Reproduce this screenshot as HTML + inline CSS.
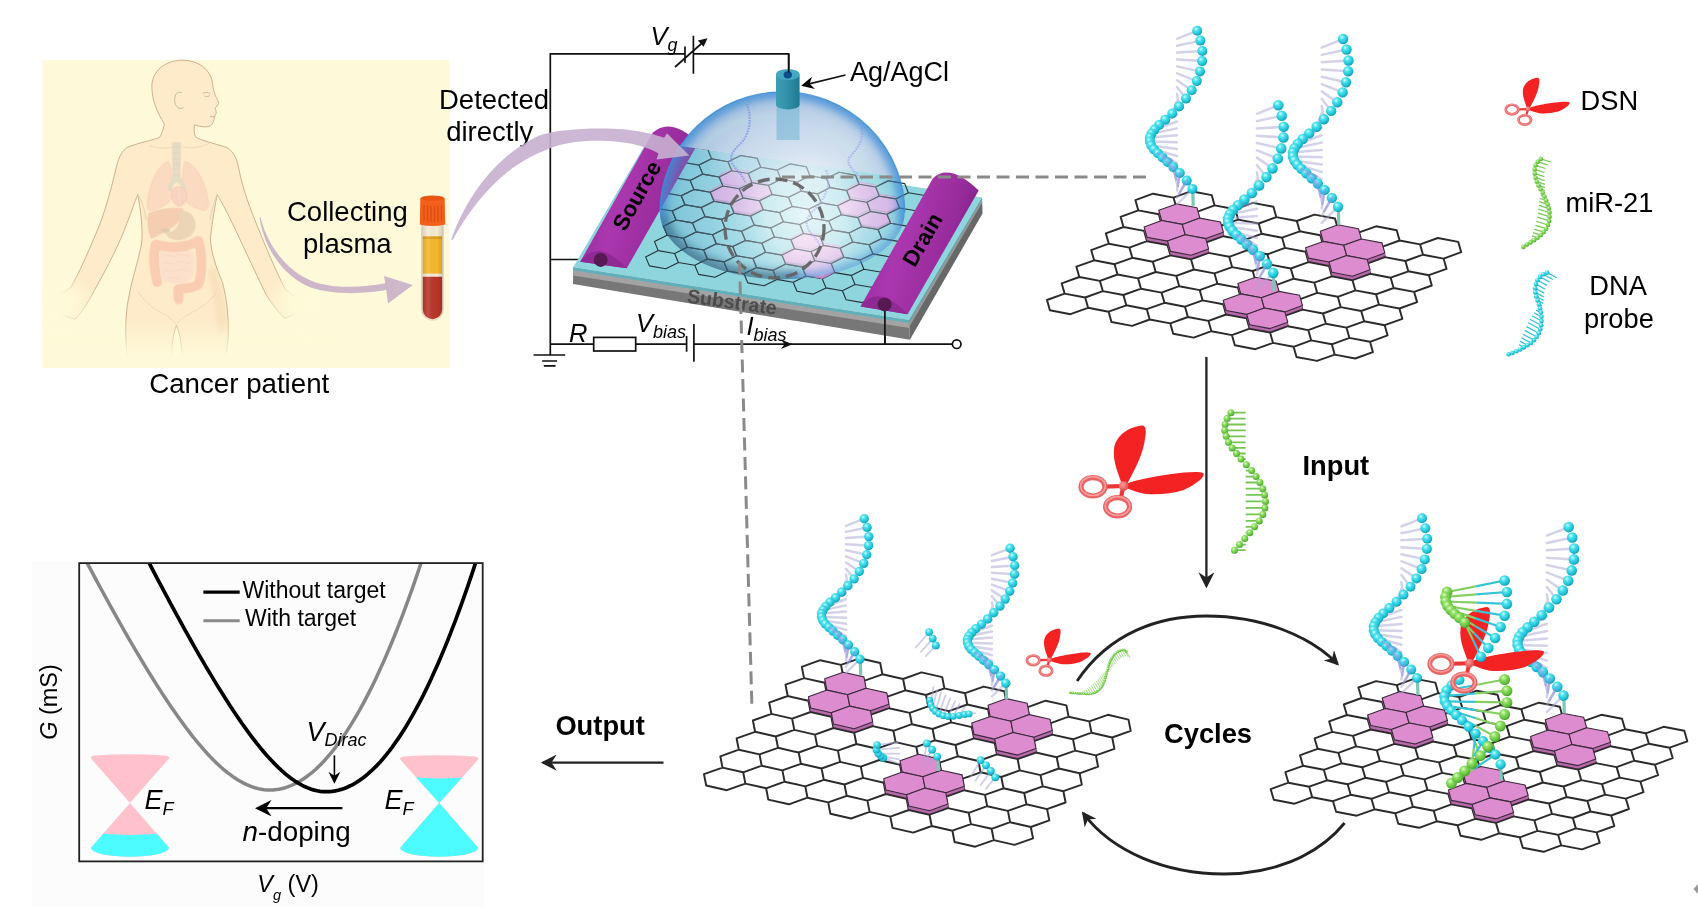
<!DOCTYPE html>
<html><head><meta charset="utf-8"><title>figure</title>
<style>
html,body{margin:0;padding:0;background:#fff;}
svg{display:block;}
text{font-family:"Liberation Sans",sans-serif;fill:#000;}
.b{font-weight:bold;}
.i{font-style:italic;}
</style></head><body>
<svg width="1698" height="913" viewBox="0 0 1698 913">

<defs>
<radialGradient id="gC" cx="0.38" cy="0.32" r="0.75">
 <stop offset="0" stop-color="#d8ffff"/><stop offset="0.28" stop-color="#4fe4f0"/>
 <stop offset="0.7" stop-color="#1fc0d4"/><stop offset="1" stop-color="#0f8fa6"/>
</radialGradient>
<radialGradient id="gG" cx="0.38" cy="0.32" r="0.75">
 <stop offset="0" stop-color="#e4ffc8"/><stop offset="0.3" stop-color="#8fe064"/>
 <stop offset="0.72" stop-color="#62bf3e"/><stop offset="1" stop-color="#3f8f28"/>
</radialGradient>
<radialGradient id="gP" cx="0.4" cy="0.35" r="0.7">
 <stop offset="0" stop-color="#ff9a9a"/><stop offset="1" stop-color="#d94a4a"/>
</radialGradient>
<marker id="ah" viewBox="0 0 10 10" refX="8.5" refY="5" markerWidth="7" markerHeight="7" orient="auto-start-reverse" markerUnits="strokeWidth">
 <path d="M0,0 L10,5 L0,10 L3.2,5 Z" fill="#222"/>
</marker>
<marker id="ah2" viewBox="0 0 10 10" refX="8.5" refY="5" markerWidth="5.6" markerHeight="5.2" orient="auto-start-reverse" markerUnits="strokeWidth">
 <path d="M0,0 L10,5 L0,10 L3.2,5 Z" fill="#222"/>
</marker>
<marker id="ahk" viewBox="0 0 10 10" refX="8.5" refY="5" markerWidth="7.5" markerHeight="7.5" orient="auto-start-reverse" markerUnits="strokeWidth">
 <path d="M0,0 L10,5 L0,10 L3.2,5 Z" fill="#000"/>
</marker>
</defs>

<rect x="0" y="0" width="1698" height="913" fill="#fff"/>
<rect x="42.5" y="60" width="407" height="308" fill="#fefad9"/>
<linearGradient id="fadeB" x1="0" y1="0" x2="0" y2="1">
<stop offset="0" stop-color="#fefad9" stop-opacity="0"/><stop offset="0.8" stop-color="#fefad9" stop-opacity="1"/><stop offset="1" stop-color="#fefad9" stop-opacity="1"/></linearGradient>
<radialGradient id="fadeH" cx="0.5" cy="0.5" r="0.5">
<stop offset="0.25" stop-color="#fefad9" stop-opacity="0.95"/><stop offset="1" stop-color="#fefad9" stop-opacity="0"/></radialGradient>
<g transform="translate(30,50) scale(0.36145)">
<path d="M372,205 C350,170 338,140 337,100 C338,60 370,30 420,28 C468,28 500,55 505,92 C506,104 508,112 512,124 C516,134 522,142 522,148 C521,154 514,156 512,160 C513,166 516,170 515,175 C513,180 510,182 510,186 C510,194 506,204 500,209 C490,216 470,212 455,207 C453,220 454,232 458,240 C470,250 510,258 545,270 C565,282 572,300 578,330 C590,390 610,440 630,490 C650,540 680,610 705,660 C720,675 745,685 752,700 C752,715 730,735 705,742 C690,730 672,705 655,680 C620,610 580,520 548,455 C535,430 525,412 518,400 C512,430 505,470 499,520 C500,560 515,600 533,645 C545,690 550,740 548,800 L540,860 L422,860 C420,820 416,785 405,762 C396,785 392,820 390,860 L270,860 C262,800 264,730 272,690 C280,640 298,590 308,540 C314,500 306,440 298,400 C290,420 280,450 268,480 C250,530 215,600 178,665 C160,700 140,730 125,745 C100,740 65,720 58,695 C70,680 95,668 112,658 C135,620 165,550 192,485 C210,440 228,370 240,320 C246,295 255,280 268,270 C300,256 340,250 358,242 C366,232 368,220 372,205 Z" fill="#fdebc9" stroke="#cdae8c" stroke-width="2.7" stroke-linejoin="round"/>
<filter id="pbl" x="-50%" y="-20%" width="200%" height="140%"><feGaussianBlur stdDeviation="7"/></filter>
<path d="M508,600 C522,640 540,690 545,770 L522,790 C518,720 505,660 494,610 Z" fill="#f3d6ae" opacity="0.55" filter="url(#pbl)"/>
<path d="M330,264 C350,272 380,274 398,268 M422,268 C445,274 470,270 496,258" fill="none" stroke="#ecd0ae" stroke-width="2.2"/>
<path d="M300,670 C320,700 350,722 366,728 C385,738 398,750 405,760 C412,750 425,738 444,728 C470,716 500,695 515,670" fill="none" stroke="#ecd3b3" stroke-width="2.2"/>
<path d="M302,405 C312,425 318,445 322,470 M515,405 C508,425 502,445 498,470" fill="none" stroke="#e6caa8" stroke-width="2.2"/>
<path d="M420,118 C406,112 397,128 401,146 C405,162 418,166 425,158" fill="#fdebc9" stroke="#cdae8c" stroke-width="2.4"/>
<path d="M478,120 C485,116 494,117 499,121 M482,127 C488,130 494,129 498,126" fill="none" stroke="#cfae8c" stroke-width="2.2"/>
<path d="M498,183 C503,186 508,185 513,182" fill="none" stroke="#d9a996" stroke-width="2.6"/>
<g opacity="0.78">
<path d="M383,308 C362,312 338,350 328,400 C321,432 322,447 340,443 C362,436 385,428 392,408 C396,372 394,332 383,308 Z" fill="#f9d4bf" stroke="#f3bfa9" stroke-width="1.6" opacity="0.95"/>
<path d="M428,308 C452,312 478,350 490,400 C497,432 494,447 476,443 C454,436 432,428 426,408 C421,372 420,332 428,308 Z" fill="#f9d4bf" stroke="#f3bfa9" stroke-width="1.6" opacity="0.95"/>
<path d="M393,255 L418,255 L416,350 C423,362 430,372 434,384 L425,388 C420,378 413,370 405,366 C398,370 392,380 388,390 L380,386 C384,372 390,360 394,350 Z" fill="#ddd6c1" opacity="0.95"/>
<path d="M394,270 H417 M394,285 H417 M394,300 H417 M394,315 H417 M394,330 H417 M395,345 H416" stroke="#cfc7b2" stroke-width="1.6" fill="none" opacity="0.8"/>
<path d="M394,388 C401,374 424,375 431,392 C437,410 429,428 412,432 C399,430 388,412 394,388 Z" fill="#f6cfc2" stroke="#eeb3a5" stroke-width="2" opacity="0.95"/>
<path d="M405,385 C402,400 404,415 411,428 M418,382 C424,396 424,412 418,426" fill="none" stroke="#f0bdb0" stroke-width="1.8"/>
<path d="M328,452 C350,440 395,434 424,438 C424,458 412,480 388,494 C366,506 346,520 334,521 C326,502 322,472 328,452 Z" fill="#f2c3a8" opacity="0.95"/>
<path d="M412,446 C432,440 455,455 458,480 C460,505 440,524 412,526 C392,526 378,518 376,506 C392,506 408,496 411,478 C413,465 411,455 412,446 Z" fill="#e3cdb0" opacity="0.95"/>
<path d="M362,498 C372,490 384,492 388,500 C382,508 368,510 362,498 Z" fill="#cdbfa3" opacity="0.85"/>
<path d="M362,555 C390,545 430,548 452,560 C458,590 455,625 440,640 C415,650 385,648 368,635 C358,610 356,580 362,555 Z" fill="#fbdccb" opacity="0.95"/>
<path d="M372,570 C385,562 395,578 408,568 C420,560 432,576 444,568 M370,590 C384,582 396,598 408,588 C420,580 434,596 446,586 M372,612 C386,604 396,620 410,610 C422,602 432,616 442,608 M380,632 C392,626 402,638 414,630" fill="none" stroke="#f6cbb8" stroke-width="1.8"/>
<path d="M352,642 C342,600 340,565 348,538 C385,550 432,548 466,528 C476,560 478,620 466,648 C450,662 425,658 410,662 L411,690 " fill="none" stroke="#f9c3ac" stroke-width="27" stroke-linejoin="round" stroke-linecap="round" opacity="0.95"/>
<path d="M352,642 C342,600 340,565 348,538 C385,550 432,548 466,528 C476,560 478,620 466,648 C450,662 425,658 410,662" fill="none" stroke="#f6b49c" stroke-width="1.6" stroke-dasharray="3 9" opacity="0.7"/>
</g>
</g>
<clipPath id="panelClip"><rect x="42.5" y="60" width="407" height="308"/></clipPath>
<g clip-path="url(#panelClip)">
<rect x="42.5" y="318" width="300" height="50" fill="url(#fadeB)"/>
<ellipse cx="60" cy="304" rx="40" ry="36" fill="url(#fadeH)"/>
<ellipse cx="300" cy="304" rx="38" ry="36" fill="url(#fadeH)"/>
</g>
<path d="M259.4,217.5 C264.2,248 282.7,276.4 311.2,287.8 C334,294.9 362.4,294.1 386.3,290.1 L388,303.5 L412.8,285 L384.1,275.9 L385.2,283.3 C362.4,287.8 336.8,288.4 316.3,282.7 C288.4,273 268.5,248 260.5,217.5 Z" fill="#c9afc6" fill-opacity="0.9"/>
<linearGradient id="tubeG" x1="0" y1="0" x2="1" y2="0">
<stop offset="0" stop-color="#000" stop-opacity="0.12"/><stop offset="0.3" stop-color="#fff" stop-opacity="0.12"/>
<stop offset="0.7" stop-color="#000" stop-opacity="0"/><stop offset="1" stop-color="#000" stop-opacity="0.15"/></linearGradient>
<path d="M421.6,224 L443.3,224 L443.3,309.5 A10.85,10.85 0 0 1 421.6,309.5 Z" fill="#f7ebd3" stroke="#e3d3b8" stroke-width="0.7"/>
<rect x="422.8" y="236.5" width="19.3" height="38" fill="#f4b829"/>
<rect x="422.8" y="236.5" width="19.3" height="2.5" fill="#e0a020"/>
<path d="M422.8,276.5 L442.1,276.5 L442.1,309.5 A9.65,9.65 0 0 1 422.8,309.5 Z" fill="#b93529"/>
<rect x="422.8" y="273.6" width="19.3" height="2.9" fill="#f6ead8"/>
<path d="M421.6,224 L443.3,224 L443.3,309.5 A10.85,10.85 0 0 1 421.6,309.5 Z" fill="url(#tubeG)"/>
<path d="M420.3,198 Q432.5,194.5 444.7,198 L445.2,224.5 Q432.5,227.5 419.8,224.5 Z" fill="#f2601c"/>
<path d="M424,205 V221 M427.5,205.5 V221.5 M431,206 V222 M434.5,206 V222 M438,205.5 V221.5 M441.5,205 V221" stroke="#d94d10" stroke-width="1.2" fill="none"/>
<ellipse cx="432.5" cy="198.2" rx="11.5" ry="2.6" fill="#e85512"/>
<text x="149.2" y="393.3" font-size="27.7">Cancer patient</text>
<text x="287" y="220.6" font-size="27.5">Collecting</text>
<text x="303" y="253.2" font-size="27.5">plasma</text>
<text x="439" y="108.6" font-size="27.5">Detected</text>
<text x="446.2" y="140.8" font-size="27.5">directly</text>
<linearGradient id="elG" x1="0" y1="0" x2="1" y2="0.35">
<stop offset="0" stop-color="#86238b"/><stop offset="0.45" stop-color="#ab37af"/><stop offset="0.8" stop-color="#982c9c"/><stop offset="1" stop-color="#7f2085"/></linearGradient>
<linearGradient id="agG" x1="0" y1="0" x2="1" y2="0">
<stop offset="0" stop-color="#3c9db3"/><stop offset="0.35" stop-color="#3595ac"/><stop offset="1" stop-color="#1f7a92"/></linearGradient>
<radialGradient id="domeG" cx="0.55" cy="0.62" r="0.62" fx="0.58" fy="0.66">
<stop offset="0" stop-color="#ffffff" stop-opacity="0.78"/>
<stop offset="0.35" stop-color="#e4f3fa" stop-opacity="0.66"/>
<stop offset="0.7" stop-color="#a9d0ea" stop-opacity="0.62"/>
<stop offset="0.9" stop-color="#6aaede" stop-opacity="0.78"/>
<stop offset="1" stop-color="#3f8fd2" stop-opacity="0.95"/></radialGradient>
<linearGradient id="domeTop" x1="0" y1="0" x2="0" y2="1">
<stop offset="0" stop-color="#b9c4e8" stop-opacity="0.55"/><stop offset="0.45" stop-color="#c9cfe9" stop-opacity="0.35"/><stop offset="0.6" stop-color="#ffffff" stop-opacity="0"/></linearGradient>
<radialGradient id="domeSh" cx="0.5" cy="0.5" r="0.5">
<stop offset="0.8" stop-color="#1b4a6a" stop-opacity="0"/><stop offset="1" stop-color="#1b4a6a" stop-opacity="0.45"/></radialGradient>
<g stroke="#111" stroke-width="1.7" fill="none">
<path d="M550.3,355 V53.9 H685 M693.4,53.9 H788.7 V72"/>
<path d="M685,46.6 V62.8 M693.4,35.7 V73.7"/>
<path d="M675,67 L705.5,40"/>
<path d="M550.3,259.5 H600"/>
<path d="M550.3,344.2 H593.7 M635.7,344.2 H686.6 M693.9,344.2 H952.4"/>
<rect x="593.7" y="337.4" width="42" height="13.6" fill="#fff"/>
<path d="M686.6,336 V351.8 M693.9,323.9 V361.8"/>
<path d="M884.9,300 V344.2"/>
<circle cx="956.7" cy="344.2" r="4.3" fill="#fff"/>
<path d="M533.5,355 H565.2 M542.2,361 H557.1 M543.8,365.8 H555.6"/>
</g>
<path d="M707.5,38.2 L697.8,40.4 L703.6,46.8 Z" fill="#111"/>
<path d="M792.5,344.2 L781,339.5 L784.5,344.2 L781,348.9 Z" fill="#111"/>
<polygon points="573.2,267.2 909,320 910,339.8 573,284" fill="#777777"/>
<polygon points="909,320 982,197.5 982.5,213.5 910,339.5" fill="#686868"/>
<polygon points="573.2,267.2 909,320 909.3,328 573.2,275.6" fill="#a3a3a3"/>
<polygon points="909,320 982,197.5 982.2,202.5 909.3,327" fill="#989898"/>
<polygon points="573.2,267.2 909,320 909.1,323 573.2,270.3" fill="#5fb0bb"/>
<polygon points="909,320 982,197.5 982.1,199.2 909.1,322.3" fill="#58a6b2"/>
<polygon points="573.2,267.2 909,320 982,197.5 645.5,144" fill="#8fd5de"/>
<text transform="translate(686.4,302.4) rotate(7.9)" font-size="19.6" class="b" style="fill:#484848" fill-opacity="0.92">Substrate</text>
<clipPath id="domeClip0"><path d="M660,212.5 A122.3,120.7 0 0 1 904.7,212.5 A122.3,66.7 0 0 1 660,212.5 Z"/></clipPath>
<polygon points="655,142.6 910,178.3 910,205 655,165" fill="#8fd5de" clip-path="url(#domeClip0)"/>
<clipPath id="tfclip"><polygon points="573.2,267.2 909,320 982,197.5 645.5,144"/><polygon points="655,142.6 910,178.3 910,205 655,165"/></clipPath>
<g clip-path="url(#tfclip)">
<g>
<path d="M731.8 170.7 L719.1 177 L702.8 174.1 L699 165.1 L711.6 158.8 L728 161.7Z M722.9 186 L710.2 192.3 L693.9 189.4 L690.1 180.4 L702.8 174.1 L719.1 177Z M714 201.3 L701.4 207.6 L685 204.7 L681.2 195.7 L693.9 189.4 L710.2 192.3Z M705.1 216.6 L692.4 222.9 L676 220 L672.3 211 L684.9 204.7 L701.3 207.6Z M696.2 231.9 L683.5 238.2 L667.1 235.3 L663.4 226.3 L676 220 L692.4 222.9Z M687.3 247.2 L674.6 253.5 L658.2 250.6 L654.5 241.6 L667.1 235.3 L683.5 238.2Z M678.4 262.5 L665.8 268.8 L649.4 265.9 L645.6 256.9 L658.2 250.6 L674.6 253.5Z M760.8 167.3 L748.2 173.5 L731.8 170.7 L728 161.7 L740.7 155.4 L757.1 158.2Z M751.9 182.6 L739.3 188.8 L722.9 186 L719.1 177 L731.8 170.7 L748.2 173.5Z M743 197.9 L730.4 204.1 L714 201.3 L710.2 192.3 L722.9 186 L739.3 188.8Z M734.1 213.2 L721.5 219.4 L705.1 216.6 L701.3 207.6 L714 201.3 L730.4 204.1Z M725.2 228.5 L712.6 234.7 L696.2 231.9 L692.4 222.9 L705.1 216.6 L721.5 219.4Z M716.3 243.8 L703.7 250 L687.3 247.2 L683.5 238.2 L696.2 231.9 L712.6 234.7Z M707.4 259.1 L694.8 265.3 L678.4 262.5 L674.6 253.5 L687.3 247.2 L703.7 250Z M781 179.2 L768.4 185.4 L752 182.6 L748.2 173.5 L760.9 167.3 L777.2 170.1Z M772.1 194.5 L759.5 200.7 L743.1 197.9 L739.3 188.8 L752 182.6 L768.4 185.4Z M763.2 209.8 L750.5 216 L734.1 213.2 L730.4 204.1 L743 197.9 L759.4 200.7Z M754.3 225.1 L741.6 231.3 L725.2 228.5 L721.5 219.4 L734.1 213.2 L750.5 216Z M745.4 240.4 L732.8 246.6 L716.4 243.8 L712.6 234.7 L725.2 228.5 L741.6 231.3Z M736.5 255.7 L723.9 261.9 L707.5 259.1 L703.7 250 L716.4 243.8 L732.8 246.6Z M727.6 271 L715 277.2 L698.6 274.4 L694.8 265.3 L707.5 259.1 L723.9 261.9Z M810 175.8 L797.4 182 L781 179.2 L777.2 170.1 L789.9 163.9 L806.3 166.7Z M801.1 191.1 L788.5 197.3 L772.1 194.5 L768.4 185.4 L781 179.2 L797.4 182Z M792.2 206.4 L779.6 212.6 L763.2 209.8 L759.4 200.7 L772.1 194.5 L788.5 197.3Z M783.3 221.7 L770.7 227.9 L754.3 225.1 L750.5 216 L763.2 209.8 L779.6 212.6Z M774.4 237 L761.8 243.2 L745.4 240.4 L741.6 231.3 L754.3 225.1 L770.7 227.9Z M765.5 252.3 L752.9 258.5 L736.5 255.7 L732.8 246.6 L745.4 240.4 L761.8 243.2Z M756.6 267.6 L744 273.8 L727.6 271 L723.9 261.9 L736.5 255.7 L752.9 258.5Z M830.2 187.6 L817.6 193.9 L801.2 191.1 L797.4 182 L810.1 175.8 L826.5 178.6Z M821.3 202.9 L808.6 209.2 L792.2 206.4 L788.5 197.3 L801.1 191.1 L817.5 193.9Z M812.4 218.2 L799.8 224.5 L783.4 221.7 L779.6 212.6 L792.2 206.4 L808.6 209.2Z M803.5 233.5 L790.9 239.8 L774.5 237 L770.7 227.9 L783.4 221.7 L799.8 224.5Z M794.6 248.8 L782 255.1 L765.6 252.3 L761.8 243.2 L774.5 237 L790.9 239.8Z M785.7 264.1 L773.1 270.4 L756.7 267.6 L752.9 258.5 L765.6 252.3 L782 255.1Z M776.8 279.4 L764.1 285.7 L747.8 282.9 L744 273.8 L756.6 267.6 L773 270.4Z M859.2 184.2 L846.6 190.5 L830.2 187.6 L826.5 178.6 L839.1 172.3 L855.5 175.2Z M850.3 199.5 L837.7 205.8 L821.3 202.9 L817.5 193.9 L830.2 187.6 L846.6 190.5Z M841.4 214.8 L828.8 221.1 L812.4 218.2 L808.6 209.2 L821.3 202.9 L837.7 205.8Z M832.5 230.1 L819.9 236.4 L803.5 233.5 L799.8 224.5 L812.4 218.2 L828.8 221.1Z M823.6 245.4 L811 251.7 L794.6 248.8 L790.9 239.8 L803.5 233.5 L819.9 236.4Z M814.8 260.7 L802.1 267 L785.7 264.1 L782 255.1 L794.6 248.8 L811 251.7Z M805.8 276 L793.2 282.3 L776.8 279.4 L773 270.4 L785.7 264.1 L802.1 267Z M879.4 196.1 L866.8 202.3 L850.4 199.5 L846.6 190.5 L859.2 184.2 L875.6 187Z M870.5 211.4 L857.9 217.6 L841.5 214.8 L837.7 205.8 L850.4 199.5 L866.8 202.3Z M861.6 226.7 L849 232.9 L832.6 230.1 L828.8 221.1 L841.5 214.8 L857.9 217.6Z M852.7 242 L840.1 248.2 L823.7 245.4 L819.9 236.4 L832.6 230.1 L849 232.9Z M843.8 257.3 L831.2 263.5 L814.8 260.7 L811 251.7 L823.7 245.4 L840.1 248.2Z M834.9 272.6 L822.2 278.8 L805.9 276 L802.1 267 L814.8 260.7 L831.1 263.5Z M826 287.9 L813.4 294.1 L797 291.3 L793.2 282.3 L805.9 276 L822.2 278.8Z M908.4 192.7 L895.8 198.9 L879.4 196.1 L875.6 187 L888.3 180.8 L904.7 183.6Z M899.5 208 L886.9 214.2 L870.5 211.4 L866.8 202.3 L879.4 196.1 L895.8 198.9Z M890.6 223.3 L878 229.5 L861.6 226.7 L857.9 217.6 L870.5 211.4 L886.9 214.2Z M881.8 238.6 L869.1 244.8 L852.7 242 L849 232.9 L861.6 226.7 L878 229.5Z M872.9 253.9 L860.2 260.1 L843.8 257.3 L840.1 248.2 L852.7 242 L869.1 244.8Z M863.9 269.2 L851.3 275.4 L834.9 272.6 L831.1 263.5 L843.8 257.3 L860.2 260.1Z M855 284.5 L842.4 290.7 L826 287.9 L822.2 278.8 L834.9 272.6 L851.3 275.4Z M928.6 204.6 L915.9 210.8 L899.5 208 L895.8 198.9 L908.4 192.7 L924.8 195.5Z M919.7 219.9 L907 226.1 L890.6 223.3 L886.9 214.2 L899.5 208 L915.9 210.8Z M910.8 235.2 L898.1 241.4 L881.8 238.6 L878 229.5 L890.6 223.3 L907 226.1Z M901.9 250.5 L889.2 256.7 L872.9 253.9 L869.1 244.8 L881.8 238.6 L898.1 241.4Z M893 265.8 L880.3 272 L863.9 269.2 L860.2 260.1 L872.8 253.9 L889.2 256.7Z M884.1 281.1 L871.4 287.3 L855 284.5 L851.3 275.4 L863.9 269.2 L880.3 272Z M875.2 296.4 L862.5 302.6 L846.1 299.8 L842.4 290.7 L855 284.5 L871.4 287.3Z M957.6 201.1 L945 207.4 L928.6 204.6 L924.8 195.5 L937.5 189.3 L953.9 192.1Z M948.7 216.4 L936.1 222.7 L919.7 219.9 L915.9 210.8 L928.6 204.6 L945 207.4Z M939.8 231.7 L927.2 238 L910.8 235.2 L907 226.1 L919.7 219.9 L936.1 222.7Z M930.9 247 L918.3 253.3 L901.9 250.5 L898.1 241.4 L910.8 235.2 L927.2 238Z M922 262.3 L909.4 268.6 L893 265.8 L889.2 256.7 L901.9 250.5 L918.3 253.3Z M913.1 277.6 L900.5 283.9 L884.1 281.1 L880.3 272 L893 265.8 L909.4 268.6Z M904.2 292.9 L891.6 299.2 L875.2 296.4 L871.4 287.3 L884.1 281.1 L900.5 283.9Z" fill="none" stroke="#26323a" stroke-width="1.15" stroke-linejoin="round"/>
<polygon points="751.9,182.2 739.3,188.4 722.9,185.6 719.1,176.6 731.8,170.3 748.2,173.1" fill="#c487c6" stroke="#b58fbe" stroke-width="0.7" stroke-linejoin="round"/>
<polygon points="748.2,171.3 751.9,180.4 751.9,182.2 748.2,173.1" fill="#c487c6" stroke="none"/>
<polygon points="751.9,180.4 739.3,186.6 739.3,188.4 751.9,182.2" fill="#c487c6" stroke="none"/>
<polygon points="739.3,186.6 722.9,183.8 722.9,185.6 739.3,188.4" fill="#c487c6" stroke="none"/>
<polygon points="722.9,183.8 719.1,174.8 719.1,176.6 722.9,185.6" fill="#c487c6" stroke="none"/>
<polygon points="743,197.5 730.4,203.7 714,200.9 710.2,191.9 722.9,185.6 739.3,188.4" fill="#c487c6" stroke="#b58fbe" stroke-width="0.7" stroke-linejoin="round"/>
<polygon points="739.3,186.6 743,195.7 743,197.5 739.3,188.4" fill="#c487c6" stroke="none"/>
<polygon points="743,195.7 730.4,201.9 730.4,203.7 743,197.5" fill="#c487c6" stroke="none"/>
<polygon points="730.4,201.9 714,199.1 714,200.9 730.4,203.7" fill="#c487c6" stroke="none"/>
<polygon points="714,199.1 710.2,190.1 710.2,191.9 714,200.9" fill="#c487c6" stroke="none"/>
<polygon points="772.1,194.1 759.5,200.3 743.1,197.5 739.3,188.4 752,182.2 768.4,185" fill="#c487c6" stroke="#b58fbe" stroke-width="0.7" stroke-linejoin="round"/>
<polygon points="768.4,183.2 772.1,192.3 772.1,194.1 768.4,185" fill="#c487c6" stroke="none"/>
<polygon points="772.1,192.3 759.5,198.5 759.5,200.3 772.1,194.1" fill="#c487c6" stroke="none"/>
<polygon points="759.5,198.5 743.1,195.7 743.1,197.5 759.5,200.3" fill="#c487c6" stroke="none"/>
<polygon points="743.1,195.7 739.3,186.6 739.3,188.4 743.1,197.5" fill="#c487c6" stroke="none"/>
<polygon points="763.2,209.4 750.5,215.6 734.1,212.8 730.4,203.7 743,197.5 759.4,200.3" fill="#c487c6" stroke="#b58fbe" stroke-width="0.7" stroke-linejoin="round"/>
<polygon points="759.4,198.5 763.2,207.6 763.2,209.4 759.4,200.3" fill="#c487c6" stroke="none"/>
<polygon points="763.2,207.6 750.5,213.8 750.5,215.6 763.2,209.4" fill="#c487c6" stroke="none"/>
<polygon points="750.5,213.8 734.1,211 734.1,212.8 750.5,215.6" fill="#c487c6" stroke="none"/>
<polygon points="734.1,211 730.4,201.9 730.4,203.7 734.1,212.8" fill="#c487c6" stroke="none"/>
<polygon points="751.9,180.4 739.3,186.6 722.9,183.8 719.1,174.8 731.8,168.5 748.2,171.3" fill="#eaa6e2" stroke="#b58fbe" stroke-width="0.7" stroke-linejoin="round"/>
<polygon points="743,195.7 730.4,201.9 714,199.1 710.2,190.1 722.9,183.8 739.3,186.6" fill="#eaa6e2" stroke="#b58fbe" stroke-width="0.7" stroke-linejoin="round"/>
<polygon points="772.1,192.3 759.5,198.5 743.1,195.7 739.3,186.6 752,180.4 768.4,183.2" fill="#eaa6e2" stroke="#b58fbe" stroke-width="0.7" stroke-linejoin="round"/>
<polygon points="763.2,207.6 750.5,213.8 734.1,211 730.4,201.9 743,195.7 759.4,198.5" fill="#eaa6e2" stroke="#b58fbe" stroke-width="0.7" stroke-linejoin="round"/>
<polygon points="879.4,195.7 866.8,201.9 850.4,199.1 846.6,190.1 859.2,183.8 875.6,186.6" fill="#c487c6" stroke="#b58fbe" stroke-width="0.7" stroke-linejoin="round"/>
<polygon points="875.6,184.8 879.4,193.9 879.4,195.7 875.6,186.6" fill="#c487c6" stroke="none"/>
<polygon points="879.4,193.9 866.8,200.1 866.8,201.9 879.4,195.7" fill="#c487c6" stroke="none"/>
<polygon points="866.8,200.1 850.4,197.3 850.4,199.1 866.8,201.9" fill="#c487c6" stroke="none"/>
<polygon points="850.4,197.3 846.6,188.3 846.6,190.1 850.4,199.1" fill="#c487c6" stroke="none"/>
<polygon points="870.5,211 857.9,217.2 841.5,214.4 837.7,205.4 850.4,199.1 866.8,201.9" fill="#c487c6" stroke="#b58fbe" stroke-width="0.7" stroke-linejoin="round"/>
<polygon points="866.8,200.1 870.5,209.2 870.5,211 866.8,201.9" fill="#c487c6" stroke="none"/>
<polygon points="870.5,209.2 857.9,215.4 857.9,217.2 870.5,211" fill="#c487c6" stroke="none"/>
<polygon points="857.9,215.4 841.5,212.6 841.5,214.4 857.9,217.2" fill="#c487c6" stroke="none"/>
<polygon points="841.5,212.6 837.7,203.6 837.7,205.4 841.5,214.4" fill="#c487c6" stroke="none"/>
<polygon points="899.5,207.6 886.9,213.8 870.5,211 866.8,201.9 879.4,195.7 895.8,198.5" fill="#c487c6" stroke="#b58fbe" stroke-width="0.7" stroke-linejoin="round"/>
<polygon points="895.8,196.7 899.5,205.8 899.5,207.6 895.8,198.5" fill="#c487c6" stroke="none"/>
<polygon points="899.5,205.8 886.9,212 886.9,213.8 899.5,207.6" fill="#c487c6" stroke="none"/>
<polygon points="886.9,212 870.5,209.2 870.5,211 886.9,213.8" fill="#c487c6" stroke="none"/>
<polygon points="870.5,209.2 866.8,200.1 866.8,201.9 870.5,211" fill="#c487c6" stroke="none"/>
<polygon points="890.6,222.9 878,229.1 861.6,226.3 857.9,217.2 870.5,211 886.9,213.8" fill="#c487c6" stroke="#b58fbe" stroke-width="0.7" stroke-linejoin="round"/>
<polygon points="886.9,212 890.6,221.1 890.6,222.9 886.9,213.8" fill="#c487c6" stroke="none"/>
<polygon points="890.6,221.1 878,227.3 878,229.1 890.6,222.9" fill="#c487c6" stroke="none"/>
<polygon points="878,227.3 861.6,224.5 861.6,226.3 878,229.1" fill="#c487c6" stroke="none"/>
<polygon points="861.6,224.5 857.9,215.4 857.9,217.2 861.6,226.3" fill="#c487c6" stroke="none"/>
<polygon points="879.4,193.9 866.8,200.1 850.4,197.3 846.6,188.3 859.2,182 875.6,184.8" fill="#eaa6e2" stroke="#b58fbe" stroke-width="0.7" stroke-linejoin="round"/>
<polygon points="870.5,209.2 857.9,215.4 841.5,212.6 837.7,203.6 850.4,197.3 866.8,200.1" fill="#eaa6e2" stroke="#b58fbe" stroke-width="0.7" stroke-linejoin="round"/>
<polygon points="899.5,205.8 886.9,212 870.5,209.2 866.8,200.1 879.4,193.9 895.8,196.7" fill="#eaa6e2" stroke="#b58fbe" stroke-width="0.7" stroke-linejoin="round"/>
<polygon points="890.6,221.1 878,227.3 861.6,224.5 857.9,215.4 870.5,209.2 886.9,212" fill="#eaa6e2" stroke="#b58fbe" stroke-width="0.7" stroke-linejoin="round"/>
<polygon points="823.6,245 811,251.3 794.6,248.4 790.9,239.4 803.5,233.1 819.9,236" fill="#c487c6" stroke="#b58fbe" stroke-width="0.7" stroke-linejoin="round"/>
<polygon points="819.9,234.2 823.6,243.2 823.6,245 819.9,236" fill="#c487c6" stroke="none"/>
<polygon points="823.6,243.2 811,249.5 811,251.3 823.6,245" fill="#c487c6" stroke="none"/>
<polygon points="811,249.5 794.6,246.6 794.6,248.4 811,251.3" fill="#c487c6" stroke="none"/>
<polygon points="794.6,246.6 790.9,237.6 790.9,239.4 794.6,248.4" fill="#c487c6" stroke="none"/>
<polygon points="814.8,260.3 802.1,266.6 785.7,263.7 782,254.7 794.6,248.4 811,251.3" fill="#c487c6" stroke="#b58fbe" stroke-width="0.7" stroke-linejoin="round"/>
<polygon points="811,249.5 814.8,258.5 814.8,260.3 811,251.3" fill="#c487c6" stroke="none"/>
<polygon points="814.8,258.5 802.1,264.8 802.1,266.6 814.8,260.3" fill="#c487c6" stroke="none"/>
<polygon points="802.1,264.8 785.7,261.9 785.7,263.7 802.1,266.6" fill="#c487c6" stroke="none"/>
<polygon points="785.7,261.9 782,252.9 782,254.7 785.7,263.7" fill="#c487c6" stroke="none"/>
<polygon points="843.8,256.9 831.2,263.1 814.8,260.3 811,251.3 823.7,245 840.1,247.8" fill="#c487c6" stroke="#b58fbe" stroke-width="0.7" stroke-linejoin="round"/>
<polygon points="840.1,246 843.8,255.1 843.8,256.9 840.1,247.8" fill="#c487c6" stroke="none"/>
<polygon points="843.8,255.1 831.2,261.3 831.2,263.1 843.8,256.9" fill="#c487c6" stroke="none"/>
<polygon points="831.2,261.3 814.8,258.5 814.8,260.3 831.2,263.1" fill="#c487c6" stroke="none"/>
<polygon points="814.8,258.5 811,249.5 811,251.3 814.8,260.3" fill="#c487c6" stroke="none"/>
<polygon points="834.9,272.2 822.2,278.4 805.9,275.6 802.1,266.6 814.8,260.3 831.1,263.1" fill="#c487c6" stroke="#b58fbe" stroke-width="0.7" stroke-linejoin="round"/>
<polygon points="831.1,261.3 834.9,270.4 834.9,272.2 831.1,263.1" fill="#c487c6" stroke="none"/>
<polygon points="834.9,270.4 822.2,276.6 822.2,278.4 834.9,272.2" fill="#c487c6" stroke="none"/>
<polygon points="822.2,276.6 805.9,273.8 805.9,275.6 822.2,278.4" fill="#c487c6" stroke="none"/>
<polygon points="805.9,273.8 802.1,264.8 802.1,266.6 805.9,275.6" fill="#c487c6" stroke="none"/>
<polygon points="823.6,243.2 811,249.5 794.6,246.6 790.9,237.6 803.5,231.3 819.9,234.2" fill="#eaa6e2" stroke="#b58fbe" stroke-width="0.7" stroke-linejoin="round"/>
<polygon points="814.8,258.5 802.1,264.8 785.7,261.9 782,252.9 794.6,246.6 811,249.5" fill="#eaa6e2" stroke="#b58fbe" stroke-width="0.7" stroke-linejoin="round"/>
<polygon points="843.8,255.1 831.2,261.3 814.8,258.5 811,249.5 823.7,243.2 840.1,246" fill="#eaa6e2" stroke="#b58fbe" stroke-width="0.7" stroke-linejoin="round"/>
<polygon points="834.9,270.4 822.2,276.6 805.9,273.8 802.1,264.8 814.8,258.5 831.1,261.3" fill="#eaa6e2" stroke="#b58fbe" stroke-width="0.7" stroke-linejoin="round"/>
</g>
</g>
<g clip-path="url(#domeClip0)">
<g clip-path="url(#tfclip)">
<path d="M731.8 170.7 L719.1 177 L702.8 174.1 L699 165.1 L711.6 158.8 L728 161.7Z M722.9 186 L710.2 192.3 L693.9 189.4 L690.1 180.4 L702.8 174.1 L719.1 177Z M714 201.3 L701.4 207.6 L685 204.7 L681.2 195.7 L693.9 189.4 L710.2 192.3Z M705.1 216.6 L692.4 222.9 L676 220 L672.3 211 L684.9 204.7 L701.3 207.6Z M696.2 231.9 L683.5 238.2 L667.1 235.3 L663.4 226.3 L676 220 L692.4 222.9Z M687.3 247.2 L674.6 253.5 L658.2 250.6 L654.5 241.6 L667.1 235.3 L683.5 238.2Z M678.4 262.5 L665.8 268.8 L649.4 265.9 L645.6 256.9 L658.2 250.6 L674.6 253.5Z M760.8 167.3 L748.2 173.5 L731.8 170.7 L728 161.7 L740.7 155.4 L757.1 158.2Z M751.9 182.6 L739.3 188.8 L722.9 186 L719.1 177 L731.8 170.7 L748.2 173.5Z M743 197.9 L730.4 204.1 L714 201.3 L710.2 192.3 L722.9 186 L739.3 188.8Z M734.1 213.2 L721.5 219.4 L705.1 216.6 L701.3 207.6 L714 201.3 L730.4 204.1Z M725.2 228.5 L712.6 234.7 L696.2 231.9 L692.4 222.9 L705.1 216.6 L721.5 219.4Z M716.3 243.8 L703.7 250 L687.3 247.2 L683.5 238.2 L696.2 231.9 L712.6 234.7Z M707.4 259.1 L694.8 265.3 L678.4 262.5 L674.6 253.5 L687.3 247.2 L703.7 250Z M781 179.2 L768.4 185.4 L752 182.6 L748.2 173.5 L760.9 167.3 L777.2 170.1Z M772.1 194.5 L759.5 200.7 L743.1 197.9 L739.3 188.8 L752 182.6 L768.4 185.4Z M763.2 209.8 L750.5 216 L734.1 213.2 L730.4 204.1 L743 197.9 L759.4 200.7Z M754.3 225.1 L741.6 231.3 L725.2 228.5 L721.5 219.4 L734.1 213.2 L750.5 216Z M745.4 240.4 L732.8 246.6 L716.4 243.8 L712.6 234.7 L725.2 228.5 L741.6 231.3Z M736.5 255.7 L723.9 261.9 L707.5 259.1 L703.7 250 L716.4 243.8 L732.8 246.6Z M727.6 271 L715 277.2 L698.6 274.4 L694.8 265.3 L707.5 259.1 L723.9 261.9Z M810 175.8 L797.4 182 L781 179.2 L777.2 170.1 L789.9 163.9 L806.3 166.7Z M801.1 191.1 L788.5 197.3 L772.1 194.5 L768.4 185.4 L781 179.2 L797.4 182Z M792.2 206.4 L779.6 212.6 L763.2 209.8 L759.4 200.7 L772.1 194.5 L788.5 197.3Z M783.3 221.7 L770.7 227.9 L754.3 225.1 L750.5 216 L763.2 209.8 L779.6 212.6Z M774.4 237 L761.8 243.2 L745.4 240.4 L741.6 231.3 L754.3 225.1 L770.7 227.9Z M765.5 252.3 L752.9 258.5 L736.5 255.7 L732.8 246.6 L745.4 240.4 L761.8 243.2Z M756.6 267.6 L744 273.8 L727.6 271 L723.9 261.9 L736.5 255.7 L752.9 258.5Z M830.2 187.6 L817.6 193.9 L801.2 191.1 L797.4 182 L810.1 175.8 L826.5 178.6Z M821.3 202.9 L808.6 209.2 L792.2 206.4 L788.5 197.3 L801.1 191.1 L817.5 193.9Z M812.4 218.2 L799.8 224.5 L783.4 221.7 L779.6 212.6 L792.2 206.4 L808.6 209.2Z M803.5 233.5 L790.9 239.8 L774.5 237 L770.7 227.9 L783.4 221.7 L799.8 224.5Z M794.6 248.8 L782 255.1 L765.6 252.3 L761.8 243.2 L774.5 237 L790.9 239.8Z M785.7 264.1 L773.1 270.4 L756.7 267.6 L752.9 258.5 L765.6 252.3 L782 255.1Z M776.8 279.4 L764.1 285.7 L747.8 282.9 L744 273.8 L756.6 267.6 L773 270.4Z M859.2 184.2 L846.6 190.5 L830.2 187.6 L826.5 178.6 L839.1 172.3 L855.5 175.2Z M850.3 199.5 L837.7 205.8 L821.3 202.9 L817.5 193.9 L830.2 187.6 L846.6 190.5Z M841.4 214.8 L828.8 221.1 L812.4 218.2 L808.6 209.2 L821.3 202.9 L837.7 205.8Z M832.5 230.1 L819.9 236.4 L803.5 233.5 L799.8 224.5 L812.4 218.2 L828.8 221.1Z M823.6 245.4 L811 251.7 L794.6 248.8 L790.9 239.8 L803.5 233.5 L819.9 236.4Z M814.8 260.7 L802.1 267 L785.7 264.1 L782 255.1 L794.6 248.8 L811 251.7Z M805.8 276 L793.2 282.3 L776.8 279.4 L773 270.4 L785.7 264.1 L802.1 267Z M879.4 196.1 L866.8 202.3 L850.4 199.5 L846.6 190.5 L859.2 184.2 L875.6 187Z M870.5 211.4 L857.9 217.6 L841.5 214.8 L837.7 205.8 L850.4 199.5 L866.8 202.3Z M861.6 226.7 L849 232.9 L832.6 230.1 L828.8 221.1 L841.5 214.8 L857.9 217.6Z M852.7 242 L840.1 248.2 L823.7 245.4 L819.9 236.4 L832.6 230.1 L849 232.9Z M843.8 257.3 L831.2 263.5 L814.8 260.7 L811 251.7 L823.7 245.4 L840.1 248.2Z M834.9 272.6 L822.2 278.8 L805.9 276 L802.1 267 L814.8 260.7 L831.1 263.5Z M826 287.9 L813.4 294.1 L797 291.3 L793.2 282.3 L805.9 276 L822.2 278.8Z M908.4 192.7 L895.8 198.9 L879.4 196.1 L875.6 187 L888.3 180.8 L904.7 183.6Z M899.5 208 L886.9 214.2 L870.5 211.4 L866.8 202.3 L879.4 196.1 L895.8 198.9Z M890.6 223.3 L878 229.5 L861.6 226.7 L857.9 217.6 L870.5 211.4 L886.9 214.2Z M881.8 238.6 L869.1 244.8 L852.7 242 L849 232.9 L861.6 226.7 L878 229.5Z M872.9 253.9 L860.2 260.1 L843.8 257.3 L840.1 248.2 L852.7 242 L869.1 244.8Z M863.9 269.2 L851.3 275.4 L834.9 272.6 L831.1 263.5 L843.8 257.3 L860.2 260.1Z M855 284.5 L842.4 290.7 L826 287.9 L822.2 278.8 L834.9 272.6 L851.3 275.4Z M928.6 204.6 L915.9 210.8 L899.5 208 L895.8 198.9 L908.4 192.7 L924.8 195.5Z M919.7 219.9 L907 226.1 L890.6 223.3 L886.9 214.2 L899.5 208 L915.9 210.8Z M910.8 235.2 L898.1 241.4 L881.8 238.6 L878 229.5 L890.6 223.3 L907 226.1Z M901.9 250.5 L889.2 256.7 L872.9 253.9 L869.1 244.8 L881.8 238.6 L898.1 241.4Z M893 265.8 L880.3 272 L863.9 269.2 L860.2 260.1 L872.8 253.9 L889.2 256.7Z M884.1 281.1 L871.4 287.3 L855 284.5 L851.3 275.4 L863.9 269.2 L880.3 272Z M875.2 296.4 L862.5 302.6 L846.1 299.8 L842.4 290.7 L855 284.5 L871.4 287.3Z M957.6 201.1 L945 207.4 L928.6 204.6 L924.8 195.5 L937.5 189.3 L953.9 192.1Z M948.7 216.4 L936.1 222.7 L919.7 219.9 L915.9 210.8 L928.6 204.6 L945 207.4Z M939.8 231.7 L927.2 238 L910.8 235.2 L907 226.1 L919.7 219.9 L936.1 222.7Z M930.9 247 L918.3 253.3 L901.9 250.5 L898.1 241.4 L910.8 235.2 L927.2 238Z M922 262.3 L909.4 268.6 L893 265.8 L889.2 256.7 L901.9 250.5 L918.3 253.3Z M913.1 277.6 L900.5 283.9 L884.1 281.1 L880.3 272 L893 265.8 L909.4 268.6Z M904.2 292.9 L891.6 299.2 L875.2 296.4 L871.4 287.3 L884.1 281.1 L900.5 283.9Z M711.6 158.8 L699 165.1 L682.6 162.3 L678.9 153.2 L691.5 147 L707.9 149.8Z M702.8 174.1 L690.1 180.4 L673.7 177.6 L670 168.5 L682.6 162.3 L699 165.1Z M693.9 189.4 L681.2 195.7 L664.8 192.9 L661.1 183.8 L673.7 177.6 L690.1 180.4Z M685 204.7 L672.3 211 L655.9 208.2 L652.2 199.1 L664.8 192.9 L681.2 195.7Z M676 220 L663.4 226.3 L647 223.5 L643.2 214.4 L655.9 208.2 L672.3 211Z M667.1 235.3 L654.5 241.6 L638.1 238.8 L634.4 229.7 L647 223.5 L663.4 226.3Z M658.2 250.6 L645.6 256.9 L629.2 254.1 L625.5 245 L638.1 238.8 L654.5 241.6Z" fill="none" stroke="#26323a" stroke-width="1.15" stroke-linejoin="round"/>
</g>
</g>
<path d="M580.2,261.8 L652.9,132.4 Q670.7,116.5 698.5,142.6 L626.8,268.3 Z" fill="url(#elG)"/>
<path d="M580.2,261.8 Q597.8,237.4 626.8,268.3 Z" fill="#8f2a94"/>
<circle cx="600.7" cy="259.9" r="7" fill="#561a52"/>
<text transform="translate(643.5,199.3) rotate(-60.8)" font-size="22.3" class="b" text-anchor="middle">Source</text>
<clipPath id="domeClip"><path d="M660,212.5 A122.3,120.7 0 0 1 904.7,212.5 A122.3,66.7 0 0 1 660,212.5 Z"/></clipPath>
<filter id="bl5" x="-20%" y="-20%" width="140%" height="140%"><feGaussianBlur stdDeviation="5"/></filter>
<filter id="bl3" x="-20%" y="-20%" width="140%" height="140%"><feGaussianBlur stdDeviation="2.5"/></filter>
<filter id="bl9" x="-30%" y="-30%" width="160%" height="160%"><feGaussianBlur stdDeviation="9"/></filter>
<radialGradient id="domeW" gradientUnits="userSpaceOnUse" cx="806" cy="214" r="135">
<stop offset="0" stop-color="#ffffff" stop-opacity="0.8"/><stop offset="0.3" stop-color="#f4fbfd" stop-opacity="0.62"/>
<stop offset="0.6" stop-color="#b5dcee" stop-opacity="0.36"/><stop offset="1" stop-color="#5b9fcc" stop-opacity="0.32"/></radialGradient>
<g clip-path="url(#domeClip)">
<polygon points="640,60 930,60 930,181.1 655,142.6 640,140" fill="#ccd2e8"/>
<ellipse cx="790" cy="150" rx="75" ry="38" fill="#e3e4f0" fill-opacity="0.55" filter="url(#bl9)"/>
<path d="M660,212.5 A122.3,120.7 0 0 1 904.7,212.5 A122.3,66.7 0 0 1 660,212.5 Z" fill="url(#domeW)"/>
<path d="M700,150 C720,120 760,112 800,118 M820,132 C850,140 870,165 880,195" fill="none" stroke="#bff0e0" stroke-width="3" stroke-opacity="0.35" filter="url(#bl3)"/>
<path d="M660,212.5 A122.3,66.7 0 0 0 800,279" fill="none" stroke="#1f4a63" stroke-width="16" stroke-opacity="0.55" filter="url(#bl5)"/>
<path d="M655,232 L660,212.5 A122.3,120.7 0 0 1 904.7,212.5 L912,235" fill="none" stroke="#3a8bd6" stroke-width="12" stroke-opacity="0.85" filter="url(#bl5)"/>
<path d="M904.7,212.5 A122.3,66.7 0 0 1 782,279.2" fill="none" stroke="#3a8bd6" stroke-width="10" stroke-opacity="0.6" filter="url(#bl5)"/>
<path d="M782,279.2 A122.3,66.7 0 0 1 660,212.5" fill="none" stroke="#4a7fa8" stroke-width="8" stroke-opacity="0.35" filter="url(#bl5)"/>
</g>
<clipPath id="noSrc"><polygon points="700,140 1000,140 1000,350 626.8,350 626.8,268.3"/></clipPath>
<g clip-path="url(#noSrc)"><g clip-path="url(#domeClip)" opacity="0.3">
<g clip-path="url(#tfclip)">
<path d="M731.8 170.7 L719.1 177 L702.8 174.1 L699 165.1 L711.6 158.8 L728 161.7Z M722.9 186 L710.2 192.3 L693.9 189.4 L690.1 180.4 L702.8 174.1 L719.1 177Z M714 201.3 L701.4 207.6 L685 204.7 L681.2 195.7 L693.9 189.4 L710.2 192.3Z M705.1 216.6 L692.4 222.9 L676 220 L672.3 211 L684.9 204.7 L701.3 207.6Z M696.2 231.9 L683.5 238.2 L667.1 235.3 L663.4 226.3 L676 220 L692.4 222.9Z M687.3 247.2 L674.6 253.5 L658.2 250.6 L654.5 241.6 L667.1 235.3 L683.5 238.2Z M678.4 262.5 L665.8 268.8 L649.4 265.9 L645.6 256.9 L658.2 250.6 L674.6 253.5Z M760.8 167.3 L748.2 173.5 L731.8 170.7 L728 161.7 L740.7 155.4 L757.1 158.2Z M751.9 182.6 L739.3 188.8 L722.9 186 L719.1 177 L731.8 170.7 L748.2 173.5Z M743 197.9 L730.4 204.1 L714 201.3 L710.2 192.3 L722.9 186 L739.3 188.8Z M734.1 213.2 L721.5 219.4 L705.1 216.6 L701.3 207.6 L714 201.3 L730.4 204.1Z M725.2 228.5 L712.6 234.7 L696.2 231.9 L692.4 222.9 L705.1 216.6 L721.5 219.4Z M716.3 243.8 L703.7 250 L687.3 247.2 L683.5 238.2 L696.2 231.9 L712.6 234.7Z M707.4 259.1 L694.8 265.3 L678.4 262.5 L674.6 253.5 L687.3 247.2 L703.7 250Z M781 179.2 L768.4 185.4 L752 182.6 L748.2 173.5 L760.9 167.3 L777.2 170.1Z M772.1 194.5 L759.5 200.7 L743.1 197.9 L739.3 188.8 L752 182.6 L768.4 185.4Z M763.2 209.8 L750.5 216 L734.1 213.2 L730.4 204.1 L743 197.9 L759.4 200.7Z M754.3 225.1 L741.6 231.3 L725.2 228.5 L721.5 219.4 L734.1 213.2 L750.5 216Z M745.4 240.4 L732.8 246.6 L716.4 243.8 L712.6 234.7 L725.2 228.5 L741.6 231.3Z M736.5 255.7 L723.9 261.9 L707.5 259.1 L703.7 250 L716.4 243.8 L732.8 246.6Z M727.6 271 L715 277.2 L698.6 274.4 L694.8 265.3 L707.5 259.1 L723.9 261.9Z M810 175.8 L797.4 182 L781 179.2 L777.2 170.1 L789.9 163.9 L806.3 166.7Z M801.1 191.1 L788.5 197.3 L772.1 194.5 L768.4 185.4 L781 179.2 L797.4 182Z M792.2 206.4 L779.6 212.6 L763.2 209.8 L759.4 200.7 L772.1 194.5 L788.5 197.3Z M783.3 221.7 L770.7 227.9 L754.3 225.1 L750.5 216 L763.2 209.8 L779.6 212.6Z M774.4 237 L761.8 243.2 L745.4 240.4 L741.6 231.3 L754.3 225.1 L770.7 227.9Z M765.5 252.3 L752.9 258.5 L736.5 255.7 L732.8 246.6 L745.4 240.4 L761.8 243.2Z M756.6 267.6 L744 273.8 L727.6 271 L723.9 261.9 L736.5 255.7 L752.9 258.5Z M830.2 187.6 L817.6 193.9 L801.2 191.1 L797.4 182 L810.1 175.8 L826.5 178.6Z M821.3 202.9 L808.6 209.2 L792.2 206.4 L788.5 197.3 L801.1 191.1 L817.5 193.9Z M812.4 218.2 L799.8 224.5 L783.4 221.7 L779.6 212.6 L792.2 206.4 L808.6 209.2Z M803.5 233.5 L790.9 239.8 L774.5 237 L770.7 227.9 L783.4 221.7 L799.8 224.5Z M794.6 248.8 L782 255.1 L765.6 252.3 L761.8 243.2 L774.5 237 L790.9 239.8Z M785.7 264.1 L773.1 270.4 L756.7 267.6 L752.9 258.5 L765.6 252.3 L782 255.1Z M776.8 279.4 L764.1 285.7 L747.8 282.9 L744 273.8 L756.6 267.6 L773 270.4Z M859.2 184.2 L846.6 190.5 L830.2 187.6 L826.5 178.6 L839.1 172.3 L855.5 175.2Z M850.3 199.5 L837.7 205.8 L821.3 202.9 L817.5 193.9 L830.2 187.6 L846.6 190.5Z M841.4 214.8 L828.8 221.1 L812.4 218.2 L808.6 209.2 L821.3 202.9 L837.7 205.8Z M832.5 230.1 L819.9 236.4 L803.5 233.5 L799.8 224.5 L812.4 218.2 L828.8 221.1Z M823.6 245.4 L811 251.7 L794.6 248.8 L790.9 239.8 L803.5 233.5 L819.9 236.4Z M814.8 260.7 L802.1 267 L785.7 264.1 L782 255.1 L794.6 248.8 L811 251.7Z M805.8 276 L793.2 282.3 L776.8 279.4 L773 270.4 L785.7 264.1 L802.1 267Z M879.4 196.1 L866.8 202.3 L850.4 199.5 L846.6 190.5 L859.2 184.2 L875.6 187Z M870.5 211.4 L857.9 217.6 L841.5 214.8 L837.7 205.8 L850.4 199.5 L866.8 202.3Z M861.6 226.7 L849 232.9 L832.6 230.1 L828.8 221.1 L841.5 214.8 L857.9 217.6Z M852.7 242 L840.1 248.2 L823.7 245.4 L819.9 236.4 L832.6 230.1 L849 232.9Z M843.8 257.3 L831.2 263.5 L814.8 260.7 L811 251.7 L823.7 245.4 L840.1 248.2Z M834.9 272.6 L822.2 278.8 L805.9 276 L802.1 267 L814.8 260.7 L831.1 263.5Z M826 287.9 L813.4 294.1 L797 291.3 L793.2 282.3 L805.9 276 L822.2 278.8Z M908.4 192.7 L895.8 198.9 L879.4 196.1 L875.6 187 L888.3 180.8 L904.7 183.6Z M899.5 208 L886.9 214.2 L870.5 211.4 L866.8 202.3 L879.4 196.1 L895.8 198.9Z M890.6 223.3 L878 229.5 L861.6 226.7 L857.9 217.6 L870.5 211.4 L886.9 214.2Z M881.8 238.6 L869.1 244.8 L852.7 242 L849 232.9 L861.6 226.7 L878 229.5Z M872.9 253.9 L860.2 260.1 L843.8 257.3 L840.1 248.2 L852.7 242 L869.1 244.8Z M863.9 269.2 L851.3 275.4 L834.9 272.6 L831.1 263.5 L843.8 257.3 L860.2 260.1Z M855 284.5 L842.4 290.7 L826 287.9 L822.2 278.8 L834.9 272.6 L851.3 275.4Z M928.6 204.6 L915.9 210.8 L899.5 208 L895.8 198.9 L908.4 192.7 L924.8 195.5Z M919.7 219.9 L907 226.1 L890.6 223.3 L886.9 214.2 L899.5 208 L915.9 210.8Z M910.8 235.2 L898.1 241.4 L881.8 238.6 L878 229.5 L890.6 223.3 L907 226.1Z M901.9 250.5 L889.2 256.7 L872.9 253.9 L869.1 244.8 L881.8 238.6 L898.1 241.4Z M893 265.8 L880.3 272 L863.9 269.2 L860.2 260.1 L872.8 253.9 L889.2 256.7Z M884.1 281.1 L871.4 287.3 L855 284.5 L851.3 275.4 L863.9 269.2 L880.3 272Z M875.2 296.4 L862.5 302.6 L846.1 299.8 L842.4 290.7 L855 284.5 L871.4 287.3Z M957.6 201.1 L945 207.4 L928.6 204.6 L924.8 195.5 L937.5 189.3 L953.9 192.1Z M948.7 216.4 L936.1 222.7 L919.7 219.9 L915.9 210.8 L928.6 204.6 L945 207.4Z M939.8 231.7 L927.2 238 L910.8 235.2 L907 226.1 L919.7 219.9 L936.1 222.7Z M930.9 247 L918.3 253.3 L901.9 250.5 L898.1 241.4 L910.8 235.2 L927.2 238Z M922 262.3 L909.4 268.6 L893 265.8 L889.2 256.7 L901.9 250.5 L918.3 253.3Z M913.1 277.6 L900.5 283.9 L884.1 281.1 L880.3 272 L893 265.8 L909.4 268.6Z M904.2 292.9 L891.6 299.2 L875.2 296.4 L871.4 287.3 L884.1 281.1 L900.5 283.9Z M711.6 158.8 L699 165.1 L682.6 162.3 L678.9 153.2 L691.5 147 L707.9 149.8Z M702.8 174.1 L690.1 180.4 L673.7 177.6 L670 168.5 L682.6 162.3 L699 165.1Z M693.9 189.4 L681.2 195.7 L664.8 192.9 L661.1 183.8 L673.7 177.6 L690.1 180.4Z M685 204.7 L672.3 211 L655.9 208.2 L652.2 199.1 L664.8 192.9 L681.2 195.7Z M676 220 L663.4 226.3 L647 223.5 L643.2 214.4 L655.9 208.2 L672.3 211Z M667.1 235.3 L654.5 241.6 L638.1 238.8 L634.4 229.7 L647 223.5 L663.4 226.3Z M658.2 250.6 L645.6 256.9 L629.2 254.1 L625.5 245 L638.1 238.8 L654.5 241.6Z" fill="none" stroke="#26323a" stroke-width="1.1" stroke-linejoin="round"/>
</g>
</g></g>
<path d="M660,212.5 A122.3,120.7 0 0 1 904.7,212.5" fill="none" stroke="#3d8fd6" stroke-width="1.4" stroke-opacity="0.8"/>
<path d="M747,104 C752,118 750,132 742,142 C734,150 729,155 732,163 C736,170 742,174 745,182" fill="none" stroke="#7f8fe6" stroke-width="2.2" stroke-opacity="0.75" stroke-dasharray="1.6 1.1"/>
<path d="M861,128 C865,140 856,150 849,158 C846,166 856,172 862,180" fill="none" stroke="#8f9cf0" stroke-width="2.2" stroke-opacity="0.6" stroke-dasharray="1.6 1.1"/>
<path d="M826,170 C832,184 826,196 816,208 C806,218 804,222 810,232 C814,238 818,240 820,246" fill="none" stroke="#a6aef4" stroke-width="2.2" stroke-opacity="0.6" stroke-dasharray="1.6 1.1"/>
<path d="M451.2,239.4 C467.8,193.9 496.2,156.9 536.1,136.9 C553.2,129 595.9,127 625.8,129.5 C641.4,131.2 654.2,134.1 664.2,137.8 L666.9,133.2 L689.3,155.6 L656.5,159.4 L658.5,153.5 C647.1,146.9 632.9,143.2 616.7,141.8 C595.9,139.8 567.4,140.4 546,150 C511.9,162.6 479.7,191.6 452.4,240.3 Z" fill="#c6b0d0" fill-opacity="0.9"/>
<rect x="776.5" y="104" width="23" height="36" fill="#6fb3d4" fill-opacity="0.55"/>
<path d="M776,74.5 V104.5 A11.8,5 0 0 0 799.6,104.5 V74.5 Z" fill="url(#agG)"/>
<ellipse cx="787.8" cy="74.5" rx="11.8" ry="5.6" fill="#43a8c2"/>
<ellipse cx="787.8" cy="74.8" rx="4.2" ry="3.6" fill="#0d4d8c"/>
<line x1="788.7" y1="54" x2="788.7" y2="72.5" stroke="#111" stroke-width="1.7"/>
<line x1="845.5" y1="75" x2="803" y2="85.4" stroke="#111" stroke-width="1.7" marker-end="url(#ahk)"/>
<text x="850" y="81.2" font-size="27">Ag/AgCl</text>
<path d="M860.5,306.6 L932.8,178.5 Q949.1,162.2 978.7,190.5 L907.6,314.2 Z" fill="url(#elG)"/>
<path d="M860.5,306.6 Q877.5,282.6 907.6,314.2 Z" fill="#8f2a94"/>
<circle cx="884.6" cy="304.4" r="7" fill="#561a52"/>
<text transform="translate(929,243.5) rotate(-60)" font-size="22.3" class="b" text-anchor="middle">Drain</text>
<path d="M884.9,311 V344.2" stroke="#111" stroke-width="1.7"/>
<circle cx="774.5" cy="228.5" r="49.5" fill="none" stroke="#626262" stroke-width="3.3" stroke-dasharray="12 6" stroke-opacity="0.92"/>
<text x="569" y="341.8" font-size="25.5" class="i">R</text>
<text x="636" y="332.2" font-size="25.5" class="i">V<tspan font-size="18" dy="6">bias</tspan></text>
<text x="746.5" y="334.8" font-size="25.5" class="i">I<tspan font-size="18" dy="6">bias</tspan></text>
<text x="650.5" y="44.8" font-size="25.5" class="i">V<tspan font-size="18" dy="6">g</tspan></text>
<rect x="32" y="561" width="452" height="346" fill="#fcfcfc"/>
<clipPath id="gclip"><rect x="79.2" y="563.1" width="403.5" height="298.3"/></clipPath>
<g clip-path="url(#gclip)">
<path d="M81.2 551.8 L84.2 557.4 L87.2 563.1 L90.2 568.7 L93.2 574.3 L96.2 579.9 L99.2 585.5 L102.2 591 L105.2 596.5 L108.2 602 L111.2 607.4 L114.2 612.8 L117.2 618.2 L120.2 623.5 L123.2 628.8 L126.2 634.1 L129.2 639.3 L132.2 644.5 L135.2 649.6 L138.2 654.7 L141.2 659.7 L144.2 664.7 L147.2 669.6 L150.2 674.5 L153.2 679.3 L156.2 684.1 L159.2 688.8 L162.2 693.4 L165.2 698 L168.2 702.5 L171.2 707 L174.2 711.3 L177.2 715.6 L180.2 719.8 L183.2 723.9 L186.2 728 L189.2 731.9 L192.2 735.8 L195.2 739.5 L198.2 743.2 L201.2 746.7 L204.2 750.1 L207.2 753.5 L210.2 756.7 L213.2 759.7 L216.2 762.7 L219.2 765.5 L222.2 768.2 L225.2 770.8 L228.2 773.2 L231.2 775.4 L234.2 777.6 L237.2 779.5 L240.2 781.3 L243.2 782.9 L246.2 784.4 L249.2 785.7 L252.2 786.9 L255.2 787.8 L258.2 788.6 L261.2 789.2 L264.2 789.7 L267.2 789.9 L270.2 790 L273.2 789.9 L276.2 789.6 L279.2 789.2 L282.2 788.5 L285.2 787.7 L288.2 786.7 L291.2 785.5 L294.2 784.2 L297.2 782.6 L300.2 780.9 L303.2 779 L306.2 777 L309.2 774.7 L312.2 772.3 L315.2 769.7 L318.2 766.9 L321.2 763.9 L324.2 760.8 L327.2 757.4 L330.2 753.9 L333.2 750.3 L336.2 746.4 L339.2 742.3 L342.2 738.1 L345.2 733.7 L348.2 729.1 L351.2 724.4 L354.2 719.4 L357.2 714.3 L360.2 709 L363.2 703.6 L366.2 697.9 L369.2 692.1 L372.2 686.1 L375.2 679.9 L378.2 673.5 L381.2 666.9 L384.2 660.2 L387.2 653.3 L390.2 646.2 L393.2 639 L396.2 631.5 L399.2 623.9 L402.2 616.1 L405.2 608.1 L408.2 599.9 L411.2 591.6 L414.2 583.1 L417.2 574.4 L420.2 565.5 L423.2 556.4 L426.2 547.2" fill="none" stroke="#878787" stroke-width="3.5"/>
<path d="M143.2 551.5 L146.2 557.3 L149.2 563.1 L152.2 568.8 L155.2 574.6 L158.2 580.3 L161.2 585.9 L164.2 591.6 L167.2 597.2 L170.2 602.8 L173.2 608.4 L176.2 613.9 L179.2 619.4 L182.2 624.8 L185.2 630.3 L188.2 635.6 L191.2 641 L194.2 646.3 L197.2 651.6 L200.2 656.8 L203.2 661.9 L206.2 667.1 L209.2 672.1 L212.2 677.1 L215.2 682.1 L218.2 687 L221.2 691.8 L224.2 696.6 L227.2 701.3 L230.2 705.9 L233.2 710.5 L236.2 715 L239.2 719.4 L242.2 723.7 L245.2 727.9 L248.2 732.1 L251.2 736.1 L254.2 740 L257.2 743.9 L260.2 747.6 L263.2 751.2 L266.2 754.7 L269.2 758.1 L272.2 761.3 L275.2 764.4 L278.2 767.3 L281.2 770.2 L284.2 772.8 L287.2 775.3 L290.2 777.7 L293.2 779.8 L296.2 781.9 L299.2 783.7 L302.2 785.3 L305.2 786.8 L308.2 788.1 L311.2 789.2 L314.2 790.1 L317.2 790.8 L320.2 791.3 L323.2 791.6 L326.2 791.7 L329.2 791.6 L332.2 791.3 L335.2 790.9 L338.2 790.2 L341.2 789.4 L344.2 788.4 L347.2 787.2 L350.2 785.8 L353.2 784.3 L356.2 782.5 L359.2 780.6 L362.2 778.5 L365.2 776.2 L368.2 773.7 L371.2 771 L374.2 768.1 L377.2 765.1 L380.2 761.9 L383.2 758.5 L386.2 754.9 L389.2 751.1 L392.2 747.1 L395.2 742.9 L398.2 738.6 L401.2 734.1 L404.2 729.4 L407.2 724.5 L410.2 719.4 L413.2 714.2 L416.2 708.7 L419.2 703.1 L422.2 697.3 L425.2 691.3 L428.2 685.1 L431.2 678.7 L434.2 672.1 L437.2 665.4 L440.2 658.5 L443.2 651.4 L446.2 644.1 L449.2 636.6 L452.2 628.9 L455.2 621.1 L458.2 613 L461.2 604.8 L464.2 596.4 L467.2 587.8 L470.2 579.1 L473.2 570.1 L476.2 560.9 L479.2 551.6" fill="none" stroke="#000" stroke-width="3.7"/>
</g>
<path d="M91 758.4 Q90 755.9 95 755.4 Q130 752.9 165 755.4 Q170 755.9 169 758.4 L130 803 Z M130 803 L169 847.8 A39 9 0 0 1 91 847.8 Z" fill="#ffc2cc"/>
<clipPath id="cc130"><path d="M91 758.4 Q90 755.9 95 755.4 Q130 752.9 165 755.4 Q170 755.9 169 758.4 L130 803 Z M130 803 L169 847.8 A39 9 0 0 1 91 847.8 Z"/></clipPath>
<path d="M85 831.5 Q130 838.5 175 831.5 L175 879.3 L85 879.3 Z" fill="#4dfcff" clip-path="url(#cc130)"/>
<path d="M400.2 759.6 Q399.2 757.1 404.2 756.6 Q439.2 754.1 474.2 756.6 Q479.2 757.1 478.2 759.6 L439.2 803 Z M439.2 803 L478.2 847.8 A39 9 0 0 1 400.2 847.8 Z" fill="#ffc2cc"/>
<clipPath id="cc439"><path d="M400.2 759.6 Q399.2 757.1 404.2 756.6 Q439.2 754.1 474.2 756.6 Q479.2 757.1 478.2 759.6 L439.2 803 Z M439.2 803 L478.2 847.8 A39 9 0 0 1 400.2 847.8 Z"/></clipPath>
<path d="M394.2 775 Q439.2 782 484.2 775 L484.2 879.3 L394.2 879.3 Z" fill="#4dfcff" clip-path="url(#cc439)"/>
<rect x="79.2" y="563.1" width="403.5" height="298.3" fill="none" stroke="#222" stroke-width="1.8"/>
<line x1="203.4" y1="592.2" x2="239.7" y2="592.2" stroke="#000" stroke-width="3.2"/>
<line x1="203.4" y1="620.8" x2="239.7" y2="620.8" stroke="#8a8a8a" stroke-width="3"/>
<text x="242.5" y="597.6" font-size="23">Without target</text>
<text x="245" y="625.8" font-size="23">With target</text>
<text x="306.5" y="740.5" font-size="27" class="i">V<tspan font-size="18" dy="5">Dirac</tspan></text>
<line x1="334.4" y1="755.4" x2="334.4" y2="782" stroke="#000" stroke-width="1.6" marker-end="url(#ahk)"/>
<line x1="342.4" y1="808.2" x2="257.5" y2="808.2" stroke="#000" stroke-width="2.2" marker-end="url(#ahk)"/>
<text x="242.5" y="840.6" font-size="27.8"><tspan class="i">n</tspan>-doping</text>
<text x="144.5" y="809.2" font-size="27" class="i">E<tspan font-size="18" dy="6">F</tspan></text>
<text x="384.5" y="809.2" font-size="27" class="i">E<tspan font-size="18" dy="6">F</tspan></text>
<text transform="translate(57,702) rotate(-90)" font-size="23.5" text-anchor="middle"><tspan class="i">G</tspan> (mS)</text>
<text x="257.3" y="891.8" font-size="23.5"><tspan class="i">V</tspan><tspan class="i" font-size="14.5" dy="8">g</tspan><tspan dy="-8"> (V)</tspan></text>
<g>
<path d="M1176.5 207.9 L1158.8 214.3 L1138.3 210.4 L1135.4 200.1 L1153 193.7 L1173.5 197.6Z M1161.7 224.5 L1144.1 230.9 L1123.5 227 L1120.6 216.8 L1138.3 210.4 L1158.8 214.3Z M1147 241.2 L1129.4 247.6 L1108.8 243.7 L1105.9 233.4 L1123.5 227 L1144.1 230.9Z M1132.3 257.8 L1114.6 264.2 L1094.1 260.3 L1091.2 250.1 L1108.8 243.7 L1129.4 247.6Z M1117.5 274.5 L1099.9 280.9 L1079.3 277 L1076.4 266.7 L1094.1 260.3 L1114.6 264.2Z M1102.8 291.1 L1085.2 297.5 L1064.6 293.6 L1061.7 283.4 L1079.3 277 L1099.9 280.9Z M1088.1 307.8 L1070.4 314.2 L1049.9 310.3 L1047 300 L1064.6 293.6 L1085.2 297.5Z M1214.6 205.4 L1197 211.8 L1176.5 207.9 L1173.5 197.6 L1191.2 191.2 L1211.7 195.1Z M1199.9 222.1 L1182.3 228.4 L1161.7 224.5 L1158.8 214.3 L1176.5 207.9 L1197 211.8Z M1185.2 238.7 L1167.5 245.1 L1147 241.2 L1144.1 230.9 L1161.7 224.5 L1182.3 228.4Z M1170.5 255.4 L1152.8 261.7 L1132.3 257.8 L1129.4 247.6 L1147 241.2 L1167.5 245.1Z M1155.7 272 L1138.1 278.4 L1117.5 274.5 L1114.6 264.2 L1132.3 257.8 L1152.8 261.7Z M1141 288.7 L1123.4 295 L1102.8 291.1 L1099.9 280.9 L1117.5 274.5 L1138.1 278.4Z M1126.3 305.3 L1108.6 311.7 L1088.1 307.8 L1085.2 297.5 L1102.8 291.1 L1123.4 295Z M1238.1 219.6 L1220.5 226 L1199.9 222.1 L1197 211.8 L1214.6 205.4 L1235.2 209.3Z M1223.4 236.2 L1205.7 242.6 L1185.2 238.7 L1182.3 228.4 L1199.9 222.1 L1220.5 226Z M1208.6 252.9 L1191 259.3 L1170.5 255.4 L1167.5 245.1 L1185.2 238.7 L1205.7 242.6Z M1193.9 269.5 L1176.3 275.9 L1155.7 272 L1152.8 261.7 L1170.5 255.4 L1191 259.3Z M1179.2 286.2 L1161.5 292.6 L1141 288.7 L1138.1 278.4 L1155.7 272 L1176.3 275.9Z M1164.5 302.8 L1146.8 309.2 L1126.3 305.3 L1123.4 295 L1141 288.7 L1161.5 292.6Z M1149.7 319.5 L1132.1 325.9 L1111.5 322 L1108.6 311.7 L1126.3 305.3 L1146.8 309.2Z M1276.3 217.1 L1258.7 223.5 L1238.1 219.6 L1235.2 209.3 L1252.8 202.9 L1273.4 206.8Z M1261.6 233.8 L1243.9 240.1 L1223.4 236.2 L1220.5 226 L1238.1 219.6 L1258.7 223.5Z M1246.8 250.4 L1229.2 256.8 L1208.6 252.9 L1205.7 242.6 L1223.4 236.2 L1243.9 240.1Z M1232.1 267.1 L1214.5 273.4 L1193.9 269.5 L1191 259.3 L1208.6 252.9 L1229.2 256.8Z M1217.4 283.7 L1199.7 290.1 L1179.2 286.2 L1176.3 275.9 L1193.9 269.5 L1214.5 273.4Z M1202.6 300.4 L1185 306.7 L1164.5 302.8 L1161.5 292.6 L1179.2 286.2 L1199.7 290.1Z M1187.9 317 L1170.3 323.4 L1149.7 319.5 L1146.8 309.2 L1164.5 302.8 L1185 306.7Z M1299.8 231.3 L1282.1 237.7 L1261.6 233.8 L1258.7 223.5 L1276.3 217.1 L1296.8 221Z M1285 247.9 L1267.4 254.3 L1246.8 250.4 L1243.9 240.1 L1261.6 233.8 L1282.1 237.7Z M1270.3 264.6 L1252.7 271 L1232.1 267.1 L1229.2 256.8 L1246.8 250.4 L1267.4 254.3Z M1255.6 281.2 L1237.9 287.6 L1217.4 283.7 L1214.5 273.4 L1232.1 267.1 L1252.7 271Z M1240.8 297.9 L1223.2 304.3 L1202.6 300.4 L1199.7 290.1 L1217.4 283.7 L1237.9 287.6Z M1226.1 314.5 L1208.5 320.9 L1187.9 317 L1185 306.7 L1202.6 300.4 L1223.2 304.3Z M1211.4 331.2 L1193.7 337.6 L1173.2 333.7 L1170.3 323.4 L1187.9 317 L1208.5 320.9Z M1337.9 228.8 L1320.3 235.2 L1299.8 231.3 L1296.8 221 L1314.5 214.6 L1335 218.5Z M1323.2 245.4 L1305.6 251.8 L1285 247.9 L1282.1 237.7 L1299.8 231.3 L1320.3 235.2Z M1308.5 262.1 L1290.8 268.5 L1270.3 264.6 L1267.4 254.3 L1285 247.9 L1305.6 251.8Z M1293.8 278.7 L1276.1 285.1 L1255.6 281.2 L1252.7 271 L1270.3 264.6 L1290.8 268.5Z M1279 295.4 L1261.4 301.8 L1240.8 297.9 L1237.9 287.6 L1255.6 281.2 L1276.1 285.1Z M1264.3 312 L1246.7 318.4 L1226.1 314.5 L1223.2 304.3 L1240.8 297.9 L1261.4 301.8Z M1249.6 328.7 L1231.9 335.1 L1211.4 331.2 L1208.5 320.9 L1226.1 314.5 L1246.7 318.4Z M1361.4 243 L1343.8 249.3 L1323.2 245.4 L1320.3 235.2 L1337.9 228.8 L1358.5 232.7Z M1346.7 259.6 L1329 266 L1308.5 262.1 L1305.6 251.8 L1323.2 245.4 L1343.8 249.3Z M1331.9 276.3 L1314.3 282.6 L1293.7 278.7 L1290.8 268.5 L1308.5 262.1 L1329 266Z M1317.2 292.9 L1299.6 299.3 L1279 295.4 L1276.1 285.1 L1293.7 278.7 L1314.3 282.6Z M1302.5 309.6 L1284.8 315.9 L1264.3 312 L1261.4 301.8 L1279 295.4 L1299.6 299.3Z M1287.8 326.2 L1270.1 332.6 L1249.6 328.7 L1246.7 318.4 L1264.3 312 L1284.8 315.9Z M1273 342.9 L1255.4 349.2 L1234.8 345.3 L1231.9 335.1 L1249.6 328.7 L1270.1 332.6Z M1399.6 240.5 L1382 246.9 L1361.4 243 L1358.5 232.7 L1376.1 226.3 L1396.7 230.2Z M1384.9 257.1 L1367.2 263.5 L1346.7 259.6 L1343.8 249.3 L1361.4 243 L1382 246.9Z M1370.1 273.8 L1352.5 280.2 L1331.9 276.3 L1329 266 L1346.7 259.6 L1367.2 263.5Z M1355.4 290.4 L1337.8 296.8 L1317.2 292.9 L1314.3 282.6 L1331.9 276.3 L1352.5 280.2Z M1340.7 307.1 L1323 313.5 L1302.5 309.6 L1299.6 299.3 L1317.2 292.9 L1337.8 296.8Z M1325.9 323.7 L1308.3 330.1 L1287.8 326.2 L1284.8 315.9 L1302.5 309.6 L1323 313.5Z M1311.2 340.4 L1293.6 346.8 L1273 342.9 L1270.1 332.6 L1287.8 326.2 L1308.3 330.1Z M1423 254.7 L1405.4 261 L1384.9 257.1 L1382 246.9 L1399.6 240.5 L1420.1 244.4Z M1408.3 271.3 L1390.7 277.7 L1370.1 273.8 L1367.2 263.5 L1384.9 257.1 L1405.4 261Z M1393.6 288 L1376 294.3 L1355.4 290.4 L1352.5 280.2 L1370.1 273.8 L1390.7 277.7Z M1378.9 304.6 L1361.2 311 L1340.7 307.1 L1337.8 296.8 L1355.4 290.4 L1376 294.3Z M1364.1 321.3 L1346.5 327.6 L1325.9 323.7 L1323 313.5 L1340.7 307.1 L1361.2 311Z M1349.4 337.9 L1331.8 344.3 L1311.2 340.4 L1308.3 330.1 L1325.9 323.7 L1346.5 327.6Z M1334.7 354.6 L1317 360.9 L1296.5 357 L1293.6 346.8 L1311.2 340.4 L1331.8 344.3Z M1461.2 252.2 L1443.6 258.6 L1423 254.7 L1420.1 244.4 L1437.8 238 L1458.3 241.9Z M1446.5 268.8 L1428.9 275.2 L1408.3 271.3 L1405.4 261 L1423 254.7 L1443.6 258.6Z M1431.8 285.5 L1414.1 291.9 L1393.6 288 L1390.7 277.7 L1408.3 271.3 L1428.9 275.2Z M1417.1 302.1 L1399.4 308.5 L1378.9 304.6 L1376 294.3 L1393.6 288 L1414.1 291.9Z M1402.3 318.8 L1384.7 325.2 L1364.1 321.3 L1361.2 311 L1378.9 304.6 L1399.4 308.5Z M1387.6 335.4 L1370 341.8 L1349.4 337.9 L1346.5 327.6 L1364.1 321.3 L1384.7 325.2Z M1372.9 352.1 L1355.2 358.5 L1334.7 354.6 L1331.8 344.3 L1349.4 337.9 L1370 341.8Z" fill="none" stroke="#2b2b2b" stroke-width="1.95" stroke-linejoin="round"/>
<polygon points="1199.9,221.1 1182.3,227.4 1161.7,223.5 1158.8,213.3 1176.5,206.9 1197,210.8" fill="#b869ab" stroke="#3a2a3a" stroke-width="1.1" stroke-linejoin="round"/>
<polygon points="1197,207.8 1199.9,218.1 1199.9,221.1 1197,210.8" fill="#b869ab" stroke="none"/>
<polygon points="1199.9,218.1 1182.3,224.4 1182.3,227.4 1199.9,221.1" fill="#b869ab" stroke="none"/>
<polygon points="1182.3,224.4 1161.7,220.5 1161.7,223.5 1182.3,227.4" fill="#b869ab" stroke="none"/>
<polygon points="1161.7,220.5 1158.8,210.3 1158.8,213.3 1161.7,223.5" fill="#b869ab" stroke="none"/>
<polygon points="1185.2,237.7 1167.5,244.1 1147,240.2 1144.1,229.9 1161.7,223.5 1182.3,227.4" fill="#b869ab" stroke="#3a2a3a" stroke-width="1.1" stroke-linejoin="round"/>
<polygon points="1182.3,224.4 1185.2,234.7 1185.2,237.7 1182.3,227.4" fill="#b869ab" stroke="none"/>
<polygon points="1185.2,234.7 1167.5,241.1 1167.5,244.1 1185.2,237.7" fill="#b869ab" stroke="none"/>
<polygon points="1167.5,241.1 1147,237.2 1147,240.2 1167.5,244.1" fill="#b869ab" stroke="none"/>
<polygon points="1147,237.2 1144.1,226.9 1144.1,229.9 1147,240.2" fill="#b869ab" stroke="none"/>
<polygon points="1223.4,235.2 1205.7,241.6 1185.2,237.7 1182.3,227.4 1199.9,221.1 1220.5,225" fill="#b869ab" stroke="#3a2a3a" stroke-width="1.1" stroke-linejoin="round"/>
<polygon points="1220.5,222 1223.4,232.2 1223.4,235.2 1220.5,225" fill="#b869ab" stroke="none"/>
<polygon points="1223.4,232.2 1205.7,238.6 1205.7,241.6 1223.4,235.2" fill="#b869ab" stroke="none"/>
<polygon points="1205.7,238.6 1185.2,234.7 1185.2,237.7 1205.7,241.6" fill="#b869ab" stroke="none"/>
<polygon points="1185.2,234.7 1182.3,224.4 1182.3,227.4 1185.2,237.7" fill="#b869ab" stroke="none"/>
<polygon points="1208.6,251.9 1191,258.3 1170.5,254.4 1167.5,244.1 1185.2,237.7 1205.7,241.6" fill="#b869ab" stroke="#3a2a3a" stroke-width="1.1" stroke-linejoin="round"/>
<polygon points="1205.7,238.6 1208.6,248.9 1208.6,251.9 1205.7,241.6" fill="#b869ab" stroke="none"/>
<polygon points="1208.6,248.9 1191,255.3 1191,258.3 1208.6,251.9" fill="#b869ab" stroke="none"/>
<polygon points="1191,255.3 1170.5,251.4 1170.5,254.4 1191,258.3" fill="#b869ab" stroke="none"/>
<polygon points="1170.5,251.4 1167.5,241.1 1167.5,244.1 1170.5,254.4" fill="#b869ab" stroke="none"/>
<polygon points="1199.9,218.1 1182.3,224.4 1161.7,220.5 1158.8,210.3 1176.5,203.9 1197,207.8" fill="#dc8ccf" stroke="#3a2a3a" stroke-width="1.1" stroke-linejoin="round"/>
<polygon points="1185.2,234.7 1167.5,241.1 1147,237.2 1144.1,226.9 1161.7,220.5 1182.3,224.4" fill="#dc8ccf" stroke="#3a2a3a" stroke-width="1.1" stroke-linejoin="round"/>
<polygon points="1223.4,232.2 1205.7,238.6 1185.2,234.7 1182.3,224.4 1199.9,218.1 1220.5,222" fill="#dc8ccf" stroke="#3a2a3a" stroke-width="1.1" stroke-linejoin="round"/>
<polygon points="1208.6,248.9 1191,255.3 1170.5,251.4 1167.5,241.1 1185.2,234.7 1205.7,238.6" fill="#dc8ccf" stroke="#3a2a3a" stroke-width="1.1" stroke-linejoin="round"/>
<polygon points="1361.4,242 1343.8,248.3 1323.2,244.4 1320.3,234.2 1337.9,227.8 1358.5,231.7" fill="#b869ab" stroke="#3a2a3a" stroke-width="1.1" stroke-linejoin="round"/>
<polygon points="1358.5,228.7 1361.4,239 1361.4,242 1358.5,231.7" fill="#b869ab" stroke="none"/>
<polygon points="1361.4,239 1343.8,245.3 1343.8,248.3 1361.4,242" fill="#b869ab" stroke="none"/>
<polygon points="1343.8,245.3 1323.2,241.4 1323.2,244.4 1343.8,248.3" fill="#b869ab" stroke="none"/>
<polygon points="1323.2,241.4 1320.3,231.2 1320.3,234.2 1323.2,244.4" fill="#b869ab" stroke="none"/>
<polygon points="1346.7,258.6 1329,265 1308.5,261.1 1305.6,250.8 1323.2,244.4 1343.8,248.3" fill="#b869ab" stroke="#3a2a3a" stroke-width="1.1" stroke-linejoin="round"/>
<polygon points="1343.8,245.3 1346.7,255.6 1346.7,258.6 1343.8,248.3" fill="#b869ab" stroke="none"/>
<polygon points="1346.7,255.6 1329,262 1329,265 1346.7,258.6" fill="#b869ab" stroke="none"/>
<polygon points="1329,262 1308.5,258.1 1308.5,261.1 1329,265" fill="#b869ab" stroke="none"/>
<polygon points="1308.5,258.1 1305.6,247.8 1305.6,250.8 1308.5,261.1" fill="#b869ab" stroke="none"/>
<polygon points="1384.9,256.1 1367.2,262.5 1346.7,258.6 1343.8,248.3 1361.4,242 1382,245.9" fill="#b869ab" stroke="#3a2a3a" stroke-width="1.1" stroke-linejoin="round"/>
<polygon points="1382,242.9 1384.9,253.1 1384.9,256.1 1382,245.9" fill="#b869ab" stroke="none"/>
<polygon points="1384.9,253.1 1367.2,259.5 1367.2,262.5 1384.9,256.1" fill="#b869ab" stroke="none"/>
<polygon points="1367.2,259.5 1346.7,255.6 1346.7,258.6 1367.2,262.5" fill="#b869ab" stroke="none"/>
<polygon points="1346.7,255.6 1343.8,245.3 1343.8,248.3 1346.7,258.6" fill="#b869ab" stroke="none"/>
<polygon points="1370.1,272.8 1352.5,279.2 1331.9,275.3 1329,265 1346.7,258.6 1367.2,262.5" fill="#b869ab" stroke="#3a2a3a" stroke-width="1.1" stroke-linejoin="round"/>
<polygon points="1367.2,259.5 1370.1,269.8 1370.1,272.8 1367.2,262.5" fill="#b869ab" stroke="none"/>
<polygon points="1370.1,269.8 1352.5,276.2 1352.5,279.2 1370.1,272.8" fill="#b869ab" stroke="none"/>
<polygon points="1352.5,276.2 1331.9,272.3 1331.9,275.3 1352.5,279.2" fill="#b869ab" stroke="none"/>
<polygon points="1331.9,272.3 1329,262 1329,265 1331.9,275.3" fill="#b869ab" stroke="none"/>
<polygon points="1361.4,239 1343.8,245.3 1323.2,241.4 1320.3,231.2 1337.9,224.8 1358.5,228.7" fill="#dc8ccf" stroke="#3a2a3a" stroke-width="1.1" stroke-linejoin="round"/>
<polygon points="1346.7,255.6 1329,262 1308.5,258.1 1305.6,247.8 1323.2,241.4 1343.8,245.3" fill="#dc8ccf" stroke="#3a2a3a" stroke-width="1.1" stroke-linejoin="round"/>
<polygon points="1384.9,253.1 1367.2,259.5 1346.7,255.6 1343.8,245.3 1361.4,239 1382,242.9" fill="#dc8ccf" stroke="#3a2a3a" stroke-width="1.1" stroke-linejoin="round"/>
<polygon points="1370.1,269.8 1352.5,276.2 1331.9,272.3 1329,262 1346.7,255.6 1367.2,259.5" fill="#dc8ccf" stroke="#3a2a3a" stroke-width="1.1" stroke-linejoin="round"/>
<polygon points="1279,294.4 1261.4,300.8 1240.8,296.9 1237.9,286.6 1255.6,280.2 1276.1,284.1" fill="#b869ab" stroke="#3a2a3a" stroke-width="1.1" stroke-linejoin="round"/>
<polygon points="1276.1,281.1 1279,291.4 1279,294.4 1276.1,284.1" fill="#b869ab" stroke="none"/>
<polygon points="1279,291.4 1261.4,297.8 1261.4,300.8 1279,294.4" fill="#b869ab" stroke="none"/>
<polygon points="1261.4,297.8 1240.8,293.9 1240.8,296.9 1261.4,300.8" fill="#b869ab" stroke="none"/>
<polygon points="1240.8,293.9 1237.9,283.6 1237.9,286.6 1240.8,296.9" fill="#b869ab" stroke="none"/>
<polygon points="1264.3,311 1246.7,317.4 1226.1,313.5 1223.2,303.3 1240.8,296.9 1261.4,300.8" fill="#b869ab" stroke="#3a2a3a" stroke-width="1.1" stroke-linejoin="round"/>
<polygon points="1261.4,297.8 1264.3,308 1264.3,311 1261.4,300.8" fill="#b869ab" stroke="none"/>
<polygon points="1264.3,308 1246.7,314.4 1246.7,317.4 1264.3,311" fill="#b869ab" stroke="none"/>
<polygon points="1246.7,314.4 1226.1,310.5 1226.1,313.5 1246.7,317.4" fill="#b869ab" stroke="none"/>
<polygon points="1226.1,310.5 1223.2,300.3 1223.2,303.3 1226.1,313.5" fill="#b869ab" stroke="none"/>
<polygon points="1302.5,308.6 1284.8,314.9 1264.3,311 1261.4,300.8 1279,294.4 1299.6,298.3" fill="#b869ab" stroke="#3a2a3a" stroke-width="1.1" stroke-linejoin="round"/>
<polygon points="1299.6,295.3 1302.5,305.6 1302.5,308.6 1299.6,298.3" fill="#b869ab" stroke="none"/>
<polygon points="1302.5,305.6 1284.8,311.9 1284.8,314.9 1302.5,308.6" fill="#b869ab" stroke="none"/>
<polygon points="1284.8,311.9 1264.3,308 1264.3,311 1284.8,314.9" fill="#b869ab" stroke="none"/>
<polygon points="1264.3,308 1261.4,297.8 1261.4,300.8 1264.3,311" fill="#b869ab" stroke="none"/>
<polygon points="1287.8,325.2 1270.1,331.6 1249.6,327.7 1246.7,317.4 1264.3,311 1284.8,314.9" fill="#b869ab" stroke="#3a2a3a" stroke-width="1.1" stroke-linejoin="round"/>
<polygon points="1284.8,311.9 1287.8,322.2 1287.8,325.2 1284.8,314.9" fill="#b869ab" stroke="none"/>
<polygon points="1287.8,322.2 1270.1,328.6 1270.1,331.6 1287.8,325.2" fill="#b869ab" stroke="none"/>
<polygon points="1270.1,328.6 1249.6,324.7 1249.6,327.7 1270.1,331.6" fill="#b869ab" stroke="none"/>
<polygon points="1249.6,324.7 1246.7,314.4 1246.7,317.4 1249.6,327.7" fill="#b869ab" stroke="none"/>
<polygon points="1279,291.4 1261.4,297.8 1240.8,293.9 1237.9,283.6 1255.6,277.2 1276.1,281.1" fill="#dc8ccf" stroke="#3a2a3a" stroke-width="1.1" stroke-linejoin="round"/>
<polygon points="1264.3,308 1246.7,314.4 1226.1,310.5 1223.2,300.3 1240.8,293.9 1261.4,297.8" fill="#dc8ccf" stroke="#3a2a3a" stroke-width="1.1" stroke-linejoin="round"/>
<polygon points="1302.5,305.6 1284.8,311.9 1264.3,308 1261.4,297.8 1279,291.4 1299.6,295.3" fill="#dc8ccf" stroke="#3a2a3a" stroke-width="1.1" stroke-linejoin="round"/>
<polygon points="1287.8,322.2 1270.1,328.6 1249.6,324.7 1246.7,314.4 1264.3,308 1284.8,311.9" fill="#dc8ccf" stroke="#3a2a3a" stroke-width="1.1" stroke-linejoin="round"/>
</g>
<g>
<line x1="1192.8" y1="190.9" x2="1193.2" y2="205.9" stroke="#7cc7b6" stroke-width="3.2"/>
<path d="M1197.2 30.7 L1177 38.8 M1200.4 40.6 L1177 45.7 M1202.3 51 L1177 52.6 M1202.1 61.1 L1177 59.5 M1200 71.4 L1177 66.4 M1196.8 81.1 L1177 73.3 M1191.7 90.3 L1177 80.2 M1186 98.6 L1177 87.1 M1179.1 106.4 L1177 94 M1172.2 113.5 L1177 100.9 M1165.3 119.7 L1177 107.8 M1159.1 125 L1177 114.6 M1154.5 129.6 L1177 121.5 M1151.5 133.7 L1177 128.4 M1149.9 137.6 L1177 135.3 M1149.9 141.5 L1177 142.2 M1151.3 145.5 L1177 149.1 M1154 149.4 L1177 156 M1157.9 153.3 L1177 162.9 M1162.5 157.4 L1177 169.8 M1167.6 162 L1177 176.7 M1173.3 167.1 L1177 183.6 M1179.8 173 L1177 190.5 M1186.7 180.6 L1177 197.4 M1192.4 188.9 L1177 204.3" stroke="#a9a6d4" stroke-opacity="0.5" stroke-width="2.5" stroke-linecap="round" fill="none"/>
<circle cx="1197.2" cy="30.7" r="5" fill="url(#gC)"/>
<circle cx="1200.4" cy="40.6" r="5" fill="url(#gC)"/>
<circle cx="1202.3" cy="51" r="5" fill="url(#gC)"/>
<circle cx="1202.1" cy="61.1" r="5" fill="url(#gC)"/>
<circle cx="1200" cy="71.4" r="5" fill="url(#gC)"/>
<circle cx="1196.8" cy="81.1" r="5" fill="url(#gC)"/>
<circle cx="1191.7" cy="90.3" r="5" fill="url(#gC)"/>
<circle cx="1186" cy="98.6" r="5" fill="url(#gC)"/>
<circle cx="1179.1" cy="106.4" r="5" fill="url(#gC)"/>
<circle cx="1172.2" cy="113.5" r="5" fill="url(#gC)"/>
<circle cx="1165.3" cy="119.7" r="5" fill="url(#gC)"/>
<circle cx="1159.1" cy="125" r="5" fill="url(#gC)"/>
<circle cx="1154.5" cy="129.6" r="5" fill="url(#gC)"/>
<circle cx="1151.5" cy="133.7" r="5" fill="url(#gC)"/>
<circle cx="1149.9" cy="137.6" r="5" fill="url(#gC)"/>
<circle cx="1149.9" cy="141.5" r="5" fill="url(#gC)"/>
<circle cx="1151.3" cy="145.5" r="5" fill="url(#gC)"/>
<circle cx="1154" cy="149.4" r="5" fill="url(#gC)"/>
<circle cx="1157.9" cy="153.3" r="5" fill="url(#gC)"/>
<circle cx="1162.5" cy="157.4" r="5" fill="url(#gC)"/>
<circle cx="1167.6" cy="162" r="5" fill="url(#gC)"/>
<circle cx="1173.3" cy="167.1" r="5" fill="url(#gC)"/>
<circle cx="1179.8" cy="173" r="5" fill="url(#gC)"/>
<circle cx="1186.7" cy="180.6" r="5" fill="url(#gC)"/>
<circle cx="1192.4" cy="188.9" r="5" fill="url(#gC)"/>
<path d="M1157.9 153.3 L1172.2 160.5 M1162.5 157.4 L1173.4 166.7 M1167.6 162 L1174.6 173 M1173.3 167.1 L1176.1 179.5 M1179.8 173 L1177.7 186.1 M1186.7 180.6 L1179.4 193.2" stroke="#8c8ce0" stroke-opacity="0.5" stroke-width="2.5" stroke-linecap="round" fill="none"/>
</g>
<g>
<line x1="1338.4" y1="208.7" x2="1338.8" y2="224.7" stroke="#7cc7b6" stroke-width="3.2"/>
<path d="M1343.1 39 L1321.7 47.6 M1346.5 49.5 L1321.7 54.9 M1348.5 60.5 L1321.7 62.2 M1348.2 71.2 L1321.7 69.5 M1346 82.2 L1321.7 76.8 M1342.6 92.4 L1321.7 84.1 M1337.3 102.2 L1321.7 91.4 M1331.2 110.9 L1321.7 98.8 M1323.9 119.2 L1321.7 106.1 M1316.6 126.8 L1321.7 113.4 M1309.2 133.4 L1321.7 120.7 M1302.7 139 L1321.7 128 M1297.8 143.8 L1321.7 135.3 M1294.6 148.2 L1321.7 142.6 M1292.9 152.4 L1321.7 149.9 M1292.9 156.5 L1321.7 157.2 M1294.4 160.6 L1321.7 164.5 M1297.3 164.8 L1321.7 171.9 M1301.4 168.9 L1321.7 179.2 M1306.3 173.3 L1321.7 186.5 M1311.7 178.2 L1321.7 193.8 M1317.8 183.6 L1321.7 201.1 M1324.6 189.9 L1321.7 208.4 M1331.9 197.9 L1321.7 215.7 M1338 206.7 L1321.7 223" stroke="#a9a6d4" stroke-opacity="0.5" stroke-width="2.5" stroke-linecap="round" fill="none"/>
<circle cx="1343.1" cy="39" r="5.2" fill="url(#gC)"/>
<circle cx="1346.5" cy="49.5" r="5.2" fill="url(#gC)"/>
<circle cx="1348.5" cy="60.5" r="5.2" fill="url(#gC)"/>
<circle cx="1348.2" cy="71.2" r="5.2" fill="url(#gC)"/>
<circle cx="1346" cy="82.2" r="5.2" fill="url(#gC)"/>
<circle cx="1342.6" cy="92.4" r="5.2" fill="url(#gC)"/>
<circle cx="1337.3" cy="102.2" r="5.2" fill="url(#gC)"/>
<circle cx="1331.2" cy="110.9" r="5.2" fill="url(#gC)"/>
<circle cx="1323.9" cy="119.2" r="5.2" fill="url(#gC)"/>
<circle cx="1316.6" cy="126.8" r="5.2" fill="url(#gC)"/>
<circle cx="1309.2" cy="133.4" r="5.2" fill="url(#gC)"/>
<circle cx="1302.7" cy="139" r="5.2" fill="url(#gC)"/>
<circle cx="1297.8" cy="143.8" r="5.2" fill="url(#gC)"/>
<circle cx="1294.6" cy="148.2" r="5.2" fill="url(#gC)"/>
<circle cx="1292.9" cy="152.4" r="5.2" fill="url(#gC)"/>
<circle cx="1292.9" cy="156.5" r="5.2" fill="url(#gC)"/>
<circle cx="1294.4" cy="160.6" r="5.2" fill="url(#gC)"/>
<circle cx="1297.3" cy="164.8" r="5.2" fill="url(#gC)"/>
<circle cx="1301.4" cy="168.9" r="5.2" fill="url(#gC)"/>
<circle cx="1306.3" cy="173.3" r="5.2" fill="url(#gC)"/>
<circle cx="1311.7" cy="178.2" r="5.2" fill="url(#gC)"/>
<circle cx="1317.8" cy="183.6" r="5.2" fill="url(#gC)"/>
<circle cx="1324.6" cy="189.9" r="5.2" fill="url(#gC)"/>
<circle cx="1331.9" cy="197.9" r="5.2" fill="url(#gC)"/>
<circle cx="1338" cy="206.7" r="5.2" fill="url(#gC)"/>
<path d="M1301.4 168.9 L1316.6 176.6 M1306.3 173.3 L1317.8 183.2 M1311.7 178.2 L1319.2 189.9 M1317.8 183.6 L1320.7 196.7 M1324.6 189.9 L1322.4 203.8 M1331.9 197.9 L1324.2 211.3" stroke="#8c8ce0" stroke-opacity="0.5" stroke-width="2.5" stroke-linecap="round" fill="none"/>
</g>
<g>
<line x1="1273.6" y1="274.9" x2="1274" y2="290.9" stroke="#7cc7b6" stroke-width="3.2"/>
<path d="M1278.3 105.2 L1256.9 113.8 M1281.7 115.7 L1256.9 121.1 M1283.7 126.7 L1256.9 128.4 M1283.4 137.4 L1256.9 135.7 M1281.2 148.4 L1256.9 143 M1277.8 158.6 L1256.9 150.3 M1272.5 168.4 L1256.9 157.6 M1266.4 177.1 L1256.9 165 M1259.1 185.4 L1256.9 172.3 M1251.8 193 L1256.9 179.6 M1244.4 199.6 L1256.9 186.9 M1237.9 205.2 L1256.9 194.2 M1233 210 L1256.9 201.5 M1229.8 214.4 L1256.9 208.8 M1228.1 218.6 L1256.9 216.1 M1228.1 222.7 L1256.9 223.4 M1229.6 226.8 L1256.9 230.7 M1232.5 231 L1256.9 238.1 M1236.6 235.1 L1256.9 245.4 M1241.5 239.5 L1256.9 252.7 M1246.9 244.4 L1256.9 260 M1253 249.8 L1256.9 267.3 M1259.8 256.1 L1256.9 274.6 M1267.1 264.1 L1256.9 281.9 M1273.2 272.9 L1256.9 289.2" stroke="#a9a6d4" stroke-opacity="0.5" stroke-width="2.5" stroke-linecap="round" fill="none"/>
<circle cx="1278.3" cy="105.2" r="5.3" fill="url(#gC)"/>
<circle cx="1281.7" cy="115.7" r="5.3" fill="url(#gC)"/>
<circle cx="1283.7" cy="126.7" r="5.3" fill="url(#gC)"/>
<circle cx="1283.4" cy="137.4" r="5.3" fill="url(#gC)"/>
<circle cx="1281.2" cy="148.4" r="5.3" fill="url(#gC)"/>
<circle cx="1277.8" cy="158.6" r="5.3" fill="url(#gC)"/>
<circle cx="1272.5" cy="168.4" r="5.3" fill="url(#gC)"/>
<circle cx="1266.4" cy="177.1" r="5.3" fill="url(#gC)"/>
<circle cx="1259.1" cy="185.4" r="5.3" fill="url(#gC)"/>
<circle cx="1251.8" cy="193" r="5.3" fill="url(#gC)"/>
<circle cx="1244.4" cy="199.6" r="5.3" fill="url(#gC)"/>
<circle cx="1237.9" cy="205.2" r="5.3" fill="url(#gC)"/>
<circle cx="1233" cy="210" r="5.3" fill="url(#gC)"/>
<circle cx="1229.8" cy="214.4" r="5.3" fill="url(#gC)"/>
<circle cx="1228.1" cy="218.6" r="5.3" fill="url(#gC)"/>
<circle cx="1228.1" cy="222.7" r="5.3" fill="url(#gC)"/>
<circle cx="1229.6" cy="226.8" r="5.3" fill="url(#gC)"/>
<circle cx="1232.5" cy="231" r="5.3" fill="url(#gC)"/>
<circle cx="1236.6" cy="235.1" r="5.3" fill="url(#gC)"/>
<circle cx="1241.5" cy="239.5" r="5.3" fill="url(#gC)"/>
<circle cx="1246.9" cy="244.4" r="5.3" fill="url(#gC)"/>
<circle cx="1253" cy="249.8" r="5.3" fill="url(#gC)"/>
<circle cx="1259.8" cy="256.1" r="5.3" fill="url(#gC)"/>
<circle cx="1267.1" cy="264.1" r="5.3" fill="url(#gC)"/>
<circle cx="1273.2" cy="272.9" r="5.3" fill="url(#gC)"/>
<path d="M1236.6 235.1 L1251.8 242.8 M1241.5 239.5 L1253 249.4 M1246.9 244.4 L1254.4 256.1 M1253 249.8 L1255.9 262.9 M1259.8 256.1 L1257.6 270 M1267.1 264.1 L1259.4 277.5" stroke="#8c8ce0" stroke-opacity="0.5" stroke-width="2.5" stroke-linecap="round" fill="none"/>
</g>
<g>
<path d="M843.2 676.2 L824.7 682.8 L804 678.1 L801.8 666.8 L820.3 660.2 L841 664.9Z M826.9 694.1 L808.4 700.7 L787.7 696 L785.5 684.7 L804 678.1 L824.7 682.8Z M810.6 712 L792.1 718.6 L771.4 713.9 L769.2 702.6 L787.7 696 L808.4 700.7Z M794.3 729.9 L775.8 736.5 L755.1 731.8 L752.9 720.5 L771.4 713.9 L792.1 718.6Z M778 747.8 L759.5 754.4 L738.8 749.7 L736.6 738.4 L755.1 731.8 L775.8 736.5Z M761.7 765.7 L743.2 772.3 L722.5 767.6 L720.3 756.3 L738.8 749.7 L759.5 754.4Z M745.4 783.6 L726.9 790.2 L706.2 785.5 L704 774.2 L722.5 767.6 L743.2 772.3Z M882.4 674.3 L863.9 680.9 L843.2 676.2 L841 664.9 L859.5 658.3 L880.2 663Z M866.1 692.2 L847.6 698.8 L826.9 694.1 L824.7 682.8 L843.2 676.2 L863.9 680.9Z M849.8 710.1 L831.3 716.7 L810.6 712 L808.4 700.7 L826.9 694.1 L847.6 698.8Z M833.5 728 L815 734.6 L794.3 729.9 L792.1 718.6 L810.6 712 L831.3 716.7Z M817.2 745.9 L798.7 752.5 L778 747.8 L775.8 736.5 L794.3 729.9 L815 734.6Z M800.9 763.8 L782.4 770.4 L761.7 765.7 L759.5 754.4 L778 747.8 L798.7 752.5Z M784.6 781.7 L766.1 788.3 L745.4 783.6 L743.2 772.3 L761.7 765.7 L782.4 770.4Z M905.3 690.3 L886.8 696.9 L866.1 692.2 L863.9 680.9 L882.4 674.3 L903.1 679Z M889 708.2 L870.5 714.8 L849.8 710.1 L847.6 698.8 L866.1 692.2 L886.8 696.9Z M872.7 726.1 L854.2 732.7 L833.5 728 L831.3 716.7 L849.8 710.1 L870.5 714.8Z M856.4 744 L837.9 750.6 L817.2 745.9 L815 734.6 L833.5 728 L854.2 732.7Z M840.1 761.9 L821.6 768.5 L800.9 763.8 L798.7 752.5 L817.2 745.9 L837.9 750.6Z M823.8 779.8 L805.3 786.4 L784.6 781.7 L782.4 770.4 L800.9 763.8 L821.6 768.5Z M807.5 797.7 L789 804.3 L768.3 799.6 L766.1 788.3 L784.6 781.7 L805.3 786.4Z M944.4 688.4 L926 695 L905.3 690.3 L903.1 679 L921.5 672.4 L942.2 677.1Z M928.2 706.3 L909.7 712.9 L889 708.2 L886.8 696.9 L905.3 690.3 L926 695Z M911.9 724.2 L893.4 730.8 L872.7 726.1 L870.5 714.8 L889 708.2 L909.7 712.9Z M895.6 742.1 L877.1 748.7 L856.4 744 L854.2 732.7 L872.7 726.1 L893.4 730.8Z M879.3 760 L860.8 766.6 L840.1 761.9 L837.9 750.6 L856.4 744 L877.1 748.7Z M863 777.9 L844.5 784.5 L823.8 779.8 L821.6 768.5 L840.1 761.9 L860.8 766.6Z M846.7 795.8 L828.2 802.4 L807.5 797.7 L805.3 786.4 L823.8 779.8 L844.5 784.5Z M967.3 704.5 L948.9 711.1 L928.2 706.3 L926 695 L944.4 688.4 L965.1 693.2Z M951.1 722.4 L932.6 729 L911.9 724.2 L909.7 712.9 L928.2 706.3 L948.9 711.1Z M934.8 740.3 L916.3 746.9 L895.6 742.1 L893.4 730.8 L911.9 724.2 L932.6 729Z M918.5 758.2 L900 764.8 L879.3 760 L877.1 748.7 L895.6 742.1 L916.3 746.9Z M902.2 776.1 L883.7 782.7 L863 777.9 L860.8 766.6 L879.3 760 L900 764.8Z M885.9 794 L867.4 800.6 L846.7 795.8 L844.5 784.5 L863 777.9 L883.7 782.7Z M869.6 811.9 L851.1 818.5 L830.4 813.7 L828.2 802.4 L846.7 795.8 L867.4 800.6Z M1006.5 702.6 L988 709.2 L967.3 704.5 L965.1 693.2 L983.6 686.6 L1004.3 691.3Z M990.2 720.5 L971.8 727.1 L951.1 722.4 L948.9 711.1 L967.3 704.5 L988 709.2Z M974 738.4 L955.5 745 L934.8 740.3 L932.6 729 L951.1 722.4 L971.8 727.1Z M957.7 756.3 L939.2 762.9 L918.5 758.2 L916.3 746.9 L934.8 740.3 L955.5 745Z M941.4 774.2 L922.9 780.8 L902.2 776.1 L900 764.8 L918.5 758.2 L939.2 762.9Z M925.1 792.1 L906.6 798.7 L885.9 794 L883.7 782.7 L902.2 776.1 L922.9 780.8Z M908.8 810 L890.3 816.6 L869.6 811.9 L867.4 800.6 L885.9 794 L906.6 798.7Z M1029.4 718.6 L1010.9 725.2 L990.2 720.5 L988 709.2 L1006.5 702.6 L1027.2 707.3Z M1013.1 736.5 L994.7 743.1 L974 738.4 L971.8 727.1 L990.2 720.5 L1010.9 725.2Z M996.9 754.4 L978.4 761 L957.7 756.3 L955.5 745 L974 738.4 L994.7 743.1Z M980.6 772.3 L962.1 778.9 L941.4 774.2 L939.2 762.9 L957.7 756.3 L978.4 761Z M964.3 790.2 L945.8 796.8 L925.1 792.1 L922.9 780.8 L941.4 774.2 L962.1 778.9Z M948 808.1 L929.5 814.7 L908.8 810 L906.6 798.7 L925.1 792.1 L945.8 796.8Z M931.7 826 L913.2 832.6 L892.5 827.9 L890.3 816.6 L908.8 810 L929.5 814.7Z M1068.6 716.7 L1050.1 723.3 L1029.4 718.6 L1027.2 707.3 L1045.7 700.7 L1066.4 705.4Z M1052.3 734.6 L1033.8 741.2 L1013.1 736.5 L1010.9 725.2 L1029.4 718.6 L1050.1 723.3Z M1036 752.5 L1017.6 759.1 L996.9 754.4 L994.7 743.1 L1013.1 736.5 L1033.8 741.2Z M1019.8 770.4 L1001.3 777 L980.6 772.3 L978.4 761 L996.9 754.4 L1017.6 759.1Z M1003.5 788.3 L985 794.9 L964.3 790.2 L962.1 778.9 L980.6 772.3 L1001.3 777Z M987.2 806.2 L968.7 812.8 L948 808.1 L945.8 796.8 L964.3 790.2 L985 794.9Z M970.9 824.1 L952.4 830.7 L931.7 826 L929.5 814.7 L948 808.1 L968.7 812.8Z M1091.5 732.7 L1073 739.3 L1052.3 734.6 L1050.1 723.3 L1068.6 716.7 L1089.3 721.4Z M1075.2 750.6 L1056.7 757.2 L1036 752.5 L1033.8 741.2 L1052.3 734.6 L1073 739.3Z M1058.9 768.5 L1040.5 775.1 L1019.8 770.4 L1017.6 759.1 L1036 752.5 L1056.7 757.2Z M1042.7 786.4 L1024.2 793 L1003.5 788.3 L1001.3 777 L1019.8 770.4 L1040.5 775.1Z M1026.4 804.3 L1007.9 810.9 L987.2 806.2 L985 794.9 L1003.5 788.3 L1024.2 793Z M1010.1 822.2 L991.6 828.8 L970.9 824.1 L968.7 812.8 L987.2 806.2 L1007.9 810.9Z M993.8 840.1 L975.3 846.7 L954.6 842 L952.4 830.7 L970.9 824.1 L991.6 828.8Z M1130.7 730.9 L1112.2 737.5 L1091.5 732.7 L1089.3 721.4 L1107.8 714.8 L1128.5 719.6Z M1114.4 748.8 L1095.9 755.4 L1075.2 750.6 L1073 739.3 L1091.5 732.7 L1112.2 737.5Z M1098.1 766.7 L1079.6 773.3 L1058.9 768.5 L1056.7 757.2 L1075.2 750.6 L1095.9 755.4Z M1081.8 784.6 L1063.4 791.2 L1042.7 786.4 L1040.5 775.1 L1058.9 768.5 L1079.6 773.3Z M1065.6 802.5 L1047.1 809.1 L1026.4 804.3 L1024.2 793 L1042.7 786.4 L1063.4 791.2Z M1049.3 820.4 L1030.8 827 L1010.1 822.2 L1007.9 810.9 L1026.4 804.3 L1047.1 809.1Z M1033 838.3 L1014.5 844.9 L993.8 840.1 L991.6 828.8 L1010.1 822.2 L1030.8 827Z" fill="none" stroke="#2b2b2b" stroke-width="1.95" stroke-linejoin="round"/>
<polygon points="866.1,691.2 847.6,697.8 826.9,693.1 824.7,681.8 843.2,675.2 863.9,679.9" fill="#b869ab" stroke="#3a2a3a" stroke-width="1.1" stroke-linejoin="round"/>
<polygon points="863.9,676.9 866.1,688.2 866.1,691.2 863.9,679.9" fill="#b869ab" stroke="none"/>
<polygon points="866.1,688.2 847.6,694.8 847.6,697.8 866.1,691.2" fill="#b869ab" stroke="none"/>
<polygon points="847.6,694.8 826.9,690.1 826.9,693.1 847.6,697.8" fill="#b869ab" stroke="none"/>
<polygon points="826.9,690.1 824.7,678.8 824.7,681.8 826.9,693.1" fill="#b869ab" stroke="none"/>
<polygon points="849.8,709.1 831.3,715.7 810.6,711 808.4,699.7 826.9,693.1 847.6,697.8" fill="#b869ab" stroke="#3a2a3a" stroke-width="1.1" stroke-linejoin="round"/>
<polygon points="847.6,694.8 849.8,706.1 849.8,709.1 847.6,697.8" fill="#b869ab" stroke="none"/>
<polygon points="849.8,706.1 831.3,712.7 831.3,715.7 849.8,709.1" fill="#b869ab" stroke="none"/>
<polygon points="831.3,712.7 810.6,708 810.6,711 831.3,715.7" fill="#b869ab" stroke="none"/>
<polygon points="810.6,708 808.4,696.7 808.4,699.7 810.6,711" fill="#b869ab" stroke="none"/>
<polygon points="889,707.2 870.5,713.8 849.8,709.1 847.6,697.8 866.1,691.2 886.8,695.9" fill="#b869ab" stroke="#3a2a3a" stroke-width="1.1" stroke-linejoin="round"/>
<polygon points="886.8,692.9 889,704.2 889,707.2 886.8,695.9" fill="#b869ab" stroke="none"/>
<polygon points="889,704.2 870.5,710.8 870.5,713.8 889,707.2" fill="#b869ab" stroke="none"/>
<polygon points="870.5,710.8 849.8,706.1 849.8,709.1 870.5,713.8" fill="#b869ab" stroke="none"/>
<polygon points="849.8,706.1 847.6,694.8 847.6,697.8 849.8,709.1" fill="#b869ab" stroke="none"/>
<polygon points="872.7,725.1 854.2,731.7 833.5,727 831.3,715.7 849.8,709.1 870.5,713.8" fill="#b869ab" stroke="#3a2a3a" stroke-width="1.1" stroke-linejoin="round"/>
<polygon points="870.5,710.8 872.7,722.1 872.7,725.1 870.5,713.8" fill="#b869ab" stroke="none"/>
<polygon points="872.7,722.1 854.2,728.7 854.2,731.7 872.7,725.1" fill="#b869ab" stroke="none"/>
<polygon points="854.2,728.7 833.5,724 833.5,727 854.2,731.7" fill="#b869ab" stroke="none"/>
<polygon points="833.5,724 831.3,712.7 831.3,715.7 833.5,727" fill="#b869ab" stroke="none"/>
<polygon points="866.1,688.2 847.6,694.8 826.9,690.1 824.7,678.8 843.2,672.2 863.9,676.9" fill="#dc8ccf" stroke="#3a2a3a" stroke-width="1.1" stroke-linejoin="round"/>
<polygon points="849.8,706.1 831.3,712.7 810.6,708 808.4,696.7 826.9,690.1 847.6,694.8" fill="#dc8ccf" stroke="#3a2a3a" stroke-width="1.1" stroke-linejoin="round"/>
<polygon points="889,704.2 870.5,710.8 849.8,706.1 847.6,694.8 866.1,688.2 886.8,692.9" fill="#dc8ccf" stroke="#3a2a3a" stroke-width="1.1" stroke-linejoin="round"/>
<polygon points="872.7,722.1 854.2,728.7 833.5,724 831.3,712.7 849.8,706.1 870.5,710.8" fill="#dc8ccf" stroke="#3a2a3a" stroke-width="1.1" stroke-linejoin="round"/>
<polygon points="1029.4,717.6 1010.9,724.2 990.2,719.5 988,708.2 1006.5,701.6 1027.2,706.3" fill="#b869ab" stroke="#3a2a3a" stroke-width="1.1" stroke-linejoin="round"/>
<polygon points="1027.2,703.3 1029.4,714.6 1029.4,717.6 1027.2,706.3" fill="#b869ab" stroke="none"/>
<polygon points="1029.4,714.6 1010.9,721.2 1010.9,724.2 1029.4,717.6" fill="#b869ab" stroke="none"/>
<polygon points="1010.9,721.2 990.2,716.5 990.2,719.5 1010.9,724.2" fill="#b869ab" stroke="none"/>
<polygon points="990.2,716.5 988,705.2 988,708.2 990.2,719.5" fill="#b869ab" stroke="none"/>
<polygon points="1013.1,735.5 994.7,742.1 974,737.4 971.8,726.1 990.2,719.5 1010.9,724.2" fill="#b869ab" stroke="#3a2a3a" stroke-width="1.1" stroke-linejoin="round"/>
<polygon points="1010.9,721.2 1013.1,732.5 1013.1,735.5 1010.9,724.2" fill="#b869ab" stroke="none"/>
<polygon points="1013.1,732.5 994.7,739.1 994.7,742.1 1013.1,735.5" fill="#b869ab" stroke="none"/>
<polygon points="994.7,739.1 974,734.4 974,737.4 994.7,742.1" fill="#b869ab" stroke="none"/>
<polygon points="974,734.4 971.8,723.1 971.8,726.1 974,737.4" fill="#b869ab" stroke="none"/>
<polygon points="1052.3,733.6 1033.8,740.2 1013.1,735.5 1010.9,724.2 1029.4,717.6 1050.1,722.3" fill="#b869ab" stroke="#3a2a3a" stroke-width="1.1" stroke-linejoin="round"/>
<polygon points="1050.1,719.3 1052.3,730.6 1052.3,733.6 1050.1,722.3" fill="#b869ab" stroke="none"/>
<polygon points="1052.3,730.6 1033.8,737.2 1033.8,740.2 1052.3,733.6" fill="#b869ab" stroke="none"/>
<polygon points="1033.8,737.2 1013.1,732.5 1013.1,735.5 1033.8,740.2" fill="#b869ab" stroke="none"/>
<polygon points="1013.1,732.5 1010.9,721.2 1010.9,724.2 1013.1,735.5" fill="#b869ab" stroke="none"/>
<polygon points="1036,751.5 1017.6,758.1 996.9,753.4 994.7,742.1 1013.1,735.5 1033.8,740.2" fill="#b869ab" stroke="#3a2a3a" stroke-width="1.1" stroke-linejoin="round"/>
<polygon points="1033.8,737.2 1036,748.5 1036,751.5 1033.8,740.2" fill="#b869ab" stroke="none"/>
<polygon points="1036,748.5 1017.6,755.1 1017.6,758.1 1036,751.5" fill="#b869ab" stroke="none"/>
<polygon points="1017.6,755.1 996.9,750.4 996.9,753.4 1017.6,758.1" fill="#b869ab" stroke="none"/>
<polygon points="996.9,750.4 994.7,739.1 994.7,742.1 996.9,753.4" fill="#b869ab" stroke="none"/>
<polygon points="1029.4,714.6 1010.9,721.2 990.2,716.5 988,705.2 1006.5,698.6 1027.2,703.3" fill="#dc8ccf" stroke="#3a2a3a" stroke-width="1.1" stroke-linejoin="round"/>
<polygon points="1013.1,732.5 994.7,739.1 974,734.4 971.8,723.1 990.2,716.5 1010.9,721.2" fill="#dc8ccf" stroke="#3a2a3a" stroke-width="1.1" stroke-linejoin="round"/>
<polygon points="1052.3,730.6 1033.8,737.2 1013.1,732.5 1010.9,721.2 1029.4,714.6 1050.1,719.3" fill="#dc8ccf" stroke="#3a2a3a" stroke-width="1.1" stroke-linejoin="round"/>
<polygon points="1036,748.5 1017.6,755.1 996.9,750.4 994.7,739.1 1013.1,732.5 1033.8,737.2" fill="#dc8ccf" stroke="#3a2a3a" stroke-width="1.1" stroke-linejoin="round"/>
<polygon points="941.4,773.2 922.9,779.8 902.2,775.1 900,763.8 918.5,757.2 939.2,761.9" fill="#b869ab" stroke="#3a2a3a" stroke-width="1.1" stroke-linejoin="round"/>
<polygon points="939.2,758.9 941.4,770.2 941.4,773.2 939.2,761.9" fill="#b869ab" stroke="none"/>
<polygon points="941.4,770.2 922.9,776.8 922.9,779.8 941.4,773.2" fill="#b869ab" stroke="none"/>
<polygon points="922.9,776.8 902.2,772.1 902.2,775.1 922.9,779.8" fill="#b869ab" stroke="none"/>
<polygon points="902.2,772.1 900,760.8 900,763.8 902.2,775.1" fill="#b869ab" stroke="none"/>
<polygon points="925.1,791.1 906.6,797.7 885.9,793 883.7,781.7 902.2,775.1 922.9,779.8" fill="#b869ab" stroke="#3a2a3a" stroke-width="1.1" stroke-linejoin="round"/>
<polygon points="922.9,776.8 925.1,788.1 925.1,791.1 922.9,779.8" fill="#b869ab" stroke="none"/>
<polygon points="925.1,788.1 906.6,794.7 906.6,797.7 925.1,791.1" fill="#b869ab" stroke="none"/>
<polygon points="906.6,794.7 885.9,790 885.9,793 906.6,797.7" fill="#b869ab" stroke="none"/>
<polygon points="885.9,790 883.7,778.7 883.7,781.7 885.9,793" fill="#b869ab" stroke="none"/>
<polygon points="964.3,789.2 945.8,795.8 925.1,791.1 922.9,779.8 941.4,773.2 962.1,777.9" fill="#b869ab" stroke="#3a2a3a" stroke-width="1.1" stroke-linejoin="round"/>
<polygon points="962.1,774.9 964.3,786.2 964.3,789.2 962.1,777.9" fill="#b869ab" stroke="none"/>
<polygon points="964.3,786.2 945.8,792.8 945.8,795.8 964.3,789.2" fill="#b869ab" stroke="none"/>
<polygon points="945.8,792.8 925.1,788.1 925.1,791.1 945.8,795.8" fill="#b869ab" stroke="none"/>
<polygon points="925.1,788.1 922.9,776.8 922.9,779.8 925.1,791.1" fill="#b869ab" stroke="none"/>
<polygon points="948,807.1 929.5,813.7 908.8,809 906.6,797.7 925.1,791.1 945.8,795.8" fill="#b869ab" stroke="#3a2a3a" stroke-width="1.1" stroke-linejoin="round"/>
<polygon points="945.8,792.8 948,804.1 948,807.1 945.8,795.8" fill="#b869ab" stroke="none"/>
<polygon points="948,804.1 929.5,810.7 929.5,813.7 948,807.1" fill="#b869ab" stroke="none"/>
<polygon points="929.5,810.7 908.8,806 908.8,809 929.5,813.7" fill="#b869ab" stroke="none"/>
<polygon points="908.8,806 906.6,794.7 906.6,797.7 908.8,809" fill="#b869ab" stroke="none"/>
<polygon points="941.4,770.2 922.9,776.8 902.2,772.1 900,760.8 918.5,754.2 939.2,758.9" fill="#dc8ccf" stroke="#3a2a3a" stroke-width="1.1" stroke-linejoin="round"/>
<polygon points="925.1,788.1 906.6,794.7 885.9,790 883.7,778.7 902.2,772.1 922.9,776.8" fill="#dc8ccf" stroke="#3a2a3a" stroke-width="1.1" stroke-linejoin="round"/>
<polygon points="964.3,786.2 945.8,792.8 925.1,788.1 922.9,776.8 941.4,770.2 962.1,774.9" fill="#dc8ccf" stroke="#3a2a3a" stroke-width="1.1" stroke-linejoin="round"/>
<polygon points="948,804.1 929.5,810.7 908.8,806 906.6,794.7 925.1,788.1 945.8,792.8" fill="#dc8ccf" stroke="#3a2a3a" stroke-width="1.1" stroke-linejoin="round"/>
</g>
<g>
<line x1="860.3" y1="661.1" x2="860.7" y2="675.1" stroke="#7cc7b6" stroke-width="3.2"/>
<path d="M864.2 518.7 L846 525.8 M867.1 527.4 L846 531.9 M868.8 536.6 L846 538 M868.6 545.6 L846 544.2 M866.7 554.8 L846 550.3 M863.8 563.4 L846 556.4 M859.3 571.5 L846 562.5 M854.1 578.9 L846 568.7 M847.9 585.8 L846 574.8 M841.7 592.1 L846 580.9 M835.5 597.7 L846 587 M829.9 602.3 L846 593.2 M825.8 606.4 L846 599.3 M823.1 610.1 L846 605.4 M821.6 613.6 L846 611.5 M821.6 617 L846 617.7 M822.9 620.5 L846 623.8 M825.3 624 L846 629.9 M828.9 627.5 L846 636 M833 631.1 L846 642.2 M837.6 635.2 L846 648.3 M842.7 639.7 L846 654.4 M848.5 645 L846 660.5 M854.7 651.8 L846 666.7 M859.9 659.1 L846 672.8" stroke="#a9a6d4" stroke-opacity="0.5" stroke-width="2.5" stroke-linecap="round" fill="none"/>
<circle cx="864.2" cy="518.7" r="4.7" fill="url(#gC)"/>
<circle cx="867.1" cy="527.4" r="4.7" fill="url(#gC)"/>
<circle cx="868.8" cy="536.6" r="4.7" fill="url(#gC)"/>
<circle cx="868.6" cy="545.6" r="4.7" fill="url(#gC)"/>
<circle cx="866.7" cy="554.8" r="4.7" fill="url(#gC)"/>
<circle cx="863.8" cy="563.4" r="4.7" fill="url(#gC)"/>
<circle cx="859.3" cy="571.5" r="4.7" fill="url(#gC)"/>
<circle cx="854.1" cy="578.9" r="4.7" fill="url(#gC)"/>
<circle cx="847.9" cy="585.8" r="4.7" fill="url(#gC)"/>
<circle cx="841.7" cy="592.1" r="4.7" fill="url(#gC)"/>
<circle cx="835.5" cy="597.7" r="4.7" fill="url(#gC)"/>
<circle cx="829.9" cy="602.3" r="4.7" fill="url(#gC)"/>
<circle cx="825.8" cy="606.4" r="4.7" fill="url(#gC)"/>
<circle cx="823.1" cy="610.1" r="4.7" fill="url(#gC)"/>
<circle cx="821.6" cy="613.6" r="4.7" fill="url(#gC)"/>
<circle cx="821.6" cy="617" r="4.7" fill="url(#gC)"/>
<circle cx="822.9" cy="620.5" r="4.7" fill="url(#gC)"/>
<circle cx="825.3" cy="624" r="4.7" fill="url(#gC)"/>
<circle cx="828.9" cy="627.5" r="4.7" fill="url(#gC)"/>
<circle cx="833" cy="631.1" r="4.7" fill="url(#gC)"/>
<circle cx="837.6" cy="635.2" r="4.7" fill="url(#gC)"/>
<circle cx="842.7" cy="639.7" r="4.7" fill="url(#gC)"/>
<circle cx="848.5" cy="645" r="4.7" fill="url(#gC)"/>
<circle cx="854.7" cy="651.8" r="4.7" fill="url(#gC)"/>
<circle cx="859.9" cy="659.1" r="4.7" fill="url(#gC)"/>
<path d="M828.9 627.5 L841.7 633.9 M833 631.1 L842.8 639.4 M837.6 635.2 L843.9 645 M842.7 639.7 L845.2 650.7 M848.5 645 L846.7 656.7 M854.7 651.8 L848.2 662.9" stroke="#8c8ce0" stroke-opacity="0.5" stroke-width="2.5" stroke-linecap="round" fill="none"/>
</g>
<g>
<line x1="1006.2" y1="685.2" x2="1006.6" y2="699.2" stroke="#7cc7b6" stroke-width="3.2"/>
<path d="M1010.1 548.3 L991.9 555.2 M1013 556.7 L991.9 561 M1014.7 565.5 L991.9 566.9 M1014.5 574.2 L991.9 572.8 M1012.6 583 L991.9 578.7 M1009.7 591.2 L991.9 584.6 M1005.2 599.1 L991.9 590.4 M1000 606.1 L991.9 596.3 M993.8 612.8 L991.9 602.2 M987.6 618.9 L991.9 608.1 M981.4 624.2 L991.9 614 M975.8 628.7 L991.9 619.9 M971.7 632.6 L991.9 625.7 M969 636.1 L991.9 631.6 M967.5 639.5 L991.9 637.5 M967.5 642.8 L991.9 643.4 M968.8 646.1 L991.9 649.3 M971.2 649.5 L991.9 655.2 M974.8 652.8 L991.9 661 M978.9 656.3 L991.9 666.9 M983.5 660.3 L991.9 672.8 M988.6 664.6 L991.9 678.7 M994.4 669.7 L991.9 684.6 M1000.6 676.1 L991.9 690.5 M1005.8 683.2 L991.9 696.3" stroke="#a9a6d4" stroke-opacity="0.5" stroke-width="2.5" stroke-linecap="round" fill="none"/>
<circle cx="1010.1" cy="548.3" r="4.7" fill="url(#gC)"/>
<circle cx="1013" cy="556.7" r="4.7" fill="url(#gC)"/>
<circle cx="1014.7" cy="565.5" r="4.7" fill="url(#gC)"/>
<circle cx="1014.5" cy="574.2" r="4.7" fill="url(#gC)"/>
<circle cx="1012.6" cy="583" r="4.7" fill="url(#gC)"/>
<circle cx="1009.7" cy="591.2" r="4.7" fill="url(#gC)"/>
<circle cx="1005.2" cy="599.1" r="4.7" fill="url(#gC)"/>
<circle cx="1000" cy="606.1" r="4.7" fill="url(#gC)"/>
<circle cx="993.8" cy="612.8" r="4.7" fill="url(#gC)"/>
<circle cx="987.6" cy="618.9" r="4.7" fill="url(#gC)"/>
<circle cx="981.4" cy="624.2" r="4.7" fill="url(#gC)"/>
<circle cx="975.8" cy="628.7" r="4.7" fill="url(#gC)"/>
<circle cx="971.7" cy="632.6" r="4.7" fill="url(#gC)"/>
<circle cx="969" cy="636.1" r="4.7" fill="url(#gC)"/>
<circle cx="967.5" cy="639.5" r="4.7" fill="url(#gC)"/>
<circle cx="967.5" cy="642.8" r="4.7" fill="url(#gC)"/>
<circle cx="968.8" cy="646.1" r="4.7" fill="url(#gC)"/>
<circle cx="971.2" cy="649.5" r="4.7" fill="url(#gC)"/>
<circle cx="974.8" cy="652.8" r="4.7" fill="url(#gC)"/>
<circle cx="978.9" cy="656.3" r="4.7" fill="url(#gC)"/>
<circle cx="983.5" cy="660.3" r="4.7" fill="url(#gC)"/>
<circle cx="988.6" cy="664.6" r="4.7" fill="url(#gC)"/>
<circle cx="994.4" cy="669.7" r="4.7" fill="url(#gC)"/>
<circle cx="1000.6" cy="676.1" r="4.7" fill="url(#gC)"/>
<circle cx="1005.8" cy="683.2" r="4.7" fill="url(#gC)"/>
<path d="M974.8 652.8 L987.6 659 M978.9 656.3 L988.7 664.3 M983.5 660.3 L989.8 669.7 M988.6 664.6 L991.1 675.2 M994.4 669.7 L992.6 680.8 M1000.6 676.1 L994.1 686.9" stroke="#8c8ce0" stroke-opacity="0.5" stroke-width="2.5" stroke-linecap="round" fill="none"/>
</g>
<g>
<path d="M930.8 704.7 L933.4 687.1 M932.6 708.4 L937 690.4 M935.4 711.4 L941.1 692.8 M939 713.9 L945.6 695.3 M943.3 715.7 L950.2 698.6 M948.2 716.5 L955.1 701.1 M953.5 716.3 L959.7 704 M959.2 715.5 L965 706.8 M969.1 713.9 L975.1 713.2" stroke="#aaa6d6" stroke-opacity="0.55" stroke-width="1.8" stroke-linecap="round" fill="none"/>
<circle cx="929.7" cy="700.2" r="3.4" fill="url(#gC)"/>
<circle cx="930.8" cy="704.7" r="3.4" fill="url(#gC)"/>
<circle cx="932.6" cy="708.4" r="3.4" fill="url(#gC)"/>
<circle cx="935.4" cy="711.4" r="3.4" fill="url(#gC)"/>
<circle cx="939" cy="713.9" r="3.4" fill="url(#gC)"/>
<circle cx="943.3" cy="715.7" r="3.4" fill="url(#gC)"/>
<circle cx="948.2" cy="716.5" r="3.4" fill="url(#gC)"/>
<circle cx="953.5" cy="716.3" r="3.4" fill="url(#gC)"/>
<circle cx="959.2" cy="715.5" r="3.4" fill="url(#gC)"/>
<circle cx="964.6" cy="714.5" r="3.4" fill="url(#gC)"/>
<circle cx="969.1" cy="713.9" r="3.4" fill="url(#gC)"/>
</g>
<g>
<path d="M877.1 745.1 L898 742.1 M876.4 749.7 L899.3 747.9 M878.2 753.6 L899.6 753.6 M880.7 756.1 L899.3 759.4 M883.3 757.9 L898.6 763.5" stroke="#aaa6d6" stroke-opacity="0.55" stroke-width="1.8" stroke-linecap="round" fill="none"/>
<circle cx="883.3" cy="757.9" r="3.8" fill="url(#gC)"/>
<circle cx="880.7" cy="756.1" r="3.8" fill="url(#gC)"/>
<circle cx="878.2" cy="753.6" r="3.8" fill="url(#gC)"/>
<circle cx="876.4" cy="749.7" r="3.8" fill="url(#gC)"/>
<circle cx="877.1" cy="745.1" r="3.8" fill="url(#gC)"/>
</g>
<g>
<line x1="937.9" y1="758.2" x2="938.2" y2="771" stroke="#7cc7b6" stroke-width="3"/>
<path d="M926.9 743.4 L924.7 755.3 M932.1 749.7 L925.2 760.5 M937.2 756.6 L925.5 765.4" stroke="#aaa6d6" stroke-opacity="0.55" stroke-width="1.8" stroke-linecap="round" fill="none"/>
<circle cx="926.9" cy="743.4" r="3.9" fill="url(#gC)"/>
<circle cx="932.1" cy="749.7" r="3.9" fill="url(#gC)"/>
<circle cx="937.2" cy="756.6" r="3.9" fill="url(#gC)"/>
</g>
<g>
<path d="M980.6 760.2 L970.7 776.9 M986 765.3 L975.6 780.7 M990.9 771 L980.6 785.1 M995.3 777.3 L986 788.9" stroke="#aaa6d6" stroke-opacity="0.55" stroke-width="1.8" stroke-linecap="round" fill="none"/>
<circle cx="980.6" cy="760.2" r="3.9" fill="url(#gC)"/>
<circle cx="986" cy="765.3" r="3.9" fill="url(#gC)"/>
<circle cx="990.9" cy="771" r="3.9" fill="url(#gC)"/>
<circle cx="995.3" cy="777.3" r="3.9" fill="url(#gC)"/>
</g>
<g>
<path d="M929.1 632.1 L915.8 647.5 M932.7 638.6 L920.9 651.9 M935.9 645.4 L925.7 656.2" stroke="#aaa6d6" stroke-opacity="0.55" stroke-width="1.8" stroke-linecap="round" fill="none"/>
<circle cx="929.1" cy="632.1" r="3.9" fill="url(#gC)"/>
<circle cx="932.7" cy="638.6" r="3.9" fill="url(#gC)"/>
<circle cx="935.9" cy="645.4" r="3.9" fill="url(#gC)"/>
</g>
<g>
<path d="M1399.9 695.6 L1382.2 702 L1361.5 698 L1358.4 687.5 L1376.1 681.1 L1396.8 685.1Z M1385.3 712.5 L1367.6 719 L1346.9 715 L1343.8 704.5 L1361.5 698 L1382.2 702Z M1370.7 729.5 L1353 735.9 L1332.2 731.9 L1329.2 721.4 L1346.9 715 L1367.6 719Z M1356.1 746.4 L1338.4 752.9 L1317.6 748.8 L1314.6 738.4 L1332.3 731.9 L1353 735.9Z M1341.5 763.3 L1323.8 769.8 L1303 765.8 L1300 755.3 L1317.6 748.8 L1338.4 752.9Z M1326.9 780.3 L1309.2 786.7 L1288.4 782.7 L1285.4 772.2 L1303 765.8 L1323.8 769.8Z M1312.2 797.2 L1294.6 803.7 L1273.8 799.7 L1270.7 789.2 L1288.4 782.7 L1309.2 786.7Z M1438.3 693.1 L1420.7 699.6 L1399.9 695.6 L1396.8 685.1 L1414.5 678.6 L1435.3 682.6Z M1423.7 710.1 L1406 716.5 L1385.3 712.5 L1382.2 702 L1399.9 695.6 L1420.7 699.6Z M1409.1 727 L1391.4 733.5 L1370.7 729.5 L1367.6 719 L1385.3 712.5 L1406 716.5Z M1394.5 743.9 L1376.8 750.4 L1356.1 746.4 L1353 735.9 L1370.7 729.5 L1391.4 733.5Z M1379.9 760.9 L1362.2 767.3 L1341.5 763.3 L1338.4 752.9 L1356.1 746.4 L1376.8 750.4Z M1365.3 777.8 L1347.6 784.3 L1326.9 780.3 L1323.8 769.8 L1341.5 763.3 L1362.2 767.3Z M1350.7 794.8 L1333 801.2 L1312.2 797.2 L1309.2 786.7 L1326.9 780.3 L1347.6 784.3Z M1462.2 707.6 L1444.5 714.1 L1423.7 710.1 L1420.7 699.6 L1438.3 693.1 L1459.1 697.1Z M1447.5 724.6 L1429.9 731 L1409.1 727 L1406 716.5 L1423.7 710.1 L1444.5 714.1Z M1432.9 741.5 L1415.2 748 L1394.5 743.9 L1391.4 733.5 L1409.1 727 L1429.9 731Z M1418.3 758.4 L1400.6 764.9 L1379.9 760.9 L1376.8 750.4 L1394.5 743.9 L1415.2 748Z M1403.7 775.4 L1386 781.8 L1365.3 777.8 L1362.2 767.3 L1379.9 760.9 L1400.6 764.9Z M1389.1 792.3 L1371.4 798.8 L1350.7 794.8 L1347.6 784.3 L1365.3 777.8 L1386 781.8Z M1374.5 809.3 L1356.8 815.7 L1336.1 811.7 L1333 801.2 L1350.7 794.8 L1371.4 798.8Z M1500.6 705.2 L1482.9 711.6 L1462.2 707.6 L1459.1 697.1 L1476.8 690.7 L1497.5 694.7Z M1486 722.1 L1468.3 728.6 L1447.5 724.6 L1444.5 714.1 L1462.2 707.6 L1482.9 711.6Z M1471.4 739 L1453.7 745.5 L1432.9 741.5 L1429.9 731 L1447.5 724.6 L1468.3 728.6Z M1456.8 756 L1439.1 762.4 L1418.3 758.4 L1415.2 748 L1432.9 741.5 L1453.7 745.5Z M1442.1 772.9 L1424.5 779.4 L1403.7 775.4 L1400.6 764.9 L1418.3 758.4 L1439.1 762.4Z M1427.5 789.9 L1409.8 796.3 L1389.1 792.3 L1386 781.8 L1403.7 775.4 L1424.5 779.4Z M1412.9 806.8 L1395.2 813.3 L1374.5 809.3 L1371.4 798.8 L1389.1 792.3 L1409.9 796.3Z M1524.4 719.7 L1506.7 726.1 L1486 722.1 L1482.9 711.6 L1500.6 705.2 L1521.3 709.2Z M1509.8 736.6 L1492.1 743.1 L1471.4 739 L1468.3 728.6 L1486 722.1 L1506.7 726.1Z M1495.2 753.5 L1477.5 760 L1456.8 756 L1453.7 745.5 L1471.4 739 L1492.1 743.1Z M1480.6 770.5 L1462.9 776.9 L1442.1 772.9 L1439.1 762.4 L1456.8 756 L1477.5 760Z M1466 787.4 L1448.3 793.9 L1427.5 789.9 L1424.5 779.4 L1442.1 772.9 L1462.9 776.9Z M1451.4 804.4 L1433.7 810.8 L1412.9 806.8 L1409.9 796.3 L1427.5 789.9 L1448.3 793.9Z M1436.7 821.3 L1419.1 827.8 L1398.3 823.7 L1395.2 813.3 L1412.9 806.8 L1433.7 810.8Z M1562.8 717.2 L1545.2 723.7 L1524.4 719.7 L1521.3 709.2 L1539 702.7 L1559.8 706.7Z M1548.2 734.1 L1530.5 740.6 L1509.8 736.6 L1506.7 726.1 L1524.4 719.7 L1545.2 723.7Z M1533.6 751.1 L1515.9 757.5 L1495.2 753.5 L1492.1 743.1 L1509.8 736.6 L1530.5 740.6Z M1519 768 L1501.3 774.5 L1480.6 770.5 L1477.5 760 L1495.2 753.5 L1515.9 757.5Z M1504.4 785 L1486.7 791.4 L1466 787.4 L1462.9 776.9 L1480.6 770.5 L1501.3 774.5Z M1489.8 801.9 L1472.1 808.4 L1451.4 804.4 L1448.3 793.9 L1466 787.4 L1486.7 791.4Z M1475.2 818.8 L1457.5 825.3 L1436.7 821.3 L1433.7 810.8 L1451.4 804.4 L1472.1 808.4Z M1586.7 731.7 L1569 738.2 L1548.2 734.1 L1545.2 723.7 L1562.8 717.2 L1583.6 721.2Z M1572 748.6 L1554.4 755.1 L1533.6 751.1 L1530.5 740.6 L1548.2 734.1 L1569 738.2Z M1557.4 765.6 L1539.8 772 L1519 768 L1515.9 757.5 L1533.6 751.1 L1554.4 755.1Z M1542.8 782.5 L1525.1 789 L1504.4 785 L1501.3 774.5 L1519 768 L1539.8 772Z M1528.2 799.5 L1510.5 805.9 L1489.8 801.9 L1486.7 791.4 L1504.4 785 L1525.1 789Z M1513.6 816.4 L1495.9 822.9 L1475.2 818.8 L1472.1 808.4 L1489.8 801.9 L1510.5 805.9Z M1499 833.3 L1481.3 839.8 L1460.6 835.8 L1457.5 825.3 L1475.2 818.8 L1495.9 822.9Z M1625.1 729.2 L1607.4 735.7 L1586.7 731.7 L1583.6 721.2 L1601.3 714.8 L1622 718.8Z M1610.5 746.2 L1592.8 752.6 L1572 748.6 L1569 738.2 L1586.7 731.7 L1607.4 735.7Z M1595.9 763.1 L1578.2 769.6 L1557.4 765.6 L1554.4 755.1 L1572 748.6 L1592.8 752.6Z M1581.2 780.1 L1563.6 786.5 L1542.8 782.5 L1539.8 772 L1557.4 765.6 L1578.2 769.6Z M1566.6 797 L1549 803.5 L1528.2 799.5 L1525.1 789 L1542.8 782.5 L1563.6 786.5Z M1552 813.9 L1534.4 820.4 L1513.6 816.4 L1510.5 805.9 L1528.2 799.5 L1549 803.5Z M1537.4 830.9 L1519.7 837.3 L1499 833.3 L1495.9 822.9 L1513.6 816.4 L1534.4 820.4Z M1648.9 743.7 L1631.2 750.2 L1610.5 746.2 L1607.4 735.7 L1625.1 729.2 L1645.8 733.3Z M1634.3 760.7 L1616.6 767.1 L1595.9 763.1 L1592.8 752.6 L1610.5 746.2 L1631.2 750.2Z M1619.7 777.6 L1602 784.1 L1581.2 780.1 L1578.2 769.6 L1595.9 763.1 L1616.6 767.1Z M1605.1 794.6 L1587.4 801 L1566.6 797 L1563.6 786.5 L1581.3 780.1 L1602 784.1Z M1590.5 811.5 L1572.8 818 L1552 813.9 L1549 803.5 L1566.6 797 L1587.4 801Z M1575.9 828.4 L1558.2 834.9 L1537.4 830.9 L1534.4 820.4 L1552 813.9 L1572.8 818Z M1561.2 845.4 L1543.6 851.8 L1522.8 847.8 L1519.7 837.3 L1537.4 830.9 L1558.2 834.9Z M1687.3 741.3 L1669.6 747.7 L1648.9 743.7 L1645.8 733.3 L1663.5 726.8 L1684.3 730.8Z M1672.7 758.2 L1655 764.7 L1634.3 760.7 L1631.2 750.2 L1648.9 743.7 L1669.7 747.7Z M1658.1 775.2 L1640.4 781.6 L1619.7 777.6 L1616.6 767.1 L1634.3 760.7 L1655 764.7Z M1643.5 792.1 L1625.8 798.6 L1605.1 794.6 L1602 784.1 L1619.7 777.6 L1640.4 781.6Z M1628.9 809 L1611.2 815.5 L1590.5 811.5 L1587.4 801 L1605.1 794.6 L1625.8 798.6Z M1614.3 826 L1596.6 832.4 L1575.8 828.4 L1572.8 818 L1590.5 811.5 L1611.2 815.5Z M1599.7 842.9 L1582 849.4 L1561.2 845.4 L1558.2 834.9 L1575.9 828.4 L1596.6 832.4Z" fill="none" stroke="#2b2b2b" stroke-width="1.95" stroke-linejoin="round"/>
<polygon points="1423.7,709.1 1406,715.5 1385.3,711.5 1382.2,701 1399.9,694.6 1420.7,698.6" fill="#b869ab" stroke="#3a2a3a" stroke-width="1.1" stroke-linejoin="round"/>
<polygon points="1420.7,695.6 1423.7,706.1 1423.7,709.1 1420.7,698.6" fill="#b869ab" stroke="none"/>
<polygon points="1423.7,706.1 1406,712.5 1406,715.5 1423.7,709.1" fill="#b869ab" stroke="none"/>
<polygon points="1406,712.5 1385.3,708.5 1385.3,711.5 1406,715.5" fill="#b869ab" stroke="none"/>
<polygon points="1385.3,708.5 1382.2,698 1382.2,701 1385.3,711.5" fill="#b869ab" stroke="none"/>
<polygon points="1409.1,726 1391.4,732.5 1370.7,728.5 1367.6,718 1385.3,711.5 1406,715.5" fill="#b869ab" stroke="#3a2a3a" stroke-width="1.1" stroke-linejoin="round"/>
<polygon points="1406,712.5 1409.1,723 1409.1,726 1406,715.5" fill="#b869ab" stroke="none"/>
<polygon points="1409.1,723 1391.4,729.5 1391.4,732.5 1409.1,726" fill="#b869ab" stroke="none"/>
<polygon points="1391.4,729.5 1370.7,725.5 1370.7,728.5 1391.4,732.5" fill="#b869ab" stroke="none"/>
<polygon points="1370.7,725.5 1367.6,715 1367.6,718 1370.7,728.5" fill="#b869ab" stroke="none"/>
<polygon points="1447.5,723.6 1429.9,730 1409.1,726 1406,715.5 1423.7,709.1 1444.5,713.1" fill="#b869ab" stroke="#3a2a3a" stroke-width="1.1" stroke-linejoin="round"/>
<polygon points="1444.5,710.1 1447.5,720.6 1447.5,723.6 1444.5,713.1" fill="#b869ab" stroke="none"/>
<polygon points="1447.5,720.6 1429.9,727 1429.9,730 1447.5,723.6" fill="#b869ab" stroke="none"/>
<polygon points="1429.9,727 1409.1,723 1409.1,726 1429.9,730" fill="#b869ab" stroke="none"/>
<polygon points="1409.1,723 1406,712.5 1406,715.5 1409.1,726" fill="#b869ab" stroke="none"/>
<polygon points="1432.9,740.5 1415.2,747 1394.5,742.9 1391.4,732.5 1409.1,726 1429.9,730" fill="#b869ab" stroke="#3a2a3a" stroke-width="1.1" stroke-linejoin="round"/>
<polygon points="1429.9,727 1432.9,737.5 1432.9,740.5 1429.9,730" fill="#b869ab" stroke="none"/>
<polygon points="1432.9,737.5 1415.2,744 1415.2,747 1432.9,740.5" fill="#b869ab" stroke="none"/>
<polygon points="1415.2,744 1394.5,739.9 1394.5,742.9 1415.2,747" fill="#b869ab" stroke="none"/>
<polygon points="1394.5,739.9 1391.4,729.5 1391.4,732.5 1394.5,742.9" fill="#b869ab" stroke="none"/>
<polygon points="1423.7,706.1 1406,712.5 1385.3,708.5 1382.2,698 1399.9,691.6 1420.7,695.6" fill="#dc8ccf" stroke="#3a2a3a" stroke-width="1.1" stroke-linejoin="round"/>
<polygon points="1409.1,723 1391.4,729.5 1370.7,725.5 1367.6,715 1385.3,708.5 1406,712.5" fill="#dc8ccf" stroke="#3a2a3a" stroke-width="1.1" stroke-linejoin="round"/>
<polygon points="1447.5,720.6 1429.9,727 1409.1,723 1406,712.5 1423.7,706.1 1444.5,710.1" fill="#dc8ccf" stroke="#3a2a3a" stroke-width="1.1" stroke-linejoin="round"/>
<polygon points="1432.9,737.5 1415.2,744 1394.5,739.9 1391.4,729.5 1409.1,723 1429.9,727" fill="#dc8ccf" stroke="#3a2a3a" stroke-width="1.1" stroke-linejoin="round"/>
<polygon points="1586.7,730.7 1569,737.2 1548.2,733.1 1545.2,722.7 1562.8,716.2 1583.6,720.2" fill="#b869ab" stroke="#3a2a3a" stroke-width="1.1" stroke-linejoin="round"/>
<polygon points="1583.6,717.2 1586.7,727.7 1586.7,730.7 1583.6,720.2" fill="#b869ab" stroke="none"/>
<polygon points="1586.7,727.7 1569,734.2 1569,737.2 1586.7,730.7" fill="#b869ab" stroke="none"/>
<polygon points="1569,734.2 1548.2,730.1 1548.2,733.1 1569,737.2" fill="#b869ab" stroke="none"/>
<polygon points="1548.2,730.1 1545.2,719.7 1545.2,722.7 1548.2,733.1" fill="#b869ab" stroke="none"/>
<polygon points="1572,747.6 1554.4,754.1 1533.6,750.1 1530.5,739.6 1548.2,733.1 1569,737.2" fill="#b869ab" stroke="#3a2a3a" stroke-width="1.1" stroke-linejoin="round"/>
<polygon points="1569,734.2 1572,744.6 1572,747.6 1569,737.2" fill="#b869ab" stroke="none"/>
<polygon points="1572,744.6 1554.4,751.1 1554.4,754.1 1572,747.6" fill="#b869ab" stroke="none"/>
<polygon points="1554.4,751.1 1533.6,747.1 1533.6,750.1 1554.4,754.1" fill="#b869ab" stroke="none"/>
<polygon points="1533.6,747.1 1530.5,736.6 1530.5,739.6 1533.6,750.1" fill="#b869ab" stroke="none"/>
<polygon points="1610.5,745.2 1592.8,751.6 1572,747.6 1569,737.2 1586.7,730.7 1607.4,734.7" fill="#b869ab" stroke="#3a2a3a" stroke-width="1.1" stroke-linejoin="round"/>
<polygon points="1607.4,731.7 1610.5,742.2 1610.5,745.2 1607.4,734.7" fill="#b869ab" stroke="none"/>
<polygon points="1610.5,742.2 1592.8,748.6 1592.8,751.6 1610.5,745.2" fill="#b869ab" stroke="none"/>
<polygon points="1592.8,748.6 1572,744.6 1572,747.6 1592.8,751.6" fill="#b869ab" stroke="none"/>
<polygon points="1572,744.6 1569,734.2 1569,737.2 1572,747.6" fill="#b869ab" stroke="none"/>
<polygon points="1595.9,762.1 1578.2,768.6 1557.4,764.6 1554.4,754.1 1572,747.6 1592.8,751.6" fill="#b869ab" stroke="#3a2a3a" stroke-width="1.1" stroke-linejoin="round"/>
<polygon points="1592.8,748.6 1595.9,759.1 1595.9,762.1 1592.8,751.6" fill="#b869ab" stroke="none"/>
<polygon points="1595.9,759.1 1578.2,765.6 1578.2,768.6 1595.9,762.1" fill="#b869ab" stroke="none"/>
<polygon points="1578.2,765.6 1557.4,761.6 1557.4,764.6 1578.2,768.6" fill="#b869ab" stroke="none"/>
<polygon points="1557.4,761.6 1554.4,751.1 1554.4,754.1 1557.4,764.6" fill="#b869ab" stroke="none"/>
<polygon points="1586.7,727.7 1569,734.2 1548.2,730.1 1545.2,719.7 1562.8,713.2 1583.6,717.2" fill="#dc8ccf" stroke="#3a2a3a" stroke-width="1.1" stroke-linejoin="round"/>
<polygon points="1572,744.6 1554.4,751.1 1533.6,747.1 1530.5,736.6 1548.2,730.1 1569,734.2" fill="#dc8ccf" stroke="#3a2a3a" stroke-width="1.1" stroke-linejoin="round"/>
<polygon points="1610.5,742.2 1592.8,748.6 1572,744.6 1569,734.2 1586.7,727.7 1607.4,731.7" fill="#dc8ccf" stroke="#3a2a3a" stroke-width="1.1" stroke-linejoin="round"/>
<polygon points="1595.9,759.1 1578.2,765.6 1557.4,761.6 1554.4,751.1 1572,744.6 1592.8,748.6" fill="#dc8ccf" stroke="#3a2a3a" stroke-width="1.1" stroke-linejoin="round"/>
<polygon points="1504.4,784 1486.7,790.4 1466,786.4 1462.9,775.9 1480.6,769.5 1501.3,773.5" fill="#b869ab" stroke="#3a2a3a" stroke-width="1.1" stroke-linejoin="round"/>
<polygon points="1501.3,770.5 1504.4,781 1504.4,784 1501.3,773.5" fill="#b869ab" stroke="none"/>
<polygon points="1504.4,781 1486.7,787.4 1486.7,790.4 1504.4,784" fill="#b869ab" stroke="none"/>
<polygon points="1486.7,787.4 1466,783.4 1466,786.4 1486.7,790.4" fill="#b869ab" stroke="none"/>
<polygon points="1466,783.4 1462.9,772.9 1462.9,775.9 1466,786.4" fill="#b869ab" stroke="none"/>
<polygon points="1489.8,800.9 1472.1,807.4 1451.4,803.4 1448.3,792.9 1466,786.4 1486.7,790.4" fill="#b869ab" stroke="#3a2a3a" stroke-width="1.1" stroke-linejoin="round"/>
<polygon points="1486.7,787.4 1489.8,797.9 1489.8,800.9 1486.7,790.4" fill="#b869ab" stroke="none"/>
<polygon points="1489.8,797.9 1472.1,804.4 1472.1,807.4 1489.8,800.9" fill="#b869ab" stroke="none"/>
<polygon points="1472.1,804.4 1451.4,800.4 1451.4,803.4 1472.1,807.4" fill="#b869ab" stroke="none"/>
<polygon points="1451.4,800.4 1448.3,789.9 1448.3,792.9 1451.4,803.4" fill="#b869ab" stroke="none"/>
<polygon points="1528.2,798.5 1510.5,804.9 1489.8,800.9 1486.7,790.4 1504.4,784 1525.1,788" fill="#b869ab" stroke="#3a2a3a" stroke-width="1.1" stroke-linejoin="round"/>
<polygon points="1525.1,785 1528.2,795.5 1528.2,798.5 1525.1,788" fill="#b869ab" stroke="none"/>
<polygon points="1528.2,795.5 1510.5,801.9 1510.5,804.9 1528.2,798.5" fill="#b869ab" stroke="none"/>
<polygon points="1510.5,801.9 1489.8,797.9 1489.8,800.9 1510.5,804.9" fill="#b869ab" stroke="none"/>
<polygon points="1489.8,797.9 1486.7,787.4 1486.7,790.4 1489.8,800.9" fill="#b869ab" stroke="none"/>
<polygon points="1513.6,815.4 1495.9,821.9 1475.2,817.8 1472.1,807.4 1489.8,800.9 1510.5,804.9" fill="#b869ab" stroke="#3a2a3a" stroke-width="1.1" stroke-linejoin="round"/>
<polygon points="1510.5,801.9 1513.6,812.4 1513.6,815.4 1510.5,804.9" fill="#b869ab" stroke="none"/>
<polygon points="1513.6,812.4 1495.9,818.9 1495.9,821.9 1513.6,815.4" fill="#b869ab" stroke="none"/>
<polygon points="1495.9,818.9 1475.2,814.8 1475.2,817.8 1495.9,821.9" fill="#b869ab" stroke="none"/>
<polygon points="1475.2,814.8 1472.1,804.4 1472.1,807.4 1475.2,817.8" fill="#b869ab" stroke="none"/>
<polygon points="1504.4,781 1486.7,787.4 1466,783.4 1462.9,772.9 1480.6,766.5 1501.3,770.5" fill="#dc8ccf" stroke="#3a2a3a" stroke-width="1.1" stroke-linejoin="round"/>
<polygon points="1489.8,797.9 1472.1,804.4 1451.4,800.4 1448.3,789.9 1466,783.4 1486.7,787.4" fill="#dc8ccf" stroke="#3a2a3a" stroke-width="1.1" stroke-linejoin="round"/>
<polygon points="1528.2,795.5 1510.5,801.9 1489.8,797.9 1486.7,787.4 1504.4,781 1525.1,785" fill="#dc8ccf" stroke="#3a2a3a" stroke-width="1.1" stroke-linejoin="round"/>
<polygon points="1513.6,812.4 1495.9,818.9 1475.2,814.8 1472.1,804.4 1489.8,797.9 1510.5,801.9" fill="#dc8ccf" stroke="#3a2a3a" stroke-width="1.1" stroke-linejoin="round"/>
</g>
<g>
<line x1="1417.5" y1="680" x2="1417.9" y2="695" stroke="#7cc7b6" stroke-width="3.2"/>
<path d="M1422 518.3 L1401.4 526.4 M1425.3 528.2 L1401.4 533.3 M1427.2 538.7 L1401.4 540.3 M1426.9 548.9 L1401.4 547.3 M1424.8 559.4 L1401.4 554.2 M1421.6 569.1 L1401.4 561.2 M1416.4 578.4 L1401.4 568.2 M1410.5 586.8 L1401.4 575.1 M1403.5 594.6 L1401.4 582.1 M1396.5 601.8 L1401.4 589.1 M1389.4 608.1 L1401.4 596 M1383.1 613.5 L1401.4 603 M1378.4 618.1 L1401.4 610 M1375.4 622.3 L1401.4 616.9 M1373.7 626.2 L1401.4 623.9 M1373.7 630.2 L1401.4 630.9 M1375.1 634.1 L1401.4 637.8 M1377.9 638.1 L1401.4 644.8 M1381.9 642 L1401.4 651.8 M1386.6 646.2 L1401.4 658.7 M1391.8 650.8 L1401.4 665.7 M1397.6 655.9 L1401.4 672.7 M1404.2 662 L1401.4 679.6 M1411.2 669.6 L1401.4 686.6 M1417.1 678 L1401.4 693.6" stroke="#a9a6d4" stroke-opacity="0.5" stroke-width="2.5" stroke-linecap="round" fill="none"/>
<circle cx="1422" cy="518.3" r="5" fill="url(#gC)"/>
<circle cx="1425.3" cy="528.2" r="5" fill="url(#gC)"/>
<circle cx="1427.2" cy="538.7" r="5" fill="url(#gC)"/>
<circle cx="1426.9" cy="548.9" r="5" fill="url(#gC)"/>
<circle cx="1424.8" cy="559.4" r="5" fill="url(#gC)"/>
<circle cx="1421.6" cy="569.1" r="5" fill="url(#gC)"/>
<circle cx="1416.4" cy="578.4" r="5" fill="url(#gC)"/>
<circle cx="1410.5" cy="586.8" r="5" fill="url(#gC)"/>
<circle cx="1403.5" cy="594.6" r="5" fill="url(#gC)"/>
<circle cx="1396.5" cy="601.8" r="5" fill="url(#gC)"/>
<circle cx="1389.4" cy="608.1" r="5" fill="url(#gC)"/>
<circle cx="1383.1" cy="613.5" r="5" fill="url(#gC)"/>
<circle cx="1378.4" cy="618.1" r="5" fill="url(#gC)"/>
<circle cx="1375.4" cy="622.3" r="5" fill="url(#gC)"/>
<circle cx="1373.7" cy="626.2" r="5" fill="url(#gC)"/>
<circle cx="1373.7" cy="630.2" r="5" fill="url(#gC)"/>
<circle cx="1375.1" cy="634.1" r="5" fill="url(#gC)"/>
<circle cx="1377.9" cy="638.1" r="5" fill="url(#gC)"/>
<circle cx="1381.9" cy="642" r="5" fill="url(#gC)"/>
<circle cx="1386.6" cy="646.2" r="5" fill="url(#gC)"/>
<circle cx="1391.8" cy="650.8" r="5" fill="url(#gC)"/>
<circle cx="1397.6" cy="655.9" r="5" fill="url(#gC)"/>
<circle cx="1404.2" cy="662" r="5" fill="url(#gC)"/>
<circle cx="1411.2" cy="669.6" r="5" fill="url(#gC)"/>
<circle cx="1417.1" cy="678" r="5" fill="url(#gC)"/>
<path d="M1381.9 642 L1396.5 649.3 M1386.6 646.2 L1397.7 655.6 M1391.8 650.8 L1399 662 M1397.6 655.9 L1400.5 668.5 M1404.2 662 L1402.1 675.2 M1411.2 669.6 L1403.9 682.4" stroke="#8c8ce0" stroke-opacity="0.5" stroke-width="2.5" stroke-linecap="round" fill="none"/>
</g>
<g>
<line x1="1563.9" y1="697.5" x2="1564.3" y2="713.5" stroke="#7cc7b6" stroke-width="3.2"/>
<path d="M1568.7 527.1 L1546.9 535.6 M1572.2 537.6 L1546.9 543 M1574.2 548.6 L1546.9 550.3 M1573.9 559.4 L1546.9 557.7 M1571.7 570.4 L1546.9 565 M1568.2 580.7 L1546.9 572.4 M1562.8 590.5 L1546.9 579.7 M1556.5 599.3 L1546.9 587 M1549.1 607.6 L1546.9 594.4 M1541.7 615.2 L1546.9 601.7 M1534.2 621.8 L1546.9 609.1 M1527.5 627.4 L1546.9 616.4 M1522.5 632.3 L1546.9 623.8 M1519.3 636.7 L1546.9 631.1 M1517.6 640.9 L1546.9 638.5 M1517.6 645.1 L1546.9 645.8 M1519.1 649.2 L1546.9 653.1 M1522 653.4 L1546.9 660.5 M1526.3 657.6 L1546.9 667.8 M1531.2 662 L1546.9 675.2 M1536.7 666.9 L1546.9 682.5 M1542.9 672.2 L1546.9 689.9 M1549.8 678.6 L1546.9 697.2 M1557.3 686.7 L1546.9 704.6 M1563.5 695.5 L1546.9 711.9" stroke="#a9a6d4" stroke-opacity="0.5" stroke-width="2.5" stroke-linecap="round" fill="none"/>
<circle cx="1568.7" cy="527.1" r="5.3" fill="url(#gC)"/>
<circle cx="1572.2" cy="537.6" r="5.3" fill="url(#gC)"/>
<circle cx="1574.2" cy="548.6" r="5.3" fill="url(#gC)"/>
<circle cx="1573.9" cy="559.4" r="5.3" fill="url(#gC)"/>
<circle cx="1571.7" cy="570.4" r="5.3" fill="url(#gC)"/>
<circle cx="1568.2" cy="580.7" r="5.3" fill="url(#gC)"/>
<circle cx="1562.8" cy="590.5" r="5.3" fill="url(#gC)"/>
<circle cx="1556.5" cy="599.3" r="5.3" fill="url(#gC)"/>
<circle cx="1549.1" cy="607.6" r="5.3" fill="url(#gC)"/>
<circle cx="1541.7" cy="615.2" r="5.3" fill="url(#gC)"/>
<circle cx="1534.2" cy="621.8" r="5.3" fill="url(#gC)"/>
<circle cx="1527.5" cy="627.4" r="5.3" fill="url(#gC)"/>
<circle cx="1522.5" cy="632.3" r="5.3" fill="url(#gC)"/>
<circle cx="1519.3" cy="636.7" r="5.3" fill="url(#gC)"/>
<circle cx="1517.6" cy="640.9" r="5.3" fill="url(#gC)"/>
<circle cx="1517.6" cy="645.1" r="5.3" fill="url(#gC)"/>
<circle cx="1519.1" cy="649.2" r="5.3" fill="url(#gC)"/>
<circle cx="1522" cy="653.4" r="5.3" fill="url(#gC)"/>
<circle cx="1526.3" cy="657.6" r="5.3" fill="url(#gC)"/>
<circle cx="1531.2" cy="662" r="5.3" fill="url(#gC)"/>
<circle cx="1536.7" cy="666.9" r="5.3" fill="url(#gC)"/>
<circle cx="1542.9" cy="672.2" r="5.3" fill="url(#gC)"/>
<circle cx="1549.8" cy="678.6" r="5.3" fill="url(#gC)"/>
<circle cx="1557.3" cy="686.7" r="5.3" fill="url(#gC)"/>
<circle cx="1563.5" cy="695.5" r="5.3" fill="url(#gC)"/>
<path d="M1526.3 657.6 L1541.7 665.3 M1531.2 662 L1543 671.9 M1536.7 666.9 L1544.3 678.6 M1542.9 672.2 L1545.9 685.5 M1549.8 678.6 L1547.6 692.6 M1557.3 686.7 L1549.5 700.1" stroke="#8c8ce0" stroke-opacity="0.5" stroke-width="2.5" stroke-linecap="round" fill="none"/>
</g>
<g>
<line x1="1500.9" y1="767.5" x2="1501.4" y2="780.1" stroke="#7cc7b6" stroke-width="3"/>
<line x1="1446.5" y1="690.5" x2="1475.6" y2="685" stroke="#37c3d6" stroke-width="2.2"/>
<line x1="1475.6" y1="685" x2="1504.6" y2="679.5" stroke="#86cf63" stroke-width="2.2"/>
<line x1="1444.2" y1="696.1" x2="1475.6" y2="693.4" stroke="#37c3d6" stroke-width="2.2"/>
<line x1="1475.6" y1="693.4" x2="1506.9" y2="690.8" stroke="#86cf63" stroke-width="2.2"/>
<line x1="1444.7" y1="701.3" x2="1475.8" y2="701.8" stroke="#37c3d6" stroke-width="2.2"/>
<line x1="1475.8" y1="701.8" x2="1506.9" y2="702.4" stroke="#86cf63" stroke-width="2.2"/>
<line x1="1447.3" y1="706" x2="1475.9" y2="710.2" stroke="#37c3d6" stroke-width="2.2"/>
<line x1="1475.9" y1="710.2" x2="1504.6" y2="714.5" stroke="#86cf63" stroke-width="2.2"/>
<line x1="1451.3" y1="710.5" x2="1475.8" y2="718.3" stroke="#37c3d6" stroke-width="2.2"/>
<line x1="1475.8" y1="718.3" x2="1500.4" y2="726" stroke="#86cf63" stroke-width="2.2"/>
<line x1="1456.2" y1="715.2" x2="1475.6" y2="725.9" stroke="#37c3d6" stroke-width="2.2"/>
<line x1="1475.6" y1="725.9" x2="1494.9" y2="736.5" stroke="#86cf63" stroke-width="2.2"/>
<line x1="1462" y1="720.5" x2="1474.9" y2="733.5" stroke="#37c3d6" stroke-width="2.2"/>
<line x1="1474.9" y1="733.5" x2="1487.8" y2="746.5" stroke="#86cf63" stroke-width="2.2"/>
<line x1="1468.6" y1="726.8" x2="1474.5" y2="741.2" stroke="#37c3d6" stroke-width="2.2"/>
<line x1="1474.5" y1="741.2" x2="1480.4" y2="755.7" stroke="#86cf63" stroke-width="2.2"/>
<line x1="1475.7" y1="733.6" x2="1473.8" y2="748.6" stroke="#37c3d6" stroke-width="2.2"/>
<line x1="1473.8" y1="748.6" x2="1472" y2="763.6" stroke="#86cf63" stroke-width="2.2"/>
<line x1="1483" y1="741.2" x2="1473.8" y2="756.1" stroke="#37c3d6" stroke-width="2.2"/>
<line x1="1473.8" y1="756.1" x2="1464.7" y2="770.9" stroke="#86cf63" stroke-width="2.2"/>
<line x1="1489.6" y1="748.1" x2="1473.6" y2="762.8" stroke="#37c3d6" stroke-width="2.2"/>
<line x1="1473.6" y1="762.8" x2="1457.6" y2="777.5" stroke="#86cf63" stroke-width="2.2"/>
<line x1="1495.4" y1="754.6" x2="1473.5" y2="769" stroke="#37c3d6" stroke-width="2.2"/>
<line x1="1473.5" y1="769" x2="1451.5" y2="783.3" stroke="#86cf63" stroke-width="2.2"/>
<circle cx="1459.4" cy="680" r="5.1" fill="url(#gC)"/>
<circle cx="1451.5" cy="685.3" r="5.1" fill="url(#gC)"/>
<circle cx="1446.5" cy="690.5" r="5.1" fill="url(#gC)"/>
<circle cx="1444.2" cy="696.1" r="5.1" fill="url(#gC)"/>
<circle cx="1444.7" cy="701.3" r="5.1" fill="url(#gC)"/>
<circle cx="1447.3" cy="706" r="5.1" fill="url(#gC)"/>
<circle cx="1451.3" cy="710.5" r="5.1" fill="url(#gC)"/>
<circle cx="1456.2" cy="715.2" r="5.1" fill="url(#gC)"/>
<circle cx="1462" cy="720.5" r="5.1" fill="url(#gC)"/>
<circle cx="1468.6" cy="726.8" r="5.1" fill="url(#gC)"/>
<circle cx="1475.7" cy="733.6" r="5.1" fill="url(#gC)"/>
<circle cx="1483" cy="741.2" r="5.1" fill="url(#gC)"/>
<circle cx="1489.6" cy="748.1" r="5.1" fill="url(#gC)"/>
<circle cx="1495.4" cy="754.6" r="5.1" fill="url(#gC)"/>
<circle cx="1500.6" cy="764.4" r="5.1" fill="url(#gC)"/>
<circle cx="1451.5" cy="783.3" r="5.5" fill="url(#gG)"/>
<circle cx="1457.6" cy="777.5" r="5.5" fill="url(#gG)"/>
<circle cx="1464.7" cy="770.9" r="5.5" fill="url(#gG)"/>
<circle cx="1472" cy="763.6" r="5.5" fill="url(#gG)"/>
<circle cx="1480.4" cy="755.7" r="5.5" fill="url(#gG)"/>
<circle cx="1487.8" cy="746.5" r="5.5" fill="url(#gG)"/>
<circle cx="1494.9" cy="736.5" r="5.5" fill="url(#gG)"/>
<circle cx="1500.4" cy="726" r="5.5" fill="url(#gG)"/>
<circle cx="1504.6" cy="714.5" r="5.5" fill="url(#gG)"/>
<circle cx="1506.9" cy="702.4" r="5.5" fill="url(#gG)"/>
<circle cx="1506.9" cy="690.8" r="5.5" fill="url(#gG)"/>
<circle cx="1504.6" cy="679.5" r="5.5" fill="url(#gG)"/>
</g>
<g transform="translate(1469.4,663.2) rotate(0) scale(0.93)">
<path d="M0,0 L-18,0.6" stroke="#ee3535" stroke-width="4.2"/>
<path d="M0,0 L-2.6,11" stroke="#ee3535" stroke-width="4.2"/>
<ellipse cx="-30.6" cy="0.8" rx="12" ry="9.2" fill="none" stroke="#ea6464" stroke-width="5.2"/>
<ellipse cx="-30.6" cy="0.10000000000000009" rx="12.3" ry="9.4" fill="none" stroke="#f79c9c" stroke-width="1.7"/>
<ellipse cx="-6.0" cy="20.8" rx="12" ry="9.2" fill="none" stroke="#ea6464" stroke-width="5.2"/>
<ellipse cx="-6.0" cy="20.1" rx="12.3" ry="9.4" fill="none" stroke="#f79c9c" stroke-width="1.7"/>
<path d="M-1.5,-1 C-4,-10 -11.5,-24 -9.5,-38 C-7,-52 7,-59.5 19,-60.5 C23.5,-60 22.5,-52 20.5,-42 C17.5,-27 9,-13 3,-1 Z" fill="#f42222"/>
<path d="M2,-2 C12,-6 30,-9.5 48,-12 C62,-14 76,-15 80,-12.8 C81.5,-9 73,-2 60,4 C48,8 34,9 22,8 C14,6.8 8,4 2,1.8 Z" fill="#f42222"/>
<circle cx="0" cy="0" r="4.8" fill="url(#gP)"/>
</g>
<g>
<line x1="1504.6" y1="580.5" x2="1475.8" y2="586.3" stroke="#37c3d6" stroke-width="2.2"/>
<line x1="1475.8" y1="586.3" x2="1447.1" y2="592" stroke="#86cf63" stroke-width="2.2"/>
<line x1="1506.9" y1="592" x2="1476.2" y2="594.4" stroke="#37c3d6" stroke-width="2.2"/>
<line x1="1476.2" y1="594.4" x2="1445.5" y2="596.8" stroke="#86cf63" stroke-width="2.2"/>
<line x1="1506.9" y1="603.9" x2="1476.3" y2="602.7" stroke="#37c3d6" stroke-width="2.2"/>
<line x1="1476.3" y1="602.7" x2="1445.7" y2="601.5" stroke="#86cf63" stroke-width="2.2"/>
<line x1="1504.6" y1="615.7" x2="1476.1" y2="610.8" stroke="#37c3d6" stroke-width="2.2"/>
<line x1="1476.1" y1="610.8" x2="1447.6" y2="606" stroke="#86cf63" stroke-width="2.2"/>
<line x1="1500.6" y1="627" x2="1475.7" y2="618.4" stroke="#37c3d6" stroke-width="2.2"/>
<line x1="1475.7" y1="618.4" x2="1450.7" y2="609.9" stroke="#86cf63" stroke-width="2.2"/>
<line x1="1495.1" y1="638" x2="1474.9" y2="625.9" stroke="#37c3d6" stroke-width="2.2"/>
<line x1="1474.9" y1="625.9" x2="1454.7" y2="613.8" stroke="#86cf63" stroke-width="2.2"/>
<line x1="1488.3" y1="648" x2="1473.8" y2="632.9" stroke="#37c3d6" stroke-width="2.2"/>
<line x1="1473.8" y1="632.9" x2="1459.4" y2="617.8" stroke="#86cf63" stroke-width="2.2"/>
<line x1="1480.9" y1="656.7" x2="1472.8" y2="639.6" stroke="#37c3d6" stroke-width="2.2"/>
<line x1="1472.8" y1="639.6" x2="1464.7" y2="622.5" stroke="#86cf63" stroke-width="2.2"/>
<circle cx="1447.1" cy="592" r="5.4" fill="url(#gG)"/>
<circle cx="1445.5" cy="596.8" r="5.4" fill="url(#gG)"/>
<circle cx="1445.7" cy="601.5" r="5.4" fill="url(#gG)"/>
<circle cx="1447.6" cy="606" r="5.4" fill="url(#gG)"/>
<circle cx="1450.7" cy="609.9" r="5.4" fill="url(#gG)"/>
<circle cx="1454.7" cy="613.8" r="5.4" fill="url(#gG)"/>
<circle cx="1459.4" cy="617.8" r="5.4" fill="url(#gG)"/>
<circle cx="1464.7" cy="622.5" r="5.4" fill="url(#gG)"/>
<circle cx="1504.6" cy="580.5" r="5.3" fill="url(#gC)"/>
<circle cx="1506.9" cy="592" r="5.3" fill="url(#gC)"/>
<circle cx="1506.9" cy="603.9" r="5.3" fill="url(#gC)"/>
<circle cx="1504.6" cy="615.7" r="5.3" fill="url(#gC)"/>
<circle cx="1500.6" cy="627" r="5.3" fill="url(#gC)"/>
<circle cx="1495.1" cy="638" r="5.3" fill="url(#gC)"/>
<circle cx="1488.3" cy="648" r="5.3" fill="url(#gC)"/>
<circle cx="1480.9" cy="656.7" r="5.3" fill="url(#gC)"/>
</g>
<line x1="782" y1="177" x2="1152" y2="177" stroke="#8a8a8a" stroke-width="3" stroke-dasharray="13 6.5"/>
<line x1="739.5" y1="262" x2="752" y2="710" stroke="#8a8a8a" stroke-width="3" stroke-dasharray="13 6.5"/>
<line x1="1206.4" y1="357" x2="1206.4" y2="586" stroke="#222" stroke-width="2.3" marker-end="url(#ah)"/>
<text x="1302.5" y="474.5" font-size="27.3" class="b" text-anchor="start" >Input</text>
<g transform="translate(1123.6,486) rotate(0) scale(1.0)">
<path d="M0,0 L-18,0.6" stroke="#ee3535" stroke-width="4.2"/>
<path d="M0,0 L-2.6,11" stroke="#ee3535" stroke-width="4.2"/>
<ellipse cx="-30.6" cy="0.8" rx="12" ry="9.2" fill="none" stroke="#ea6464" stroke-width="5.2"/>
<ellipse cx="-30.6" cy="0.10000000000000009" rx="12.3" ry="9.4" fill="none" stroke="#f79c9c" stroke-width="1.7"/>
<ellipse cx="-6.0" cy="20.8" rx="12" ry="9.2" fill="none" stroke="#ea6464" stroke-width="5.2"/>
<ellipse cx="-6.0" cy="20.1" rx="12.3" ry="9.4" fill="none" stroke="#f79c9c" stroke-width="1.7"/>
<path d="M-1.5,-1 C-4,-10 -11.5,-24 -9.5,-38 C-7,-52 7,-59.5 19,-60.5 C23.5,-60 22.5,-52 20.5,-42 C17.5,-27 9,-13 3,-1 Z" fill="#f42222"/>
<path d="M2,-2 C12,-6 30,-9.5 48,-12 C62,-14 76,-15 80,-12.8 C81.5,-9 73,-2 60,4 C48,8 34,9 22,8 C14,6.8 8,4 2,1.8 Z" fill="#f42222"/>
<circle cx="0" cy="0" r="4.8" fill="url(#gP)"/>
</g>
<path d="M1230.9 412.7 L1245.7 412.7 M1227.1 418.6 L1245.7 418.6 M1225 424.5 L1245.7 424.5 M1224.7 430.4 L1245.7 430.4 M1226.2 436.3 L1245.7 436.3 M1228.5 442.3 L1245.7 442.3 M1232.1 447.9 L1245.7 447.9 M1236.5 453.5 L1245.7 453.5 M1241 459.1 L1245.7 459.1 M1251.6 470.6 L1245.7 470.6 M1256 476.6 L1245.7 476.6 M1259.9 482.5 L1245.7 482.5 M1262.8 488.7 L1245.7 488.7 M1264.6 494.9 L1245.7 494.9 M1265.5 501.4 L1245.7 501.4 M1264.9 507.9 L1245.7 507.9 M1262.8 514.4 L1245.7 514.4 M1259.3 520.9 L1245.7 520.9 M1254.6 526.8 L1245.7 526.8 M1249.8 532.7 L1245.7 532.7 M1239.5 544.6 L1245.7 544.6 M1234.5 550.2 L1245.7 550.2" stroke="#76c653" stroke-width="1.8" fill="none"/>
<circle cx="1230.9" cy="412.7" r="3.5" fill="url(#gG)"/>
<circle cx="1227.1" cy="418.6" r="3.5" fill="url(#gG)"/>
<circle cx="1225" cy="424.5" r="3.5" fill="url(#gG)"/>
<circle cx="1224.7" cy="430.4" r="3.5" fill="url(#gG)"/>
<circle cx="1226.2" cy="436.3" r="3.5" fill="url(#gG)"/>
<circle cx="1228.5" cy="442.3" r="3.5" fill="url(#gG)"/>
<circle cx="1232.1" cy="447.9" r="3.5" fill="url(#gG)"/>
<circle cx="1236.5" cy="453.5" r="3.5" fill="url(#gG)"/>
<circle cx="1241" cy="459.1" r="3.5" fill="url(#gG)"/>
<circle cx="1246.3" cy="464.7" r="3.5" fill="url(#gG)"/>
<circle cx="1251.6" cy="470.6" r="3.5" fill="url(#gG)"/>
<circle cx="1256" cy="476.6" r="3.5" fill="url(#gG)"/>
<circle cx="1259.9" cy="482.5" r="3.5" fill="url(#gG)"/>
<circle cx="1262.8" cy="488.7" r="3.5" fill="url(#gG)"/>
<circle cx="1264.6" cy="494.9" r="3.5" fill="url(#gG)"/>
<circle cx="1265.5" cy="501.4" r="3.5" fill="url(#gG)"/>
<circle cx="1264.9" cy="507.9" r="3.5" fill="url(#gG)"/>
<circle cx="1262.8" cy="514.4" r="3.5" fill="url(#gG)"/>
<circle cx="1259.3" cy="520.9" r="3.5" fill="url(#gG)"/>
<circle cx="1254.6" cy="526.8" r="3.5" fill="url(#gG)"/>
<circle cx="1249.8" cy="532.7" r="3.5" fill="url(#gG)"/>
<circle cx="1244.8" cy="538.6" r="3.5" fill="url(#gG)"/>
<circle cx="1239.5" cy="544.6" r="3.5" fill="url(#gG)"/>
<circle cx="1234.5" cy="550.2" r="3.5" fill="url(#gG)"/>
<path d="M1077.1,681 C1110,632 1160,616 1206,616 C1262,616 1310,636 1337.5,664" fill="none" stroke="#222" stroke-width="2.8" marker-end="url(#ah2)"/>
<path d="M1344.6,823 C1316,858 1270,874 1224,874 C1166,874 1112,852 1083.2,813.2" fill="none" stroke="#222" stroke-width="2.8" marker-end="url(#ah2)"/>
<text x="1164" y="743.2" font-size="27.3" class="b" text-anchor="start" >Cycles</text>
<g transform="translate(1049.1,659.9) rotate(0) scale(0.52)">
<path d="M0,0 L-18,0.6" stroke="#ee3535" stroke-width="4.2"/>
<path d="M0,0 L-2.6,11" stroke="#ee3535" stroke-width="4.2"/>
<ellipse cx="-30.6" cy="0.8" rx="12" ry="9.2" fill="none" stroke="#ea6464" stroke-width="5.2"/>
<ellipse cx="-30.6" cy="0.10000000000000009" rx="12.3" ry="9.4" fill="none" stroke="#f79c9c" stroke-width="1.7"/>
<ellipse cx="-6.0" cy="20.8" rx="12" ry="9.2" fill="none" stroke="#ea6464" stroke-width="5.2"/>
<ellipse cx="-6.0" cy="20.1" rx="12.3" ry="9.4" fill="none" stroke="#f79c9c" stroke-width="1.7"/>
<path d="M-1.5,-1 C-4,-10 -11.5,-24 -9.5,-38 C-7,-52 7,-59.5 19,-60.5 C23.5,-60 22.5,-52 20.5,-42 C17.5,-27 9,-13 3,-1 Z" fill="#f42222"/>
<path d="M2,-2 C12,-6 30,-9.5 48,-12 C62,-14 76,-15 80,-12.8 C81.5,-9 73,-2 60,4 C48,8 34,9 22,8 C14,6.8 8,4 2,1.8 Z" fill="#f42222"/>
<circle cx="0" cy="0" r="4.8" fill="url(#gP)"/>
</g>
<path d="M1126.3 651.4 L1130.1 657.8 M1124.4 650.1 L1128.1 656.6 M1122.1 650.1 L1125.9 656.5 M1119.9 650.5 L1123.6 657 M1117.8 651.6 L1121.5 658 M1116 653 L1119.7 659.3 M1114.3 654.6 L1118 660.9 M1112.9 656.3 L1116.4 662.4 M1111.6 658.2 L1115 664.1 M1110.5 660.3 L1113.7 665.7 M1109.7 662.4 L1112.5 667.3 M1108.9 664.6 L1111.3 668.7 M1108.2 666.8 L1110.1 670 M1107.7 669 L1108.9 671 M1107.1 671.2 L1107.5 671.9 M1106.6 673.5 L1105.7 671.9 M1106 675.7 L1104.2 672.6 M1105.4 677.9 L1102.9 673.6 M1104.8 680.2 L1101.8 674.9 M1104 682.3 L1100.5 676.2 M1103.1 684.4 L1099.2 677.8 M1102 686.4 L1097.9 679.4 M1100.6 688.3 L1096.4 681 M1099 690 L1094.8 682.7 M1097.2 691.4 L1093.1 684.2 M1095.2 692.5 L1091.3 685.6 M1093.1 693.3 L1089.4 687 M1090.8 693.8 L1087.6 688.2 M1088.5 694 L1085.8 689.3 M1086.2 694 L1084.1 690.4 M1083.9 693.8 L1082.7 691.6" stroke="#86d663" stroke-width="0.8" fill="none"/>
<circle cx="1126.3" cy="651.4" r="1.3" fill="url(#gG)"/>
<circle cx="1124.4" cy="650.1" r="1.3" fill="url(#gG)"/>
<circle cx="1122.1" cy="650.1" r="1.3" fill="url(#gG)"/>
<circle cx="1119.9" cy="650.5" r="1.3" fill="url(#gG)"/>
<circle cx="1117.8" cy="651.6" r="1.3" fill="url(#gG)"/>
<circle cx="1116" cy="653" r="1.3" fill="url(#gG)"/>
<circle cx="1114.3" cy="654.6" r="1.3" fill="url(#gG)"/>
<circle cx="1112.9" cy="656.3" r="1.3" fill="url(#gG)"/>
<circle cx="1111.6" cy="658.2" r="1.3" fill="url(#gG)"/>
<circle cx="1110.5" cy="660.3" r="1.3" fill="url(#gG)"/>
<circle cx="1109.7" cy="662.4" r="1.3" fill="url(#gG)"/>
<circle cx="1108.9" cy="664.6" r="1.3" fill="url(#gG)"/>
<circle cx="1108.2" cy="666.8" r="1.3" fill="url(#gG)"/>
<circle cx="1107.7" cy="669" r="1.3" fill="url(#gG)"/>
<circle cx="1107.1" cy="671.2" r="1.3" fill="url(#gG)"/>
<circle cx="1106.6" cy="673.5" r="1.3" fill="url(#gG)"/>
<circle cx="1106" cy="675.7" r="1.3" fill="url(#gG)"/>
<circle cx="1105.4" cy="677.9" r="1.3" fill="url(#gG)"/>
<circle cx="1104.8" cy="680.2" r="1.3" fill="url(#gG)"/>
<circle cx="1104" cy="682.3" r="1.3" fill="url(#gG)"/>
<circle cx="1103.1" cy="684.4" r="1.3" fill="url(#gG)"/>
<circle cx="1102" cy="686.4" r="1.3" fill="url(#gG)"/>
<circle cx="1100.6" cy="688.3" r="1.3" fill="url(#gG)"/>
<circle cx="1099" cy="690" r="1.3" fill="url(#gG)"/>
<circle cx="1097.2" cy="691.4" r="1.3" fill="url(#gG)"/>
<circle cx="1095.2" cy="692.5" r="1.3" fill="url(#gG)"/>
<circle cx="1093.1" cy="693.3" r="1.3" fill="url(#gG)"/>
<circle cx="1090.8" cy="693.8" r="1.3" fill="url(#gG)"/>
<circle cx="1088.5" cy="694" r="1.3" fill="url(#gG)"/>
<circle cx="1086.2" cy="694" r="1.3" fill="url(#gG)"/>
<circle cx="1083.9" cy="693.8" r="1.3" fill="url(#gG)"/>
<circle cx="1081.6" cy="693.6" r="1.3" fill="url(#gG)"/>
<circle cx="1079.4" cy="693.4" r="1.3" fill="url(#gG)"/>
<circle cx="1077.1" cy="693.2" r="1.3" fill="url(#gG)"/>
<circle cx="1074.8" cy="693" r="1.3" fill="url(#gG)"/>
<circle cx="1072.5" cy="692.9" r="1.3" fill="url(#gG)"/>
<circle cx="1070.2" cy="692.7" r="1.3" fill="url(#gG)"/>
<line x1="663.5" y1="762.6" x2="543" y2="762.6" stroke="#222" stroke-width="2.3" marker-end="url(#ah)"/>
<text x="555.4" y="734.5" font-size="27.3" class="b" text-anchor="start" >Output</text>
<g transform="translate(1527.9,109.1) rotate(0) scale(0.52)">
<path d="M0,0 L-18,0.6" stroke="#ee3535" stroke-width="4.2"/>
<path d="M0,0 L-2.6,11" stroke="#ee3535" stroke-width="4.2"/>
<ellipse cx="-30.6" cy="0.8" rx="12" ry="9.2" fill="none" stroke="#ea6464" stroke-width="5.2"/>
<ellipse cx="-30.6" cy="0.10000000000000009" rx="12.3" ry="9.4" fill="none" stroke="#f79c9c" stroke-width="1.7"/>
<ellipse cx="-6.0" cy="20.8" rx="12" ry="9.2" fill="none" stroke="#ea6464" stroke-width="5.2"/>
<ellipse cx="-6.0" cy="20.1" rx="12.3" ry="9.4" fill="none" stroke="#f79c9c" stroke-width="1.7"/>
<path d="M-1.5,-1 C-4,-10 -11.5,-24 -9.5,-38 C-7,-52 7,-59.5 19,-60.5 C23.5,-60 22.5,-52 20.5,-42 C17.5,-27 9,-13 3,-1 Z" fill="#f42222"/>
<path d="M2,-2 C12,-6 30,-9.5 48,-12 C62,-14 76,-15 80,-12.8 C81.5,-9 73,-2 60,4 C48,8 34,9 22,8 C14,6.8 8,4 2,1.8 Z" fill="#f42222"/>
<circle cx="0" cy="0" r="4.8" fill="url(#gP)"/>
</g>
<text x="1580.5" y="110.2" font-size="27.3" class="" text-anchor="start" >DSN</text>
<text x="1565.4" y="211.5" font-size="27.3" class="" text-anchor="start" >miR-21</text>
<text x="1589.3" y="294.5" font-size="27.3" class="" text-anchor="start" >DNA</text>
<text x="1584" y="327.8" font-size="27.3" class="" text-anchor="start" >probe</text>
<path d="M1540.8 158.9 L1550.8 162 M1537.7 161.7 L1547.6 164.8 M1535.6 165.3 L1545.6 168.5 M1534.6 169.4 L1544.5 172.5 M1534.7 173.6 L1544.3 176.6 M1535.5 177.7 L1544.7 180.6 M1536.8 181.7 L1545 184.3 M1538.5 185.5 L1545.1 187.6 M1540.6 189.2 L1544.8 190.5 M1542.7 192.8 L1543.6 193.1 M1544.5 196.6 L1540.9 195.5 M1546.1 200.5 L1539.8 198.5 M1547.6 204.4 L1539.2 201.7 M1548.8 208.4 L1538.9 205.3 M1549.5 212.5 L1538.4 209.1 M1549.6 216.7 L1537.9 213.1 M1549.2 220.9 L1537.3 217.2 M1548.1 225 L1536.5 221.3 M1546.2 228.7 L1535.4 225.3 M1543.7 232.1 L1534.1 229.1 M1540.8 235.1 L1532.9 232.6 M1537.5 237.7 L1531.8 235.9 M1534.1 240.2 L1531.4 239.3" stroke="#79c957" stroke-width="1.25" fill="none"/>
<circle cx="1540.8" cy="158.9" r="2.3" fill="url(#gG)"/>
<circle cx="1537.7" cy="161.7" r="2.3" fill="url(#gG)"/>
<circle cx="1535.6" cy="165.3" r="2.3" fill="url(#gG)"/>
<circle cx="1534.6" cy="169.4" r="2.3" fill="url(#gG)"/>
<circle cx="1534.7" cy="173.6" r="2.3" fill="url(#gG)"/>
<circle cx="1535.5" cy="177.7" r="2.3" fill="url(#gG)"/>
<circle cx="1536.8" cy="181.7" r="2.3" fill="url(#gG)"/>
<circle cx="1538.5" cy="185.5" r="2.3" fill="url(#gG)"/>
<circle cx="1540.6" cy="189.2" r="2.3" fill="url(#gG)"/>
<circle cx="1542.7" cy="192.8" r="2.3" fill="url(#gG)"/>
<circle cx="1544.5" cy="196.6" r="2.3" fill="url(#gG)"/>
<circle cx="1546.1" cy="200.5" r="2.3" fill="url(#gG)"/>
<circle cx="1547.6" cy="204.4" r="2.3" fill="url(#gG)"/>
<circle cx="1548.8" cy="208.4" r="2.3" fill="url(#gG)"/>
<circle cx="1549.5" cy="212.5" r="2.3" fill="url(#gG)"/>
<circle cx="1549.6" cy="216.7" r="2.3" fill="url(#gG)"/>
<circle cx="1549.2" cy="220.9" r="2.3" fill="url(#gG)"/>
<circle cx="1548.1" cy="225" r="2.3" fill="url(#gG)"/>
<circle cx="1546.2" cy="228.7" r="2.3" fill="url(#gG)"/>
<circle cx="1543.7" cy="232.1" r="2.3" fill="url(#gG)"/>
<circle cx="1540.8" cy="235.1" r="2.3" fill="url(#gG)"/>
<circle cx="1537.5" cy="237.7" r="2.3" fill="url(#gG)"/>
<circle cx="1534.1" cy="240.2" r="2.3" fill="url(#gG)"/>
<circle cx="1530.5" cy="242.4" r="2.3" fill="url(#gG)"/>
<circle cx="1526.9" cy="244.6" r="2.3" fill="url(#gG)"/>
<circle cx="1523.4" cy="246.9" r="2.3" fill="url(#gG)"/>
<path d="M1547.1 272.6 L1556.8 277.7 M1543.3 274.3 L1552.9 279.5 M1539.9 276.9 L1549.6 282 M1537.4 280.2 L1547 285.4 M1535.9 284.1 L1545.3 289.2 M1535.1 288.2 L1544.3 293.1 M1535.3 292.4 L1543.7 296.9 M1536.3 296.5 L1543.6 300.4 M1537.6 300.5 L1543.2 303.4 M1539 304.5 L1542.1 306.1 M1541 312.6 L1536.2 310.1 M1541.5 316.8 L1533.9 312.7 M1541.5 321 L1531.9 315.8 M1541.2 325.2 L1530 319.2 M1540.3 329.3 L1528.2 322.8 M1538.8 333.2 L1526.5 326.6 M1536.7 336.8 L1524.7 330.4 M1534.1 340.1 L1522.9 334.2 M1531 342.9 L1521.3 337.8 M1527.4 345.2 L1519.8 341.1 M1523.8 347.4 L1519.1 344.8" stroke="#35c2d6" stroke-width="1.25" fill="none"/>
<circle cx="1547.1" cy="272.6" r="2.3" fill="url(#gC)"/>
<circle cx="1543.3" cy="274.3" r="2.3" fill="url(#gC)"/>
<circle cx="1539.9" cy="276.9" r="2.3" fill="url(#gC)"/>
<circle cx="1537.4" cy="280.2" r="2.3" fill="url(#gC)"/>
<circle cx="1535.9" cy="284.1" r="2.3" fill="url(#gC)"/>
<circle cx="1535.1" cy="288.2" r="2.3" fill="url(#gC)"/>
<circle cx="1535.3" cy="292.4" r="2.3" fill="url(#gC)"/>
<circle cx="1536.3" cy="296.5" r="2.3" fill="url(#gC)"/>
<circle cx="1537.6" cy="300.5" r="2.3" fill="url(#gC)"/>
<circle cx="1539" cy="304.5" r="2.3" fill="url(#gC)"/>
<circle cx="1540.1" cy="308.5" r="2.3" fill="url(#gC)"/>
<circle cx="1541" cy="312.6" r="2.3" fill="url(#gC)"/>
<circle cx="1541.5" cy="316.8" r="2.3" fill="url(#gC)"/>
<circle cx="1541.5" cy="321" r="2.3" fill="url(#gC)"/>
<circle cx="1541.2" cy="325.2" r="2.3" fill="url(#gC)"/>
<circle cx="1540.3" cy="329.3" r="2.3" fill="url(#gC)"/>
<circle cx="1538.8" cy="333.2" r="2.3" fill="url(#gC)"/>
<circle cx="1536.7" cy="336.8" r="2.3" fill="url(#gC)"/>
<circle cx="1534.1" cy="340.1" r="2.3" fill="url(#gC)"/>
<circle cx="1531" cy="342.9" r="2.3" fill="url(#gC)"/>
<circle cx="1527.4" cy="345.2" r="2.3" fill="url(#gC)"/>
<circle cx="1523.8" cy="347.4" r="2.3" fill="url(#gC)"/>
<circle cx="1520.2" cy="349.5" r="2.3" fill="url(#gC)"/>
<circle cx="1516.4" cy="351.3" r="2.3" fill="url(#gC)"/>
<circle cx="1512.5" cy="352.9" r="2.3" fill="url(#gC)"/>
<circle cx="1508.6" cy="354.3" r="2.3" fill="url(#gC)"/>
<path d="M1698,884 L1693.5,889 L1698,894 Z" fill="#9a9a9a"/>
</svg>
</body></html>
